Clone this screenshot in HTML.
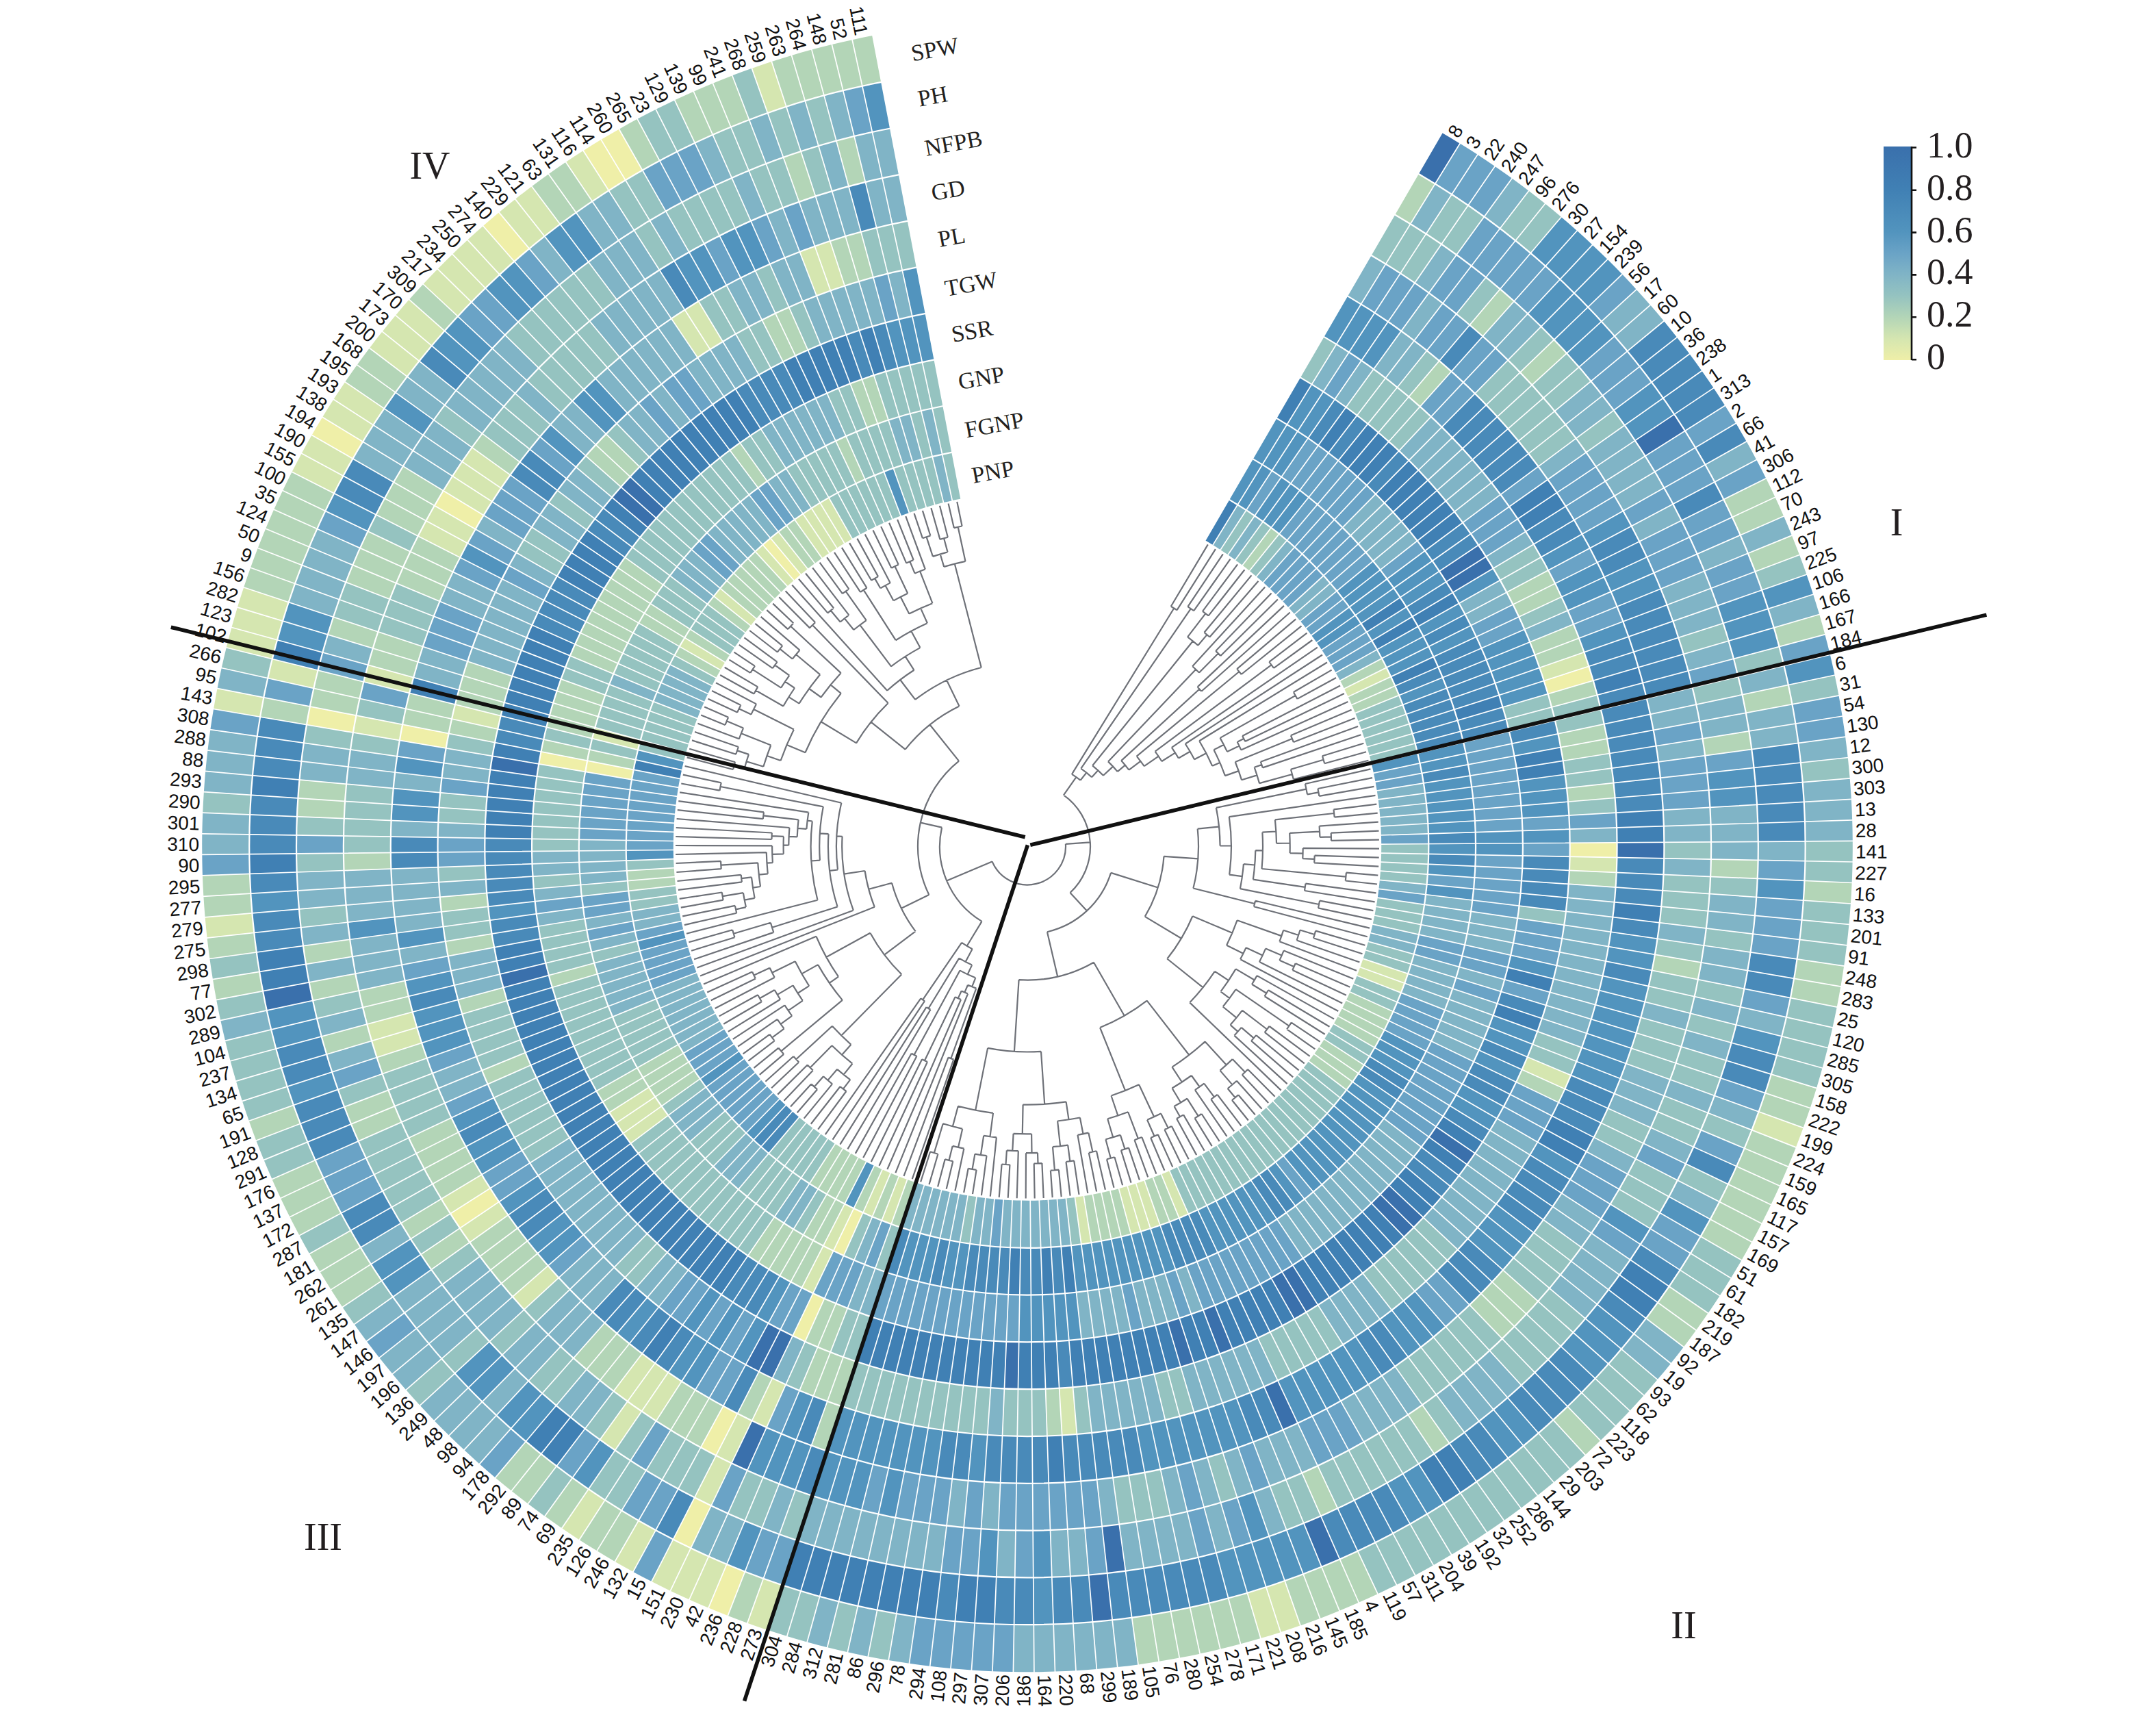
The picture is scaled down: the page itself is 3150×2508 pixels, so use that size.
<!DOCTYPE html><html><head><meta charset="utf-8"><title>Circular heatmap</title>
<style>html,body{margin:0;padding:0;background:#fff}svg{display:block}.s{font-family:"Liberation Sans",sans-serif;font-size:28px;fill:#111}.t{font-family:"Liberation Serif",serif;font-size:34px;fill:#231f20}.g{font-family:"Liberation Serif",serif;font-size:56px;fill:#231f20}.l{font-family:"Liberation Serif",serif;font-size:54px;fill:#231f20}</style></head><body>
<svg xmlns="http://www.w3.org/2000/svg" width="3150" height="2508" viewBox="0 0 3150 2508">
<rect width="3150" height="2508" fill="#fff"/>
<g fill="none" stroke-width="69.4">
<path d="M2089.4 223.9A1171.1 1171.1 0 0 1 2114.8 239.2" stroke="#3a70ac"/>
<path d="M2114.8 239.2A1171.1 1171.1 0 0 1 2139.9 255" stroke="#6aa3c6"/>
<path d="M2139.9 255A1171.1 1171.1 0 0 1 2164.5 271.5" stroke="#6aa3c6"/>
<path d="M2164.5 271.5A1171.1 1171.1 0 0 1 2188.7 288.6" stroke="#6aa3c6"/>
<path d="M2188.7 288.6A1171.1 1171.1 0 0 1 2212.5 306.3" stroke="#80b4c6"/>
<path d="M2212.5 306.3A1171.1 1171.1 0 0 1 2235.8 324.6" stroke="#95c3c0"/>
<path d="M2235.8 324.6A1171.1 1171.1 0 0 1 2258.6 343.5" stroke="#95c3c0"/>
<path d="M2258.6 343.5A1171.1 1171.1 0 0 1 2281 362.9" stroke="#5294be"/>
<path d="M2281 362.9A1171.1 1171.1 0 0 1 2302.8 383" stroke="#5294be"/>
<path d="M2302.8 383A1171.1 1171.1 0 0 1 2324.2 403.5" stroke="#5294be"/>
<path d="M2324.2 403.5A1171.1 1171.1 0 0 1 2345 424.6" stroke="#5294be"/>
<path d="M2345 424.6A1171.1 1171.1 0 0 1 2365.3 446.3" stroke="#6aa3c6"/>
<path d="M2365.3 446.3A1171.1 1171.1 0 0 1 2385 468.4" stroke="#80b4c6"/>
<path d="M2385 468.4A1171.1 1171.1 0 0 1 2404.2 491" stroke="#80b4c6"/>
<path d="M2404.2 491A1171.1 1171.1 0 0 1 2422.7 514.1" stroke="#498ab9"/>
<path d="M2422.7 514.1A1171.1 1171.1 0 0 1 2440.7 537.7" stroke="#498ab9"/>
<path d="M2440.7 537.7A1171.1 1171.1 0 0 1 2458.1 561.7" stroke="#498ab9"/>
<path d="M2458.1 561.7A1171.1 1171.1 0 0 1 2474.9 586.1" stroke="#498ab9"/>
<path d="M2474.9 586.1A1171.1 1171.1 0 0 1 2491 611" stroke="#498ab9"/>
<path d="M2491 611A1171.1 1171.1 0 0 1 2506.5 636.2" stroke="#6aa3c6"/>
<path d="M2506.5 636.2A1171.1 1171.1 0 0 1 2521.4 661.8" stroke="#498ab9"/>
<path d="M2521.4 661.8A1171.1 1171.1 0 0 1 2535.6 687.9" stroke="#80b4c6"/>
<path d="M2535.6 687.9A1171.1 1171.1 0 0 1 2549.2 714.2" stroke="#6aa3c6"/>
<path d="M2549.2 714.2A1171.1 1171.1 0 0 1 2562.1 740.9" stroke="#b3d5b7"/>
<path d="M2562.1 740.9A1171.1 1171.1 0 0 1 2574.3 767.9" stroke="#b3d5b7"/>
<path d="M2574.3 767.9A1171.1 1171.1 0 0 1 2585.8 795.2" stroke="#80b4c6"/>
<path d="M2585.8 795.2A1171.1 1171.1 0 0 1 2596.6 822.8" stroke="#b3d5b7"/>
<path d="M2596.6 822.8A1171.1 1171.1 0 0 1 2606.7 850.7" stroke="#95c3c0"/>
<path d="M2606.7 850.7A1171.1 1171.1 0 0 1 2616.1 878.8" stroke="#5294be"/>
<path d="M2616.1 878.8A1171.1 1171.1 0 0 1 2624.8 907.1" stroke="#80b4c6"/>
<path d="M2624.8 907.1A1171.1 1171.1 0 0 1 2632.8 935.7" stroke="#b3d5b7"/>
<path d="M2632.8 935.7A1171.1 1171.1 0 0 1 2640.1 964.4" stroke="#6aa3c6"/>
<path d="M2640.1 964.4A1171.1 1171.1 0 0 1 2646.6 993.3" stroke="#5294be"/>
<path d="M2646.6 993.3A1171.1 1171.1 0 0 1 2652.4 1022.4" stroke="#95c3c0"/>
<path d="M2652.4 1022.4A1171.1 1171.1 0 0 1 2657.4 1051.6" stroke="#6aa3c6"/>
<path d="M2657.4 1051.6A1171.1 1171.1 0 0 1 2661.7 1080.9" stroke="#6aa3c6"/>
<path d="M2661.7 1080.9A1171.1 1171.1 0 0 1 2665.3 1110.4" stroke="#80b4c6"/>
<path d="M2665.3 1110.4A1171.1 1171.1 0 0 1 2668.1 1139.9" stroke="#95c3c0"/>
<path d="M2668.1 1139.9A1171.1 1171.1 0 0 1 2670.2 1169.4" stroke="#80b4c6"/>
<path d="M2670.2 1169.4A1171.1 1171.1 0 0 1 2671.5 1199" stroke="#80b4c6"/>
<path d="M2671.5 1199A1171.1 1171.1 0 0 1 2672.1 1228.7" stroke="#80b4c6"/>
<path d="M2672.1 1228.7A1171.1 1171.1 0 0 1 2671.9 1258.3" stroke="#95c3c0"/>
<path d="M2671.9 1258.3A1171.1 1171.1 0 0 1 2671 1287.9" stroke="#95c3c0"/>
<path d="M2671 1287.9A1171.1 1171.1 0 0 1 2669.3 1317.5" stroke="#b3d5b7"/>
<path d="M2669.3 1317.5A1171.1 1171.1 0 0 1 2666.9 1347.1" stroke="#95c3c0"/>
<path d="M2666.9 1347.1A1171.1 1171.1 0 0 1 2663.7 1376.6" stroke="#95c3c0"/>
<path d="M2663.7 1376.6A1171.1 1171.1 0 0 1 2659.8 1405.9" stroke="#95c3c0"/>
<path d="M2659.8 1405.9A1171.1 1171.1 0 0 1 2655.1 1435.2" stroke="#b3d5b7"/>
<path d="M2655.1 1435.2A1171.1 1171.1 0 0 1 2649.7 1464.3" stroke="#b3d5b7"/>
<path d="M2649.7 1464.3A1171.1 1171.1 0 0 1 2643.6 1493.3" stroke="#95c3c0"/>
<path d="M2643.6 1493.3A1171.1 1171.1 0 0 1 2636.7 1522.2" stroke="#95c3c0"/>
<path d="M2636.7 1522.2A1171.1 1171.1 0 0 1 2629.1 1550.8" stroke="#95c3c0"/>
<path d="M2629.1 1550.8A1171.1 1171.1 0 0 1 2620.8 1579.3" stroke="#95c3c0"/>
<path d="M2620.8 1579.3A1171.1 1171.1 0 0 1 2611.8 1607.5" stroke="#b3d5b7"/>
<path d="M2611.8 1607.5A1171.1 1171.1 0 0 1 2602 1635.5" stroke="#b3d5b7"/>
<path d="M2602 1635.5A1171.1 1171.1 0 0 1 2591.6 1663.2" stroke="#d5e6b0"/>
<path d="M2591.6 1663.2A1171.1 1171.1 0 0 1 2580.4 1690.7" stroke="#b3d5b7"/>
<path d="M2580.4 1690.7A1171.1 1171.1 0 0 1 2568.6 1717.9" stroke="#b3d5b7"/>
<path d="M2568.6 1717.9A1171.1 1171.1 0 0 1 2556.1 1744.7" stroke="#b3d5b7"/>
<path d="M2556.1 1744.7A1171.1 1171.1 0 0 1 2542.9 1771.3" stroke="#b3d5b7"/>
<path d="M2542.9 1771.3A1171.1 1171.1 0 0 1 2529 1797.5" stroke="#b3d5b7"/>
<path d="M2529 1797.5A1171.1 1171.1 0 0 1 2514.5 1823.3" stroke="#b3d5b7"/>
<path d="M2514.5 1823.3A1171.1 1171.1 0 0 1 2499.3 1848.8" stroke="#95c3c0"/>
<path d="M2499.3 1848.8A1171.1 1171.1 0 0 1 2483.5 1873.8" stroke="#95c3c0"/>
<path d="M2483.5 1873.8A1171.1 1171.1 0 0 1 2467 1898.5" stroke="#95c3c0"/>
<path d="M2467 1898.5A1171.1 1171.1 0 0 1 2450 1922.7" stroke="#b3d5b7"/>
<path d="M2450 1922.7A1171.1 1171.1 0 0 1 2432.3 1946.5" stroke="#b3d5b7"/>
<path d="M2432.3 1946.5A1171.1 1171.1 0 0 1 2414 1969.9" stroke="#80b4c6"/>
<path d="M2414 1969.9A1171.1 1171.1 0 0 1 2395.2 1992.7" stroke="#80b4c6"/>
<path d="M2395.2 1992.7A1171.1 1171.1 0 0 1 2375.8 2015.1" stroke="#95c3c0"/>
<path d="M2375.8 2015.1A1171.1 1171.1 0 0 1 2355.8 2037" stroke="#95c3c0"/>
<path d="M2355.8 2037A1171.1 1171.1 0 0 1 2335.2 2058.4" stroke="#95c3c0"/>
<path d="M2335.2 2058.4A1171.1 1171.1 0 0 1 2314.2 2079.2" stroke="#95c3c0"/>
<path d="M2314.2 2079.2A1171.1 1171.1 0 0 1 2292.6 2099.6" stroke="#b3d5b7"/>
<path d="M2292.6 2099.6A1171.1 1171.1 0 0 1 2270.5 2119.3" stroke="#95c3c0"/>
<path d="M2270.5 2119.3A1171.1 1171.1 0 0 1 2247.9 2138.5" stroke="#95c3c0"/>
<path d="M2247.9 2138.5A1171.1 1171.1 0 0 1 2224.8 2157.1" stroke="#95c3c0"/>
<path d="M2224.8 2157.1A1171.1 1171.1 0 0 1 2201.3 2175.1" stroke="#95c3c0"/>
<path d="M2201.3 2175.1A1171.1 1171.1 0 0 1 2177.3 2192.6" stroke="#95c3c0"/>
<path d="M2177.3 2192.6A1171.1 1171.1 0 0 1 2152.9 2209.4" stroke="#95c3c0"/>
<path d="M2152.9 2209.4A1171.1 1171.1 0 0 1 2128.1 2225.6" stroke="#95c3c0"/>
<path d="M2128.1 2225.6A1171.1 1171.1 0 0 1 2102.8 2241.1" stroke="#95c3c0"/>
<path d="M2102.8 2241.1A1171.1 1171.1 0 0 1 2077.2 2256" stroke="#95c3c0"/>
<path d="M2077.2 2256A1171.1 1171.1 0 0 1 2051.2 2270.3" stroke="#95c3c0"/>
<path d="M2051.2 2270.3A1171.1 1171.1 0 0 1 2024.9 2283.9" stroke="#95c3c0"/>
<path d="M2024.9 2283.9A1171.1 1171.1 0 0 1 1998.2 2296.8" stroke="#95c3c0"/>
<path d="M1998.2 2296.8A1171.1 1171.1 0 0 1 1971.2 2309" stroke="#b3d5b7"/>
<path d="M1971.2 2309A1171.1 1171.1 0 0 1 1943.9 2320.6" stroke="#b3d5b7"/>
<path d="M1943.9 2320.6A1171.1 1171.1 0 0 1 1916.4 2331.5" stroke="#b3d5b7"/>
<path d="M1916.4 2331.5A1171.1 1171.1 0 0 1 1888.5 2341.6" stroke="#b3d5b7"/>
<path d="M1888.5 2341.6A1171.1 1171.1 0 0 1 1860.4 2351.1" stroke="#d5e6b0"/>
<path d="M1860.4 2351.1A1171.1 1171.1 0 0 1 1832.1 2359.8" stroke="#d5e6b0"/>
<path d="M1832.1 2359.8A1171.1 1171.1 0 0 1 1803.6 2367.8" stroke="#b3d5b7"/>
<path d="M1803.6 2367.8A1171.1 1171.1 0 0 1 1774.8 2375.1" stroke="#b3d5b7"/>
<path d="M1774.8 2375.1A1171.1 1171.1 0 0 1 1745.9 2381.7" stroke="#b3d5b7"/>
<path d="M1745.9 2381.7A1171.1 1171.1 0 0 1 1716.9 2387.5" stroke="#b3d5b7"/>
<path d="M1716.9 2387.5A1171.1 1171.1 0 0 1 1687.7 2392.6" stroke="#b3d5b7"/>
<path d="M1687.7 2392.6A1171.1 1171.1 0 0 1 1658.4 2397" stroke="#b3d5b7"/>
<path d="M1658.4 2397A1171.1 1171.1 0 0 1 1628.9 2400.6" stroke="#80b4c6"/>
<path d="M1628.9 2400.6A1171.1 1171.1 0 0 1 1599.4 2403.5" stroke="#80b4c6"/>
<path d="M1599.4 2403.5A1171.1 1171.1 0 0 1 1569.9 2405.6" stroke="#80b4c6"/>
<path d="M1569.9 2405.6A1171.1 1171.1 0 0 1 1540.3 2406.9" stroke="#80b4c6"/>
<path d="M1540.3 2406.9A1171.1 1171.1 0 0 1 1510.6 2407.6" stroke="#80b4c6"/>
<path d="M1510.6 2407.6A1171.1 1171.1 0 0 1 1481 2407.4" stroke="#80b4c6"/>
<path d="M1481 2407.4A1171.1 1171.1 0 0 1 1451.4 2406.5" stroke="#6aa3c6"/>
<path d="M1451.4 2406.5A1171.1 1171.1 0 0 1 1421.8 2404.9" stroke="#6aa3c6"/>
<path d="M1421.8 2404.9A1171.1 1171.1 0 0 1 1392.2 2402.5" stroke="#6aa3c6"/>
<path d="M1392.2 2402.5A1171.1 1171.1 0 0 1 1362.8 2399.4" stroke="#6aa3c6"/>
<path d="M1362.8 2399.4A1171.1 1171.1 0 0 1 1333.4 2395.5" stroke="#6aa3c6"/>
<path d="M1333.4 2395.5A1171.1 1171.1 0 0 1 1304.1 2390.9" stroke="#80b4c6"/>
<path d="M1304.1 2390.9A1171.1 1171.1 0 0 1 1274.9 2385.6" stroke="#95c3c0"/>
<path d="M1274.9 2385.6A1171.1 1171.1 0 0 1 1245.9 2379.5" stroke="#80b4c6"/>
<path d="M1245.9 2379.5A1171.1 1171.1 0 0 1 1217.1 2372.7" stroke="#95c3c0"/>
<path d="M1217.1 2372.7A1171.1 1171.1 0 0 1 1188.4 2365.1" stroke="#80b4c6"/>
<path d="M1188.4 2365.1A1171.1 1171.1 0 0 1 1160 2356.8" stroke="#95c3c0"/>
<path d="M1160 2356.8A1171.1 1171.1 0 0 1 1131.7 2347.9" stroke="#95c3c0"/>
<path d="M1131.7 2347.9A1171.1 1171.1 0 0 1 1103.7 2338.1" stroke="#d5e6b0"/>
<path d="M1103.7 2338.1A1171.1 1171.1 0 0 1 1075.9 2327.7" stroke="#b3d5b7"/>
<path d="M1075.9 2327.7A1171.1 1171.1 0 0 1 1048.5 2316.6" stroke="#efefa8"/>
<path d="M1048.5 2316.6A1171.1 1171.1 0 0 1 1021.3 2304.8" stroke="#d5e6b0"/>
<path d="M1021.3 2304.8A1171.1 1171.1 0 0 1 994.4 2292.4" stroke="#d5e6b0"/>
<path d="M994.4 2292.4A1171.1 1171.1 0 0 1 967.8 2279.2" stroke="#d5e6b0"/>
<path d="M967.8 2279.2A1171.1 1171.1 0 0 1 941.6 2265.4" stroke="#6aa3c6"/>
<path d="M941.6 2265.4A1171.1 1171.1 0 0 1 915.8 2250.9" stroke="#d5e6b0"/>
<path d="M915.8 2250.9A1171.1 1171.1 0 0 1 890.3 2235.7" stroke="#b3d5b7"/>
<path d="M890.3 2235.7A1171.1 1171.1 0 0 1 865.2 2220" stroke="#b3d5b7"/>
<path d="M865.2 2220A1171.1 1171.1 0 0 1 840.5 2203.6" stroke="#d5e6b0"/>
<path d="M840.5 2203.6A1171.1 1171.1 0 0 1 816.2 2186.5" stroke="#b3d5b7"/>
<path d="M816.2 2186.5A1171.1 1171.1 0 0 1 792.4 2168.9" stroke="#95c3c0"/>
<path d="M792.4 2168.9A1171.1 1171.1 0 0 1 769 2150.7" stroke="#b3d5b7"/>
<path d="M769 2150.7A1171.1 1171.1 0 0 1 746.1 2131.9" stroke="#b3d5b7"/>
<path d="M746.1 2131.9A1171.1 1171.1 0 0 1 723.7 2112.5" stroke="#6aa3c6"/>
<path d="M723.7 2112.5A1171.1 1171.1 0 0 1 701.8 2092.5" stroke="#80b4c6"/>
<path d="M701.8 2092.5A1171.1 1171.1 0 0 1 680.4 2072" stroke="#80b4c6"/>
<path d="M680.4 2072A1171.1 1171.1 0 0 1 659.5 2051" stroke="#80b4c6"/>
<path d="M659.5 2051A1171.1 1171.1 0 0 1 639.2 2029.4" stroke="#80b4c6"/>
<path d="M639.2 2029.4A1171.1 1171.1 0 0 1 619.4 2007.4" stroke="#95c3c0"/>
<path d="M619.4 2007.4A1171.1 1171.1 0 0 1 600.2 1984.8" stroke="#80b4c6"/>
<path d="M600.2 1984.8A1171.1 1171.1 0 0 1 581.5 1961.8" stroke="#80b4c6"/>
<path d="M581.5 1961.8A1171.1 1171.1 0 0 1 563.4 1938.3" stroke="#6aa3c6"/>
<path d="M563.4 1938.3A1171.1 1171.1 0 0 1 546 1914.3" stroke="#80b4c6"/>
<path d="M546 1914.3A1171.1 1171.1 0 0 1 529.1 1889.9" stroke="#95c3c0"/>
<path d="M529.1 1889.9A1171.1 1171.1 0 0 1 512.9 1865.1" stroke="#b3d5b7"/>
<path d="M512.9 1865.1A1171.1 1171.1 0 0 1 497.3 1839.9" stroke="#b3d5b7"/>
<path d="M497.3 1839.9A1171.1 1171.1 0 0 1 482.4 1814.3" stroke="#b3d5b7"/>
<path d="M482.4 1814.3A1171.1 1171.1 0 0 1 468.1 1788.3" stroke="#95c3c0"/>
<path d="M468.1 1788.3A1171.1 1171.1 0 0 1 454.4 1762" stroke="#b3d5b7"/>
<path d="M454.4 1762A1171.1 1171.1 0 0 1 441.5 1735.4" stroke="#b3d5b7"/>
<path d="M441.5 1735.4A1171.1 1171.1 0 0 1 429.2 1708.4" stroke="#b3d5b7"/>
<path d="M429.2 1708.4A1171.1 1171.1 0 0 1 417.6 1681.1" stroke="#95c3c0"/>
<path d="M417.6 1681.1A1171.1 1171.1 0 0 1 406.7 1653.6" stroke="#95c3c0"/>
<path d="M406.7 1653.6A1171.1 1171.1 0 0 1 396.5 1625.7" stroke="#b3d5b7"/>
<path d="M396.5 1625.7A1171.1 1171.1 0 0 1 387 1597.7" stroke="#95c3c0"/>
<path d="M387 1597.7A1171.1 1171.1 0 0 1 378.2 1569.3" stroke="#95c3c0"/>
<path d="M378.2 1569.3A1171.1 1171.1 0 0 1 370.1 1540.8" stroke="#95c3c0"/>
<path d="M370.1 1540.8A1171.1 1171.1 0 0 1 362.8 1512.1" stroke="#95c3c0"/>
<path d="M362.8 1512.1A1171.1 1171.1 0 0 1 356.2 1483.2" stroke="#80b4c6"/>
<path d="M356.2 1483.2A1171.1 1171.1 0 0 1 350.3 1454.2" stroke="#95c3c0"/>
<path d="M350.3 1454.2A1171.1 1171.1 0 0 1 345.2 1425" stroke="#b3d5b7"/>
<path d="M345.2 1425A1171.1 1171.1 0 0 1 340.8 1395.7" stroke="#95c3c0"/>
<path d="M340.8 1395.7A1171.1 1171.1 0 0 1 337.1 1366.2" stroke="#b3d5b7"/>
<path d="M337.1 1366.2A1171.1 1171.1 0 0 1 334.2 1336.7" stroke="#d5e6b0"/>
<path d="M334.2 1336.7A1171.1 1171.1 0 0 1 332 1307.2" stroke="#b3d5b7"/>
<path d="M332 1307.2A1171.1 1171.1 0 0 1 330.6 1277.6" stroke="#b3d5b7"/>
<path d="M330.6 1277.6A1171.1 1171.1 0 0 1 330 1247.9" stroke="#6aa3c6"/>
<path d="M330 1247.9A1171.1 1171.1 0 0 1 330 1218.3" stroke="#80b4c6"/>
<path d="M330 1218.3A1171.1 1171.1 0 0 1 330.9 1188.7" stroke="#80b4c6"/>
<path d="M330.9 1188.7A1171.1 1171.1 0 0 1 332.5 1159.1" stroke="#95c3c0"/>
<path d="M332.5 1159.1A1171.1 1171.1 0 0 1 334.8 1129.5" stroke="#80b4c6"/>
<path d="M334.8 1129.5A1171.1 1171.1 0 0 1 337.9 1100.1" stroke="#80b4c6"/>
<path d="M337.9 1100.1A1171.1 1171.1 0 0 1 341.7 1070.7" stroke="#80b4c6"/>
<path d="M341.7 1070.7A1171.1 1171.1 0 0 1 346.3 1041.4" stroke="#6aa3c6"/>
<path d="M346.3 1041.4A1171.1 1171.1 0 0 1 351.6 1012.2" stroke="#d5e6b0"/>
<path d="M351.6 1012.2A1171.1 1171.1 0 0 1 357.6 983.2" stroke="#80b4c6"/>
<path d="M357.6 983.2A1171.1 1171.1 0 0 1 364.4 954.3" stroke="#95c3c0"/>
<path d="M364.4 954.3A1171.1 1171.1 0 0 1 371.9 925.7" stroke="#d5e6b0"/>
<path d="M371.9 925.7A1171.1 1171.1 0 0 1 380.1 897.2" stroke="#d5e6b0"/>
<path d="M380.1 897.2A1171.1 1171.1 0 0 1 389.1 868.9" stroke="#d5e6b0"/>
<path d="M389.1 868.9A1171.1 1171.1 0 0 1 398.7 840.9" stroke="#b3d5b7"/>
<path d="M398.7 840.9A1171.1 1171.1 0 0 1 409.1 813.1" stroke="#b3d5b7"/>
<path d="M409.1 813.1A1171.1 1171.1 0 0 1 420.2 785.6" stroke="#b3d5b7"/>
<path d="M420.2 785.6A1171.1 1171.1 0 0 1 431.9 758.4" stroke="#b3d5b7"/>
<path d="M431.9 758.4A1171.1 1171.1 0 0 1 444.4 731.5" stroke="#b3d5b7"/>
<path d="M444.4 731.5A1171.1 1171.1 0 0 1 457.5 705" stroke="#b3d5b7"/>
<path d="M457.5 705A1171.1 1171.1 0 0 1 471.3 678.7" stroke="#d5e6b0"/>
<path d="M471.3 678.7A1171.1 1171.1 0 0 1 485.7 652.8" stroke="#d5e6b0"/>
<path d="M485.7 652.8A1171.1 1171.1 0 0 1 500.8 627.3" stroke="#efefa8"/>
<path d="M500.8 627.3A1171.1 1171.1 0 0 1 516.5 602.2" stroke="#d5e6b0"/>
<path d="M516.5 602.2A1171.1 1171.1 0 0 1 532.9 577.5" stroke="#d5e6b0"/>
<path d="M532.9 577.5A1171.1 1171.1 0 0 1 549.9 553.2" stroke="#b3d5b7"/>
<path d="M549.9 553.2A1171.1 1171.1 0 0 1 567.5 529.4" stroke="#b3d5b7"/>
<path d="M567.5 529.4A1171.1 1171.1 0 0 1 585.7 506" stroke="#d5e6b0"/>
<path d="M585.7 506A1171.1 1171.1 0 0 1 604.5 483" stroke="#d5e6b0"/>
<path d="M604.5 483A1171.1 1171.1 0 0 1 623.8 460.6" stroke="#d5e6b0"/>
<path d="M623.8 460.6A1171.1 1171.1 0 0 1 643.8 438.6" stroke="#b3d5b7"/>
<path d="M643.8 438.6A1171.1 1171.1 0 0 1 664.2 417.2" stroke="#d5e6b0"/>
<path d="M664.2 417.2A1171.1 1171.1 0 0 1 685.2 396.3" stroke="#d5e6b0"/>
<path d="M685.2 396.3A1171.1 1171.1 0 0 1 706.7 375.9" stroke="#d5e6b0"/>
<path d="M706.7 375.9A1171.1 1171.1 0 0 1 728.8 356.1" stroke="#d5e6b0"/>
<path d="M728.8 356.1A1171.1 1171.1 0 0 1 751.3 336.8" stroke="#efefa8"/>
<path d="M751.3 336.8A1171.1 1171.1 0 0 1 774.3 318.1" stroke="#d5e6b0"/>
<path d="M774.3 318.1A1171.1 1171.1 0 0 1 797.8 300" stroke="#d5e6b0"/>
<path d="M797.8 300A1171.1 1171.1 0 0 1 821.7 282.5" stroke="#b3d5b7"/>
<path d="M821.7 282.5A1171.1 1171.1 0 0 1 846.1 265.6" stroke="#b3d5b7"/>
<path d="M846.1 265.6A1171.1 1171.1 0 0 1 870.9 249.4" stroke="#d5e6b0"/>
<path d="M870.9 249.4A1171.1 1171.1 0 0 1 896 233.8" stroke="#efefa8"/>
<path d="M896 233.8A1171.1 1171.1 0 0 1 921.6 218.8" stroke="#efefa8"/>
<path d="M921.6 218.8A1171.1 1171.1 0 0 1 947.6 204.4" stroke="#b3d5b7"/>
<path d="M947.6 204.4A1171.1 1171.1 0 0 1 973.9 190.8" stroke="#95c3c0"/>
<path d="M973.9 190.8A1171.1 1171.1 0 0 1 1000.5 177.7" stroke="#95c3c0"/>
<path d="M1000.5 177.7A1171.1 1171.1 0 0 1 1027.4 165.4" stroke="#b3d5b7"/>
<path d="M1027.4 165.4A1171.1 1171.1 0 0 1 1054.7 153.8" stroke="#b3d5b7"/>
<path d="M1054.7 153.8A1171.1 1171.1 0 0 1 1082.2 142.8" stroke="#b3d5b7"/>
<path d="M1082.2 142.8A1171.1 1171.1 0 0 1 1110.1 132.6" stroke="#95c3c0"/>
<path d="M1110.1 132.6A1171.1 1171.1 0 0 1 1138.1 123" stroke="#d5e6b0"/>
<path d="M1138.1 123A1171.1 1171.1 0 0 1 1166.4 114.2" stroke="#b3d5b7"/>
<path d="M1166.4 114.2A1171.1 1171.1 0 0 1 1194.9 106.1" stroke="#b3d5b7"/>
<path d="M1194.9 106.1A1171.1 1171.1 0 0 1 1223.6 98.7" stroke="#b3d5b7"/>
<path d="M1223.6 98.7A1171.1 1171.1 0 0 1 1252.5 92.1" stroke="#b3d5b7"/>
<path d="M1252.5 92.1A1171.1 1171.1 0 0 1 1281.6 86.1" stroke="#b3d5b7"/>
<path d="M2054.8 283.4A1102.3 1102.3 0 0 1 2078.8 297.7" stroke="#b3d5b7"/>
<path d="M2078.8 297.7A1102.3 1102.3 0 0 1 2102.3 312.7" stroke="#80b4c6"/>
<path d="M2102.3 312.7A1102.3 1102.3 0 0 1 2125.5 328.2" stroke="#95c3c0"/>
<path d="M2125.5 328.2A1102.3 1102.3 0 0 1 2148.3 344.3" stroke="#95c3c0"/>
<path d="M2148.3 344.3A1102.3 1102.3 0 0 1 2170.7 360.9" stroke="#6aa3c6"/>
<path d="M2170.7 360.9A1102.3 1102.3 0 0 1 2192.6 378.2" stroke="#6aa3c6"/>
<path d="M2192.6 378.2A1102.3 1102.3 0 0 1 2214.1 396" stroke="#6aa3c6"/>
<path d="M2214.1 396A1102.3 1102.3 0 0 1 2235.2 414.3" stroke="#6aa3c6"/>
<path d="M2235.2 414.3A1102.3 1102.3 0 0 1 2255.7 433.1" stroke="#6aa3c6"/>
<path d="M2255.7 433.1A1102.3 1102.3 0 0 1 2275.8 452.5" stroke="#5294be"/>
<path d="M2275.8 452.5A1102.3 1102.3 0 0 1 2295.4 472.3" stroke="#5294be"/>
<path d="M2295.4 472.3A1102.3 1102.3 0 0 1 2314.5 492.7" stroke="#5294be"/>
<path d="M2314.5 492.7A1102.3 1102.3 0 0 1 2333.1 513.5" stroke="#5294be"/>
<path d="M2333.1 513.5A1102.3 1102.3 0 0 1 2351.1 534.8" stroke="#6aa3c6"/>
<path d="M2351.1 534.8A1102.3 1102.3 0 0 1 2368.6 556.5" stroke="#6aa3c6"/>
<path d="M2368.6 556.5A1102.3 1102.3 0 0 1 2385.5 578.7" stroke="#6aa3c6"/>
<path d="M2385.5 578.7A1102.3 1102.3 0 0 1 2401.9 601.3" stroke="#5294be"/>
<path d="M2401.9 601.3A1102.3 1102.3 0 0 1 2417.7 624.3" stroke="#5294be"/>
<path d="M2417.7 624.3A1102.3 1102.3 0 0 1 2432.9 647.7" stroke="#3a70ac"/>
<path d="M2432.9 647.7A1102.3 1102.3 0 0 1 2447.5 671.5" stroke="#6aa3c6"/>
<path d="M2447.5 671.5A1102.3 1102.3 0 0 1 2461.5 695.6" stroke="#6aa3c6"/>
<path d="M2461.5 695.6A1102.3 1102.3 0 0 1 2474.9 720.1" stroke="#6aa3c6"/>
<path d="M2474.9 720.1A1102.3 1102.3 0 0 1 2487.6 744.9" stroke="#498ab9"/>
<path d="M2487.6 744.9A1102.3 1102.3 0 0 1 2499.7 770" stroke="#6aa3c6"/>
<path d="M2499.7 770A1102.3 1102.3 0 0 1 2511.2 795.5" stroke="#6aa3c6"/>
<path d="M2511.2 795.5A1102.3 1102.3 0 0 1 2522.1 821.2" stroke="#80b4c6"/>
<path d="M2522.1 821.2A1102.3 1102.3 0 0 1 2532.2 847.1" stroke="#6aa3c6"/>
<path d="M2532.2 847.1A1102.3 1102.3 0 0 1 2541.8 873.4" stroke="#6aa3c6"/>
<path d="M2541.8 873.4A1102.3 1102.3 0 0 1 2550.6 899.8" stroke="#5294be"/>
<path d="M2550.6 899.8A1102.3 1102.3 0 0 1 2558.8 926.5" stroke="#5294be"/>
<path d="M2558.8 926.5A1102.3 1102.3 0 0 1 2566.3 953.4" stroke="#5294be"/>
<path d="M2566.3 953.4A1102.3 1102.3 0 0 1 2573.1 980.4" stroke="#95c3c0"/>
<path d="M2573.1 980.4A1102.3 1102.3 0 0 1 2579.3 1007.6" stroke="#80b4c6"/>
<path d="M2579.3 1007.6A1102.3 1102.3 0 0 1 2584.7 1035" stroke="#b3d5b7"/>
<path d="M2584.7 1035A1102.3 1102.3 0 0 1 2589.5 1062.5" stroke="#80b4c6"/>
<path d="M2589.5 1062.5A1102.3 1102.3 0 0 1 2593.5 1090.1" stroke="#80b4c6"/>
<path d="M2593.5 1090.1A1102.3 1102.3 0 0 1 2596.9 1117.8" stroke="#498ab9"/>
<path d="M2596.9 1117.8A1102.3 1102.3 0 0 1 2599.5 1145.5" stroke="#498ab9"/>
<path d="M2599.5 1145.5A1102.3 1102.3 0 0 1 2601.5 1173.4" stroke="#498ab9"/>
<path d="M2601.5 1173.4A1102.3 1102.3 0 0 1 2602.7 1201.2" stroke="#498ab9"/>
<path d="M2602.7 1201.2A1102.3 1102.3 0 0 1 2603.3 1229.1" stroke="#498ab9"/>
<path d="M2603.3 1229.1A1102.3 1102.3 0 0 1 2603.1 1257" stroke="#80b4c6"/>
<path d="M2603.1 1257A1102.3 1102.3 0 0 1 2602.2 1284.9" stroke="#6aa3c6"/>
<path d="M2602.2 1284.9A1102.3 1102.3 0 0 1 2600.7 1312.8" stroke="#5294be"/>
<path d="M2600.7 1312.8A1102.3 1102.3 0 0 1 2598.4 1340.6" stroke="#6aa3c6"/>
<path d="M2598.4 1340.6A1102.3 1102.3 0 0 1 2595.4 1368.3" stroke="#6aa3c6"/>
<path d="M2595.4 1368.3A1102.3 1102.3 0 0 1 2591.7 1396" stroke="#6aa3c6"/>
<path d="M2591.7 1396A1102.3 1102.3 0 0 1 2587.3 1423.5" stroke="#498ab9"/>
<path d="M2587.3 1423.5A1102.3 1102.3 0 0 1 2582.2 1451" stroke="#498ab9"/>
<path d="M2582.2 1451A1102.3 1102.3 0 0 1 2576.5 1478.3" stroke="#6aa3c6"/>
<path d="M2576.5 1478.3A1102.3 1102.3 0 0 1 2570 1505.4" stroke="#80b4c6"/>
<path d="M2570 1505.4A1102.3 1102.3 0 0 1 2562.9 1532.4" stroke="#5294be"/>
<path d="M2562.9 1532.4A1102.3 1102.3 0 0 1 2555 1559.1" stroke="#498ab9"/>
<path d="M2555 1559.1A1102.3 1102.3 0 0 1 2546.5 1585.7" stroke="#498ab9"/>
<path d="M2546.5 1585.7A1102.3 1102.3 0 0 1 2537.3 1612.1" stroke="#6aa3c6"/>
<path d="M2537.3 1612.1A1102.3 1102.3 0 0 1 2527.5 1638.2" stroke="#80b4c6"/>
<path d="M2527.5 1638.2A1102.3 1102.3 0 0 1 2517 1664" stroke="#95c3c0"/>
<path d="M2517 1664A1102.3 1102.3 0 0 1 2505.9 1689.6" stroke="#6aa3c6"/>
<path d="M2505.9 1689.6A1102.3 1102.3 0 0 1 2494.1 1714.9" stroke="#498ab9"/>
<path d="M2494.1 1714.9A1102.3 1102.3 0 0 1 2481.7 1739.9" stroke="#95c3c0"/>
<path d="M2481.7 1739.9A1102.3 1102.3 0 0 1 2468.6 1764.5" stroke="#80b4c6"/>
<path d="M2468.6 1764.5A1102.3 1102.3 0 0 1 2454.9 1788.8" stroke="#5294be"/>
<path d="M2454.9 1788.8A1102.3 1102.3 0 0 1 2440.6 1812.8" stroke="#6aa3c6"/>
<path d="M2440.6 1812.8A1102.3 1102.3 0 0 1 2425.8 1836.4" stroke="#6aa3c6"/>
<path d="M2425.8 1836.4A1102.3 1102.3 0 0 1 2410.3 1859.6" stroke="#498ab9"/>
<path d="M2410.3 1859.6A1102.3 1102.3 0 0 1 2394.2 1882.4" stroke="#4080b4"/>
<path d="M2394.2 1882.4A1102.3 1102.3 0 0 1 2377.6 1904.8" stroke="#4080b4"/>
<path d="M2377.6 1904.8A1102.3 1102.3 0 0 1 2360.4 1926.8" stroke="#498ab9"/>
<path d="M2360.4 1926.8A1102.3 1102.3 0 0 1 2342.7 1948.3" stroke="#5294be"/>
<path d="M2342.7 1948.3A1102.3 1102.3 0 0 1 2324.4 1969.4" stroke="#5294be"/>
<path d="M2324.4 1969.4A1102.3 1102.3 0 0 1 2305.6 1990" stroke="#5294be"/>
<path d="M2305.6 1990A1102.3 1102.3 0 0 1 2286.2 2010.1" stroke="#498ab9"/>
<path d="M2286.2 2010.1A1102.3 1102.3 0 0 1 2266.4 2029.7" stroke="#498ab9"/>
<path d="M2266.4 2029.7A1102.3 1102.3 0 0 1 2246.1 2048.9" stroke="#498ab9"/>
<path d="M2246.1 2048.9A1102.3 1102.3 0 0 1 2225.3 2067.5" stroke="#498ab9"/>
<path d="M2225.3 2067.5A1102.3 1102.3 0 0 1 2204 2085.5" stroke="#5294be"/>
<path d="M2204 2085.5A1102.3 1102.3 0 0 1 2182.3 2103" stroke="#5294be"/>
<path d="M2182.3 2103A1102.3 1102.3 0 0 1 2160.2 2120" stroke="#498ab9"/>
<path d="M2160.2 2120A1102.3 1102.3 0 0 1 2137.6 2136.4" stroke="#498ab9"/>
<path d="M2137.6 2136.4A1102.3 1102.3 0 0 1 2114.6 2152.2" stroke="#4080b4"/>
<path d="M2114.6 2152.2A1102.3 1102.3 0 0 1 2091.2 2167.5" stroke="#4080b4"/>
<path d="M2091.2 2167.5A1102.3 1102.3 0 0 1 2067.5 2182.1" stroke="#5294be"/>
<path d="M2067.5 2182.1A1102.3 1102.3 0 0 1 2043.4 2196.1" stroke="#5294be"/>
<path d="M2043.4 2196.1A1102.3 1102.3 0 0 1 2018.9 2209.5" stroke="#498ab9"/>
<path d="M2018.9 2209.5A1102.3 1102.3 0 0 1 1994.1 2222.3" stroke="#498ab9"/>
<path d="M1994.1 2222.3A1102.3 1102.3 0 0 1 1969 2234.5" stroke="#498ab9"/>
<path d="M1969 2234.5A1102.3 1102.3 0 0 1 1943.6 2246" stroke="#498ab9"/>
<path d="M1943.6 2246A1102.3 1102.3 0 0 1 1917.9 2256.9" stroke="#3a70ac"/>
<path d="M1917.9 2256.9A1102.3 1102.3 0 0 1 1892 2267.1" stroke="#5294be"/>
<path d="M1892 2267.1A1102.3 1102.3 0 0 1 1865.8 2276.7" stroke="#5294be"/>
<path d="M1865.8 2276.7A1102.3 1102.3 0 0 1 1839.3 2285.6" stroke="#5294be"/>
<path d="M1839.3 2285.6A1102.3 1102.3 0 0 1 1812.7 2293.8" stroke="#5294be"/>
<path d="M1812.7 2293.8A1102.3 1102.3 0 0 1 1785.8 2301.4" stroke="#5294be"/>
<path d="M1785.8 2301.4A1102.3 1102.3 0 0 1 1758.8 2308.2" stroke="#498ab9"/>
<path d="M1758.8 2308.2A1102.3 1102.3 0 0 1 1731.5 2314.4" stroke="#498ab9"/>
<path d="M1731.5 2314.4A1102.3 1102.3 0 0 1 1704.2 2319.9" stroke="#498ab9"/>
<path d="M1704.2 2319.9A1102.3 1102.3 0 0 1 1676.7 2324.7" stroke="#498ab9"/>
<path d="M1676.7 2324.7A1102.3 1102.3 0 0 1 1649.1 2328.8" stroke="#498ab9"/>
<path d="M1649.1 2328.8A1102.3 1102.3 0 0 1 1621.4 2332.2" stroke="#498ab9"/>
<path d="M1621.4 2332.2A1102.3 1102.3 0 0 1 1593.7 2334.9" stroke="#3a70ac"/>
<path d="M1593.7 2334.9A1102.3 1102.3 0 0 1 1565.8 2336.9" stroke="#498ab9"/>
<path d="M1565.8 2336.9A1102.3 1102.3 0 0 1 1538 2338.2" stroke="#498ab9"/>
<path d="M1538 2338.2A1102.3 1102.3 0 0 1 1510.1 2338.8" stroke="#5294be"/>
<path d="M1510.1 2338.8A1102.3 1102.3 0 0 1 1482.2 2338.6" stroke="#498ab9"/>
<path d="M1482.2 2338.6A1102.3 1102.3 0 0 1 1454.3 2337.8" stroke="#498ab9"/>
<path d="M1454.3 2337.8A1102.3 1102.3 0 0 1 1426.4 2336.3" stroke="#4080b4"/>
<path d="M1426.4 2336.3A1102.3 1102.3 0 0 1 1398.6 2334" stroke="#4080b4"/>
<path d="M1398.6 2334A1102.3 1102.3 0 0 1 1370.9 2331.1" stroke="#498ab9"/>
<path d="M1370.9 2331.1A1102.3 1102.3 0 0 1 1343.2 2327.4" stroke="#4080b4"/>
<path d="M1343.2 2327.4A1102.3 1102.3 0 0 1 1315.7 2323.1" stroke="#4080b4"/>
<path d="M1315.7 2323.1A1102.3 1102.3 0 0 1 1288.2 2318.1" stroke="#4080b4"/>
<path d="M1288.2 2318.1A1102.3 1102.3 0 0 1 1260.9 2312.3" stroke="#4080b4"/>
<path d="M1260.9 2312.3A1102.3 1102.3 0 0 1 1233.8 2305.9" stroke="#4080b4"/>
<path d="M1233.8 2305.9A1102.3 1102.3 0 0 1 1206.8 2298.8" stroke="#4080b4"/>
<path d="M1206.8 2298.8A1102.3 1102.3 0 0 1 1180 2291" stroke="#4080b4"/>
<path d="M1180 2291A1102.3 1102.3 0 0 1 1153.4 2282.6" stroke="#4080b4"/>
<path d="M1153.4 2282.6A1102.3 1102.3 0 0 1 1127 2273.4" stroke="#6aa3c6"/>
<path d="M1127 2273.4A1102.3 1102.3 0 0 1 1100.9 2263.6" stroke="#6aa3c6"/>
<path d="M1100.9 2263.6A1102.3 1102.3 0 0 1 1075.1 2253.2" stroke="#5294be"/>
<path d="M1075.1 2253.2A1102.3 1102.3 0 0 1 1049.5 2242.1" stroke="#80b4c6"/>
<path d="M1049.5 2242.1A1102.3 1102.3 0 0 1 1024.2 2230.3" stroke="#80b4c6"/>
<path d="M1024.2 2230.3A1102.3 1102.3 0 0 1 999.2 2217.9" stroke="#efefa8"/>
<path d="M999.2 2217.9A1102.3 1102.3 0 0 1 974.5 2204.9" stroke="#498ab9"/>
<path d="M974.5 2204.9A1102.3 1102.3 0 0 1 950.1 2191.3" stroke="#6aa3c6"/>
<path d="M950.1 2191.3A1102.3 1102.3 0 0 1 926.2 2177" stroke="#6aa3c6"/>
<path d="M926.2 2177A1102.3 1102.3 0 0 1 902.5 2162.2" stroke="#95c3c0"/>
<path d="M902.5 2162.2A1102.3 1102.3 0 0 1 879.3 2146.7" stroke="#95c3c0"/>
<path d="M879.3 2146.7A1102.3 1102.3 0 0 1 856.5 2130.7" stroke="#5294be"/>
<path d="M856.5 2130.7A1102.3 1102.3 0 0 1 834 2114.1" stroke="#6aa3c6"/>
<path d="M834 2114.1A1102.3 1102.3 0 0 1 812 2097" stroke="#4080b4"/>
<path d="M812 2097A1102.3 1102.3 0 0 1 790.5 2079.3" stroke="#4080b4"/>
<path d="M790.5 2079.3A1102.3 1102.3 0 0 1 769.4 2061" stroke="#5294be"/>
<path d="M769.4 2061A1102.3 1102.3 0 0 1 748.8 2042.2" stroke="#5294be"/>
<path d="M748.8 2042.2A1102.3 1102.3 0 0 1 728.6 2022.9" stroke="#80b4c6"/>
<path d="M728.6 2022.9A1102.3 1102.3 0 0 1 708.9 2003.1" stroke="#5294be"/>
<path d="M708.9 2003.1A1102.3 1102.3 0 0 1 689.8 1982.8" stroke="#5294be"/>
<path d="M689.8 1982.8A1102.3 1102.3 0 0 1 671.2 1962.1" stroke="#95c3c0"/>
<path d="M671.2 1962.1A1102.3 1102.3 0 0 1 653.1 1940.8" stroke="#80b4c6"/>
<path d="M653.1 1940.8A1102.3 1102.3 0 0 1 635.5 1919.1" stroke="#80b4c6"/>
<path d="M635.5 1919.1A1102.3 1102.3 0 0 1 618.5 1897" stroke="#80b4c6"/>
<path d="M618.5 1897A1102.3 1102.3 0 0 1 602.1 1874.5" stroke="#80b4c6"/>
<path d="M602.1 1874.5A1102.3 1102.3 0 0 1 586.2 1851.5" stroke="#5294be"/>
<path d="M586.2 1851.5A1102.3 1102.3 0 0 1 571 1828.2" stroke="#5294be"/>
<path d="M571 1828.2A1102.3 1102.3 0 0 1 556.3 1804.5" stroke="#80b4c6"/>
<path d="M556.3 1804.5A1102.3 1102.3 0 0 1 542.2 1780.4" stroke="#498ab9"/>
<path d="M542.2 1780.4A1102.3 1102.3 0 0 1 528.8 1755.9" stroke="#498ab9"/>
<path d="M528.8 1755.9A1102.3 1102.3 0 0 1 515.9 1731.2" stroke="#6aa3c6"/>
<path d="M515.9 1731.2A1102.3 1102.3 0 0 1 503.7 1706.1" stroke="#6aa3c6"/>
<path d="M503.7 1706.1A1102.3 1102.3 0 0 1 492.2 1680.7" stroke="#6aa3c6"/>
<path d="M492.2 1680.7A1102.3 1102.3 0 0 1 481.2 1655" stroke="#498ab9"/>
<path d="M481.2 1655A1102.3 1102.3 0 0 1 471 1629.1" stroke="#498ab9"/>
<path d="M471 1629.1A1102.3 1102.3 0 0 1 461.4 1602.9" stroke="#498ab9"/>
<path d="M461.4 1602.9A1102.3 1102.3 0 0 1 452.4 1576.4" stroke="#5294be"/>
<path d="M452.4 1576.4A1102.3 1102.3 0 0 1 444.2 1549.8" stroke="#498ab9"/>
<path d="M444.2 1549.8A1102.3 1102.3 0 0 1 436.6 1522.9" stroke="#498ab9"/>
<path d="M436.6 1522.9A1102.3 1102.3 0 0 1 429.7 1495.9" stroke="#5294be"/>
<path d="M429.7 1495.9A1102.3 1102.3 0 0 1 423.4 1468.7" stroke="#5294be"/>
<path d="M423.4 1468.7A1102.3 1102.3 0 0 1 417.9 1441.4" stroke="#3a70ac"/>
<path d="M417.9 1441.4A1102.3 1102.3 0 0 1 413.1 1413.9" stroke="#4080b4"/>
<path d="M413.1 1413.9A1102.3 1102.3 0 0 1 408.9 1386.3" stroke="#4080b4"/>
<path d="M408.9 1386.3A1102.3 1102.3 0 0 1 405.5 1358.6" stroke="#498ab9"/>
<path d="M405.5 1358.6A1102.3 1102.3 0 0 1 402.7 1330.9" stroke="#498ab9"/>
<path d="M402.7 1330.9A1102.3 1102.3 0 0 1 400.7 1303" stroke="#5294be"/>
<path d="M400.7 1303A1102.3 1102.3 0 0 1 399.4 1275.2" stroke="#498ab9"/>
<path d="M399.4 1275.2A1102.3 1102.3 0 0 1 398.8 1247.3" stroke="#4080b4"/>
<path d="M398.8 1247.3A1102.3 1102.3 0 0 1 398.8 1219.4" stroke="#498ab9"/>
<path d="M398.8 1219.4A1102.3 1102.3 0 0 1 399.6 1191.5" stroke="#498ab9"/>
<path d="M399.6 1191.5A1102.3 1102.3 0 0 1 401.1 1163.6" stroke="#498ab9"/>
<path d="M401.1 1163.6A1102.3 1102.3 0 0 1 403.3 1135.8" stroke="#4080b4"/>
<path d="M403.3 1135.8A1102.3 1102.3 0 0 1 406.2 1108.1" stroke="#498ab9"/>
<path d="M406.2 1108.1A1102.3 1102.3 0 0 1 409.8 1080.4" stroke="#498ab9"/>
<path d="M409.8 1080.4A1102.3 1102.3 0 0 1 414.1 1052.8" stroke="#498ab9"/>
<path d="M414.1 1052.8A1102.3 1102.3 0 0 1 419.1 1025.4" stroke="#b3d5b7"/>
<path d="M419.1 1025.4A1102.3 1102.3 0 0 1 424.8 998.1" stroke="#6aa3c6"/>
<path d="M424.8 998.1A1102.3 1102.3 0 0 1 431.2 970.9" stroke="#d5e6b0"/>
<path d="M431.2 970.9A1102.3 1102.3 0 0 1 438.2 943.9" stroke="#4080b4"/>
<path d="M438.2 943.9A1102.3 1102.3 0 0 1 446 917.1" stroke="#5294be"/>
<path d="M446 917.1A1102.3 1102.3 0 0 1 454.4 890.5" stroke="#5294be"/>
<path d="M454.4 890.5A1102.3 1102.3 0 0 1 463.5 864.1" stroke="#80b4c6"/>
<path d="M463.5 864.1A1102.3 1102.3 0 0 1 473.2 838" stroke="#80b4c6"/>
<path d="M473.2 838A1102.3 1102.3 0 0 1 483.7 812.1" stroke="#80b4c6"/>
<path d="M483.7 812.1A1102.3 1102.3 0 0 1 494.7 786.5" stroke="#80b4c6"/>
<path d="M494.7 786.5A1102.3 1102.3 0 0 1 506.4 761.2" stroke="#6aa3c6"/>
<path d="M506.4 761.2A1102.3 1102.3 0 0 1 518.8 736.2" stroke="#5294be"/>
<path d="M518.8 736.2A1102.3 1102.3 0 0 1 531.8 711.5" stroke="#498ab9"/>
<path d="M531.8 711.5A1102.3 1102.3 0 0 1 545.4 687.1" stroke="#498ab9"/>
<path d="M545.4 687.1A1102.3 1102.3 0 0 1 559.6 663.1" stroke="#80b4c6"/>
<path d="M559.6 663.1A1102.3 1102.3 0 0 1 574.4 639.5" stroke="#80b4c6"/>
<path d="M574.4 639.5A1102.3 1102.3 0 0 1 589.8 616.2" stroke="#80b4c6"/>
<path d="M589.8 616.2A1102.3 1102.3 0 0 1 605.8 593.3" stroke="#5294be"/>
<path d="M605.8 593.3A1102.3 1102.3 0 0 1 622.3 570.9" stroke="#80b4c6"/>
<path d="M622.3 570.9A1102.3 1102.3 0 0 1 639.5 548.9" stroke="#80b4c6"/>
<path d="M639.5 548.9A1102.3 1102.3 0 0 1 657.1 527.3" stroke="#498ab9"/>
<path d="M657.1 527.3A1102.3 1102.3 0 0 1 675.4 506.2" stroke="#5294be"/>
<path d="M675.4 506.2A1102.3 1102.3 0 0 1 694.1 485.5" stroke="#5294be"/>
<path d="M694.1 485.5A1102.3 1102.3 0 0 1 713.4 465.3" stroke="#6aa3c6"/>
<path d="M713.4 465.3A1102.3 1102.3 0 0 1 733.1 445.6" stroke="#6aa3c6"/>
<path d="M733.1 445.6A1102.3 1102.3 0 0 1 753.4 426.5" stroke="#5294be"/>
<path d="M753.4 426.5A1102.3 1102.3 0 0 1 774.1 407.8" stroke="#5294be"/>
<path d="M774.1 407.8A1102.3 1102.3 0 0 1 795.4 389.7" stroke="#6aa3c6"/>
<path d="M795.4 389.7A1102.3 1102.3 0 0 1 817 372.1" stroke="#80b4c6"/>
<path d="M817 372.1A1102.3 1102.3 0 0 1 839.1 355" stroke="#5294be"/>
<path d="M839.1 355A1102.3 1102.3 0 0 1 861.6 338.6" stroke="#5294be"/>
<path d="M861.6 338.6A1102.3 1102.3 0 0 1 884.6 322.7" stroke="#80b4c6"/>
<path d="M884.6 322.7A1102.3 1102.3 0 0 1 907.9 307.4" stroke="#80b4c6"/>
<path d="M907.9 307.4A1102.3 1102.3 0 0 1 931.6 292.7" stroke="#95c3c0"/>
<path d="M931.6 292.7A1102.3 1102.3 0 0 1 955.7 278.6" stroke="#95c3c0"/>
<path d="M955.7 278.6A1102.3 1102.3 0 0 1 980.1 265.1" stroke="#6aa3c6"/>
<path d="M980.1 265.1A1102.3 1102.3 0 0 1 1004.8 252.2" stroke="#6aa3c6"/>
<path d="M1004.8 252.2A1102.3 1102.3 0 0 1 1029.9 239.9" stroke="#6aa3c6"/>
<path d="M1029.9 239.9A1102.3 1102.3 0 0 1 1055.3 228.3" stroke="#80b4c6"/>
<path d="M1055.3 228.3A1102.3 1102.3 0 0 1 1080.9 217.4" stroke="#95c3c0"/>
<path d="M1080.9 217.4A1102.3 1102.3 0 0 1 1106.8 207.1" stroke="#95c3c0"/>
<path d="M1106.8 207.1A1102.3 1102.3 0 0 1 1133 197.4" stroke="#80b4c6"/>
<path d="M1133 197.4A1102.3 1102.3 0 0 1 1159.4 188.5" stroke="#95c3c0"/>
<path d="M1159.4 188.5A1102.3 1102.3 0 0 1 1186.1 180.1" stroke="#80b4c6"/>
<path d="M1186.1 180.1A1102.3 1102.3 0 0 1 1212.9 172.5" stroke="#95c3c0"/>
<path d="M1212.9 172.5A1102.3 1102.3 0 0 1 1239.9 165.6" stroke="#80b4c6"/>
<path d="M1239.9 165.6A1102.3 1102.3 0 0 1 1267.1 159.3" stroke="#6aa3c6"/>
<path d="M1267.1 159.3A1102.3 1102.3 0 0 1 1294.4 153.7" stroke="#5294be"/>
<path d="M2020.2 342.9A1033.5 1033.5 0 0 1 2042.7 356.3" stroke="#95c3c0"/>
<path d="M2042.7 356.3A1033.5 1033.5 0 0 1 2064.8 370.3" stroke="#95c3c0"/>
<path d="M2064.8 370.3A1033.5 1033.5 0 0 1 2086.5 384.9" stroke="#95c3c0"/>
<path d="M2086.5 384.9A1033.5 1033.5 0 0 1 2107.9 400" stroke="#80b4c6"/>
<path d="M2107.9 400A1033.5 1033.5 0 0 1 2128.9 415.6" stroke="#6aa3c6"/>
<path d="M2128.9 415.6A1033.5 1033.5 0 0 1 2149.5 431.7" stroke="#6aa3c6"/>
<path d="M2149.5 431.7A1033.5 1033.5 0 0 1 2169.6 448.4" stroke="#95c3c0"/>
<path d="M2169.6 448.4A1033.5 1033.5 0 0 1 2189.3 465.6" stroke="#b3d5b7"/>
<path d="M2189.3 465.6A1033.5 1033.5 0 0 1 2208.6 483.3" stroke="#80b4c6"/>
<path d="M2208.6 483.3A1033.5 1033.5 0 0 1 2227.5 501.4" stroke="#80b4c6"/>
<path d="M2227.5 501.4A1033.5 1033.5 0 0 1 2245.8 520" stroke="#95c3c0"/>
<path d="M2245.8 520A1033.5 1033.5 0 0 1 2263.7 539.1" stroke="#b3d5b7"/>
<path d="M2263.7 539.1A1033.5 1033.5 0 0 1 2281.1 558.6" stroke="#95c3c0"/>
<path d="M2281.1 558.6A1033.5 1033.5 0 0 1 2298 578.6" stroke="#95c3c0"/>
<path d="M2298 578.6A1033.5 1033.5 0 0 1 2314.4 599" stroke="#80b4c6"/>
<path d="M2314.4 599A1033.5 1033.5 0 0 1 2330.3 619.8" stroke="#80b4c6"/>
<path d="M2330.3 619.8A1033.5 1033.5 0 0 1 2345.7 641" stroke="#95c3c0"/>
<path d="M2345.7 641A1033.5 1033.5 0 0 1 2360.5 662.5" stroke="#80b4c6"/>
<path d="M2360.5 662.5A1033.5 1033.5 0 0 1 2374.7 684.5" stroke="#80b4c6"/>
<path d="M2374.7 684.5A1033.5 1033.5 0 0 1 2388.4 706.7" stroke="#80b4c6"/>
<path d="M2388.4 706.7A1033.5 1033.5 0 0 1 2401.5 729.4" stroke="#80b4c6"/>
<path d="M2401.5 729.4A1033.5 1033.5 0 0 1 2414.1 752.3" stroke="#6aa3c6"/>
<path d="M2414.1 752.3A1033.5 1033.5 0 0 1 2426 775.6" stroke="#80b4c6"/>
<path d="M2426 775.6A1033.5 1033.5 0 0 1 2437.4 799.1" stroke="#6aa3c6"/>
<path d="M2437.4 799.1A1033.5 1033.5 0 0 1 2448.2 823" stroke="#6aa3c6"/>
<path d="M2448.2 823A1033.5 1033.5 0 0 1 2458.3 847.1" stroke="#6aa3c6"/>
<path d="M2458.3 847.1A1033.5 1033.5 0 0 1 2467.9 871.4" stroke="#80b4c6"/>
<path d="M2467.9 871.4A1033.5 1033.5 0 0 1 2476.8 896" stroke="#80b4c6"/>
<path d="M2476.8 896A1033.5 1033.5 0 0 1 2485.1 920.8" stroke="#80b4c6"/>
<path d="M2485.1 920.8A1033.5 1033.5 0 0 1 2492.8 945.8" stroke="#95c3c0"/>
<path d="M2492.8 945.8A1033.5 1033.5 0 0 1 2499.8 971" stroke="#80b4c6"/>
<path d="M2499.8 971A1033.5 1033.5 0 0 1 2506.2 996.4" stroke="#6aa3c6"/>
<path d="M2506.2 996.4A1033.5 1033.5 0 0 1 2512 1021.9" stroke="#95c3c0"/>
<path d="M2512 1021.9A1033.5 1033.5 0 0 1 2517.1 1047.6" stroke="#80b4c6"/>
<path d="M2517.1 1047.6A1033.5 1033.5 0 0 1 2521.5 1073.3" stroke="#80b4c6"/>
<path d="M2521.5 1073.3A1033.5 1033.5 0 0 1 2525.3 1099.2" stroke="#b3d5b7"/>
<path d="M2525.3 1099.2A1033.5 1033.5 0 0 1 2528.5 1125.2" stroke="#6aa3c6"/>
<path d="M2528.5 1125.2A1033.5 1033.5 0 0 1 2531 1151.2" stroke="#5294be"/>
<path d="M2531 1151.2A1033.5 1033.5 0 0 1 2532.8 1177.3" stroke="#5294be"/>
<path d="M2532.8 1177.3A1033.5 1033.5 0 0 1 2534 1203.4" stroke="#80b4c6"/>
<path d="M2534 1203.4A1033.5 1033.5 0 0 1 2534.5 1229.6" stroke="#80b4c6"/>
<path d="M2534.5 1229.6A1033.5 1033.5 0 0 1 2534.3 1255.8" stroke="#80b4c6"/>
<path d="M2534.3 1255.8A1033.5 1033.5 0 0 1 2533.5 1281.9" stroke="#b3d5b7"/>
<path d="M2533.5 1281.9A1033.5 1033.5 0 0 1 2532 1308" stroke="#95c3c0"/>
<path d="M2532 1308A1033.5 1033.5 0 0 1 2529.9 1334.1" stroke="#80b4c6"/>
<path d="M2529.9 1334.1A1033.5 1033.5 0 0 1 2527.1 1360.1" stroke="#80b4c6"/>
<path d="M2527.1 1360.1A1033.5 1033.5 0 0 1 2523.6 1386" stroke="#95c3c0"/>
<path d="M2523.6 1386A1033.5 1033.5 0 0 1 2519.5 1411.9" stroke="#80b4c6"/>
<path d="M2519.5 1411.9A1033.5 1033.5 0 0 1 2514.8 1437.6" stroke="#80b4c6"/>
<path d="M2514.8 1437.6A1033.5 1033.5 0 0 1 2509.3 1463.2" stroke="#95c3c0"/>
<path d="M2509.3 1463.2A1033.5 1033.5 0 0 1 2503.3 1488.6" stroke="#80b4c6"/>
<path d="M2503.3 1488.6A1033.5 1033.5 0 0 1 2496.6 1513.9" stroke="#95c3c0"/>
<path d="M2496.6 1513.9A1033.5 1033.5 0 0 1 2489.2 1539" stroke="#80b4c6"/>
<path d="M2489.2 1539A1033.5 1033.5 0 0 1 2481.3 1563.9" stroke="#95c3c0"/>
<path d="M2481.3 1563.9A1033.5 1033.5 0 0 1 2472.7 1588.6" stroke="#95c3c0"/>
<path d="M2472.7 1588.6A1033.5 1033.5 0 0 1 2463.4 1613.1" stroke="#80b4c6"/>
<path d="M2463.4 1613.1A1033.5 1033.5 0 0 1 2453.6 1637.3" stroke="#95c3c0"/>
<path d="M2453.6 1637.3A1033.5 1033.5 0 0 1 2443.2 1661.3" stroke="#95c3c0"/>
<path d="M2443.2 1661.3A1033.5 1033.5 0 0 1 2432.1 1685" stroke="#80b4c6"/>
<path d="M2432.1 1685A1033.5 1033.5 0 0 1 2420.5 1708.4" stroke="#6aa3c6"/>
<path d="M2420.5 1708.4A1033.5 1033.5 0 0 1 2408.2 1731.6" stroke="#95c3c0"/>
<path d="M2408.2 1731.6A1033.5 1033.5 0 0 1 2395.4 1754.4" stroke="#95c3c0"/>
<path d="M2395.4 1754.4A1033.5 1033.5 0 0 1 2382 1776.8" stroke="#95c3c0"/>
<path d="M2382 1776.8A1033.5 1033.5 0 0 1 2368 1799" stroke="#5294be"/>
<path d="M2368 1799A1033.5 1033.5 0 0 1 2353.5 1820.7" stroke="#6aa3c6"/>
<path d="M2353.5 1820.7A1033.5 1033.5 0 0 1 2338.5 1842.1" stroke="#80b4c6"/>
<path d="M2338.5 1842.1A1033.5 1033.5 0 0 1 2322.9 1863.1" stroke="#80b4c6"/>
<path d="M2322.9 1863.1A1033.5 1033.5 0 0 1 2306.8 1883.7" stroke="#80b4c6"/>
<path d="M2306.8 1883.7A1033.5 1033.5 0 0 1 2290.1 1903.9" stroke="#80b4c6"/>
<path d="M2290.1 1903.9A1033.5 1033.5 0 0 1 2273 1923.6" stroke="#95c3c0"/>
<path d="M2273 1923.6A1033.5 1033.5 0 0 1 2255.3 1943" stroke="#95c3c0"/>
<path d="M2255.3 1943A1033.5 1033.5 0 0 1 2237.2 1961.8" stroke="#95c3c0"/>
<path d="M2237.2 1961.8A1033.5 1033.5 0 0 1 2218.6 1980.2" stroke="#95c3c0"/>
<path d="M2218.6 1980.2A1033.5 1033.5 0 0 1 2199.6 1998.2" stroke="#95c3c0"/>
<path d="M2199.6 1998.2A1033.5 1033.5 0 0 1 2180.1 2015.6" stroke="#80b4c6"/>
<path d="M2180.1 2015.6A1033.5 1033.5 0 0 1 2160.1 2032.5" stroke="#80b4c6"/>
<path d="M2160.1 2032.5A1033.5 1033.5 0 0 1 2139.8 2049" stroke="#80b4c6"/>
<path d="M2139.8 2049A1033.5 1033.5 0 0 1 2119 2064.9" stroke="#80b4c6"/>
<path d="M2119 2064.9A1033.5 1033.5 0 0 1 2097.9 2080.2" stroke="#95c3c0"/>
<path d="M2097.9 2080.2A1033.5 1033.5 0 0 1 2076.3 2095.1" stroke="#b3d5b7"/>
<path d="M2076.3 2095.1A1033.5 1033.5 0 0 1 2054.4 2109.4" stroke="#95c3c0"/>
<path d="M2054.4 2109.4A1033.5 1033.5 0 0 1 2032.1 2123.1" stroke="#95c3c0"/>
<path d="M2032.1 2123.1A1033.5 1033.5 0 0 1 2009.5 2136.2" stroke="#95c3c0"/>
<path d="M2009.5 2136.2A1033.5 1033.5 0 0 1 1986.6 2148.8" stroke="#95c3c0"/>
<path d="M1986.6 2148.8A1033.5 1033.5 0 0 1 1963.3 2160.8" stroke="#95c3c0"/>
<path d="M1963.3 2160.8A1033.5 1033.5 0 0 1 1939.8 2172.2" stroke="#95c3c0"/>
<path d="M1939.8 2172.2A1033.5 1033.5 0 0 1 1916 2183" stroke="#b3d5b7"/>
<path d="M1916 2183A1033.5 1033.5 0 0 1 1891.9 2193.2" stroke="#95c3c0"/>
<path d="M1891.9 2193.2A1033.5 1033.5 0 0 1 1867.6 2202.8" stroke="#95c3c0"/>
<path d="M1867.6 2202.8A1033.5 1033.5 0 0 1 1843 2211.8" stroke="#80b4c6"/>
<path d="M1843 2211.8A1033.5 1033.5 0 0 1 1818.2 2220.1" stroke="#5294be"/>
<path d="M1818.2 2220.1A1033.5 1033.5 0 0 1 1793.2 2227.8" stroke="#6aa3c6"/>
<path d="M1793.2 2227.8A1033.5 1033.5 0 0 1 1768 2234.9" stroke="#80b4c6"/>
<path d="M1768 2234.9A1033.5 1033.5 0 0 1 1742.7 2241.3" stroke="#6aa3c6"/>
<path d="M1742.7 2241.3A1033.5 1033.5 0 0 1 1717.2 2247.1" stroke="#80b4c6"/>
<path d="M1717.2 2247.1A1033.5 1033.5 0 0 1 1691.5 2252.3" stroke="#80b4c6"/>
<path d="M1691.5 2252.3A1033.5 1033.5 0 0 1 1665.7 2256.8" stroke="#80b4c6"/>
<path d="M1665.7 2256.8A1033.5 1033.5 0 0 1 1639.9 2260.6" stroke="#80b4c6"/>
<path d="M1639.9 2260.6A1033.5 1033.5 0 0 1 1613.9 2263.8" stroke="#3a70ac"/>
<path d="M1613.9 2263.8A1033.5 1033.5 0 0 1 1587.9 2266.3" stroke="#6aa3c6"/>
<path d="M1587.9 2266.3A1033.5 1033.5 0 0 1 1561.8 2268.2" stroke="#80b4c6"/>
<path d="M1561.8 2268.2A1033.5 1033.5 0 0 1 1535.7 2269.4" stroke="#80b4c6"/>
<path d="M1535.7 2269.4A1033.5 1033.5 0 0 1 1509.5 2270" stroke="#5294be"/>
<path d="M1509.5 2270A1033.5 1033.5 0 0 1 1483.3 2269.8" stroke="#6aa3c6"/>
<path d="M1483.3 2269.8A1033.5 1033.5 0 0 1 1457.2 2269.1" stroke="#80b4c6"/>
<path d="M1457.2 2269.1A1033.5 1033.5 0 0 1 1431.1 2267.6" stroke="#5294be"/>
<path d="M1431.1 2267.6A1033.5 1033.5 0 0 1 1405 2265.5" stroke="#6aa3c6"/>
<path d="M1405 2265.5A1033.5 1033.5 0 0 1 1379 2262.8" stroke="#6aa3c6"/>
<path d="M1379 2262.8A1033.5 1033.5 0 0 1 1353.1 2259.4" stroke="#80b4c6"/>
<path d="M1353.1 2259.4A1033.5 1033.5 0 0 1 1327.2 2255.3" stroke="#80b4c6"/>
<path d="M1327.2 2255.3A1033.5 1033.5 0 0 1 1301.5 2250.6" stroke="#80b4c6"/>
<path d="M1301.5 2250.6A1033.5 1033.5 0 0 1 1275.9 2245.2" stroke="#80b4c6"/>
<path d="M1275.9 2245.2A1033.5 1033.5 0 0 1 1250.4 2239.2" stroke="#80b4c6"/>
<path d="M1250.4 2239.2A1033.5 1033.5 0 0 1 1225.1 2232.5" stroke="#80b4c6"/>
<path d="M1225.1 2232.5A1033.5 1033.5 0 0 1 1200 2225.2" stroke="#80b4c6"/>
<path d="M1200 2225.2A1033.5 1033.5 0 0 1 1175.1 2217.3" stroke="#80b4c6"/>
<path d="M1175.1 2217.3A1033.5 1033.5 0 0 1 1150.4 2208.7" stroke="#95c3c0"/>
<path d="M1150.4 2208.7A1033.5 1033.5 0 0 1 1125.9 2199.5" stroke="#80b4c6"/>
<path d="M1125.9 2199.5A1033.5 1033.5 0 0 1 1101.6 2189.7" stroke="#95c3c0"/>
<path d="M1101.6 2189.7A1033.5 1033.5 0 0 1 1077.6 2179.3" stroke="#95c3c0"/>
<path d="M1077.6 2179.3A1033.5 1033.5 0 0 1 1053.9 2168.3" stroke="#6aa3c6"/>
<path d="M1053.9 2168.3A1033.5 1033.5 0 0 1 1030.5 2156.7" stroke="#d5e6b0"/>
<path d="M1030.5 2156.7A1033.5 1033.5 0 0 1 1007.3 2144.5" stroke="#95c3c0"/>
<path d="M1007.3 2144.5A1033.5 1033.5 0 0 1 984.5 2131.7" stroke="#95c3c0"/>
<path d="M984.5 2131.7A1033.5 1033.5 0 0 1 962 2118.3" stroke="#95c3c0"/>
<path d="M962 2118.3A1033.5 1033.5 0 0 1 939.9 2104.4" stroke="#6aa3c6"/>
<path d="M939.9 2104.4A1033.5 1033.5 0 0 1 918.1 2089.9" stroke="#95c3c0"/>
<path d="M918.1 2089.9A1033.5 1033.5 0 0 1 896.7 2074.9" stroke="#d5e6b0"/>
<path d="M896.7 2074.9A1033.5 1033.5 0 0 1 875.7 2059.3" stroke="#95c3c0"/>
<path d="M875.7 2059.3A1033.5 1033.5 0 0 1 855 2043.3" stroke="#80b4c6"/>
<path d="M855 2043.3A1033.5 1033.5 0 0 1 834.8 2026.7" stroke="#80b4c6"/>
<path d="M834.8 2026.7A1033.5 1033.5 0 0 1 815 2009.5" stroke="#95c3c0"/>
<path d="M815 2009.5A1033.5 1033.5 0 0 1 795.7 1991.9" stroke="#95c3c0"/>
<path d="M795.7 1991.9A1033.5 1033.5 0 0 1 776.8 1973.8" stroke="#80b4c6"/>
<path d="M776.8 1973.8A1033.5 1033.5 0 0 1 758.4 1955.3" stroke="#80b4c6"/>
<path d="M758.4 1955.3A1033.5 1033.5 0 0 1 740.4 1936.3" stroke="#95c3c0"/>
<path d="M740.4 1936.3A1033.5 1033.5 0 0 1 723 1916.8" stroke="#80b4c6"/>
<path d="M723 1916.8A1033.5 1033.5 0 0 1 706 1896.9" stroke="#80b4c6"/>
<path d="M706 1896.9A1033.5 1033.5 0 0 1 689.5 1876.5" stroke="#80b4c6"/>
<path d="M689.5 1876.5A1033.5 1033.5 0 0 1 673.6 1855.8" stroke="#80b4c6"/>
<path d="M673.6 1855.8A1033.5 1033.5 0 0 1 658.2 1834.7" stroke="#95c3c0"/>
<path d="M658.2 1834.7A1033.5 1033.5 0 0 1 643.3 1813.1" stroke="#b3d5b7"/>
<path d="M643.3 1813.1A1033.5 1033.5 0 0 1 629 1791.3" stroke="#95c3c0"/>
<path d="M629 1791.3A1033.5 1033.5 0 0 1 615.2 1769" stroke="#b3d5b7"/>
<path d="M615.2 1769A1033.5 1033.5 0 0 1 602.1 1746.4" stroke="#95c3c0"/>
<path d="M602.1 1746.4A1033.5 1033.5 0 0 1 589.4 1723.5" stroke="#95c3c0"/>
<path d="M589.4 1723.5A1033.5 1033.5 0 0 1 577.4 1700.3" stroke="#95c3c0"/>
<path d="M577.4 1700.3A1033.5 1033.5 0 0 1 566 1676.8" stroke="#95c3c0"/>
<path d="M566 1676.8A1033.5 1033.5 0 0 1 555.1 1653" stroke="#95c3c0"/>
<path d="M555.1 1653A1033.5 1033.5 0 0 1 544.9 1628.9" stroke="#b3d5b7"/>
<path d="M544.9 1628.9A1033.5 1033.5 0 0 1 535.3 1604.6" stroke="#b3d5b7"/>
<path d="M535.3 1604.6A1033.5 1033.5 0 0 1 526.3 1580" stroke="#95c3c0"/>
<path d="M526.3 1580A1033.5 1033.5 0 0 1 517.9 1555.2" stroke="#6aa3c6"/>
<path d="M517.9 1555.2A1033.5 1033.5 0 0 1 510.1 1530.2" stroke="#80b4c6"/>
<path d="M510.1 1530.2A1033.5 1033.5 0 0 1 503 1505.1" stroke="#b3d5b7"/>
<path d="M503 1505.1A1033.5 1033.5 0 0 1 496.5 1479.7" stroke="#80b4c6"/>
<path d="M496.5 1479.7A1033.5 1033.5 0 0 1 490.7 1454.2" stroke="#95c3c0"/>
<path d="M490.7 1454.2A1033.5 1033.5 0 0 1 485.5 1428.6" stroke="#b3d5b7"/>
<path d="M485.5 1428.6A1033.5 1033.5 0 0 1 481 1402.8" stroke="#80b4c6"/>
<path d="M481 1402.8A1033.5 1033.5 0 0 1 477.1 1377" stroke="#b3d5b7"/>
<path d="M477.1 1377A1033.5 1033.5 0 0 1 473.9 1351" stroke="#80b4c6"/>
<path d="M473.9 1351A1033.5 1033.5 0 0 1 471.3 1325" stroke="#95c3c0"/>
<path d="M471.3 1325A1033.5 1033.5 0 0 1 469.4 1298.9" stroke="#80b4c6"/>
<path d="M469.4 1298.9A1033.5 1033.5 0 0 1 468.1 1272.8" stroke="#80b4c6"/>
<path d="M468.1 1272.8A1033.5 1033.5 0 0 1 467.5 1246.6" stroke="#95c3c0"/>
<path d="M467.5 1246.6A1033.5 1033.5 0 0 1 467.6 1220.4" stroke="#6aa3c6"/>
<path d="M467.6 1220.4A1033.5 1033.5 0 0 1 468.4 1194.3" stroke="#95c3c0"/>
<path d="M468.4 1194.3A1033.5 1033.5 0 0 1 469.8 1168.2" stroke="#b3d5b7"/>
<path d="M469.8 1168.2A1033.5 1033.5 0 0 1 471.8 1142.1" stroke="#b3d5b7"/>
<path d="M471.8 1142.1A1033.5 1033.5 0 0 1 474.5 1116.1" stroke="#80b4c6"/>
<path d="M474.5 1116.1A1033.5 1033.5 0 0 1 477.9 1090.1" stroke="#80b4c6"/>
<path d="M477.9 1090.1A1033.5 1033.5 0 0 1 481.9 1064.3" stroke="#95c3c0"/>
<path d="M481.9 1064.3A1033.5 1033.5 0 0 1 486.6 1038.6" stroke="#efefa8"/>
<path d="M486.6 1038.6A1033.5 1033.5 0 0 1 492 1013" stroke="#b3d5b7"/>
<path d="M492 1013A1033.5 1033.5 0 0 1 497.9 987.5" stroke="#b3d5b7"/>
<path d="M497.9 987.5A1033.5 1033.5 0 0 1 504.6 962.2" stroke="#6aa3c6"/>
<path d="M504.6 962.2A1033.5 1033.5 0 0 1 511.8 937.1" stroke="#80b4c6"/>
<path d="M511.8 937.1A1033.5 1033.5 0 0 1 519.7 912.1" stroke="#b3d5b7"/>
<path d="M519.7 912.1A1033.5 1033.5 0 0 1 528.2 887.4" stroke="#95c3c0"/>
<path d="M528.2 887.4A1033.5 1033.5 0 0 1 537.4 862.9" stroke="#95c3c0"/>
<path d="M537.4 862.9A1033.5 1033.5 0 0 1 547.2 838.6" stroke="#b3d5b7"/>
<path d="M547.2 838.6A1033.5 1033.5 0 0 1 557.5 814.6" stroke="#b3d5b7"/>
<path d="M557.5 814.6A1033.5 1033.5 0 0 1 568.5 790.9" stroke="#b3d5b7"/>
<path d="M568.5 790.9A1033.5 1033.5 0 0 1 580.1 767.4" stroke="#95c3c0"/>
<path d="M580.1 767.4A1033.5 1033.5 0 0 1 592.3 744.3" stroke="#b3d5b7"/>
<path d="M592.3 744.3A1033.5 1033.5 0 0 1 605 721.4" stroke="#b3d5b7"/>
<path d="M605 721.4A1033.5 1033.5 0 0 1 618.3 698.9" stroke="#b3d5b7"/>
<path d="M618.3 698.9A1033.5 1033.5 0 0 1 632.2 676.7" stroke="#80b4c6"/>
<path d="M632.2 676.7A1033.5 1033.5 0 0 1 646.7 654.9" stroke="#80b4c6"/>
<path d="M646.7 654.9A1033.5 1033.5 0 0 1 661.7 633.5" stroke="#80b4c6"/>
<path d="M661.7 633.5A1033.5 1033.5 0 0 1 677.2 612.4" stroke="#95c3c0"/>
<path d="M677.2 612.4A1033.5 1033.5 0 0 1 693.2 591.8" stroke="#80b4c6"/>
<path d="M693.2 591.8A1033.5 1033.5 0 0 1 709.8 571.6" stroke="#80b4c6"/>
<path d="M709.8 571.6A1033.5 1033.5 0 0 1 726.9 551.7" stroke="#80b4c6"/>
<path d="M726.9 551.7A1033.5 1033.5 0 0 1 744.5 532.4" stroke="#80b4c6"/>
<path d="M744.5 532.4A1033.5 1033.5 0 0 1 762.5 513.5" stroke="#80b4c6"/>
<path d="M762.5 513.5A1033.5 1033.5 0 0 1 781.1 495" stroke="#95c3c0"/>
<path d="M781.1 495A1033.5 1033.5 0 0 1 800.1 477" stroke="#95c3c0"/>
<path d="M800.1 477A1033.5 1033.5 0 0 1 819.5 459.5" stroke="#95c3c0"/>
<path d="M819.5 459.5A1033.5 1033.5 0 0 1 839.4 442.5" stroke="#95c3c0"/>
<path d="M839.4 442.5A1033.5 1033.5 0 0 1 859.7 426" stroke="#95c3c0"/>
<path d="M859.7 426A1033.5 1033.5 0 0 1 880.4 410.1" stroke="#95c3c0"/>
<path d="M880.4 410.1A1033.5 1033.5 0 0 1 901.5 394.6" stroke="#80b4c6"/>
<path d="M901.5 394.6A1033.5 1033.5 0 0 1 923 379.7" stroke="#80b4c6"/>
<path d="M923 379.7A1033.5 1033.5 0 0 1 944.9 365.4" stroke="#80b4c6"/>
<path d="M944.9 365.4A1033.5 1033.5 0 0 1 967.1 351.6" stroke="#95c3c0"/>
<path d="M967.1 351.6A1033.5 1033.5 0 0 1 989.7 338.3" stroke="#80b4c6"/>
<path d="M989.7 338.3A1033.5 1033.5 0 0 1 1012.6 325.7" stroke="#95c3c0"/>
<path d="M1012.6 325.7A1033.5 1033.5 0 0 1 1035.8 313.6" stroke="#95c3c0"/>
<path d="M1035.8 313.6A1033.5 1033.5 0 0 1 1059.3 302.1" stroke="#95c3c0"/>
<path d="M1059.3 302.1A1033.5 1033.5 0 0 1 1083.1 291.3" stroke="#95c3c0"/>
<path d="M1083.1 291.3A1033.5 1033.5 0 0 1 1107.1 281" stroke="#80b4c6"/>
<path d="M1107.1 281A1033.5 1033.5 0 0 1 1131.4 271.3" stroke="#95c3c0"/>
<path d="M1131.4 271.3A1033.5 1033.5 0 0 1 1156 262.3" stroke="#95c3c0"/>
<path d="M1156 262.3A1033.5 1033.5 0 0 1 1180.8 253.9" stroke="#b3d5b7"/>
<path d="M1180.8 253.9A1033.5 1033.5 0 0 1 1205.7 246.1" stroke="#95c3c0"/>
<path d="M1205.7 246.1A1033.5 1033.5 0 0 1 1230.9 238.9" stroke="#80b4c6"/>
<path d="M1230.9 238.9A1033.5 1033.5 0 0 1 1256.2 232.4" stroke="#b3d5b7"/>
<path d="M1256.2 232.4A1033.5 1033.5 0 0 1 1281.7 226.5" stroke="#80b4c6"/>
<path d="M1281.7 226.5A1033.5 1033.5 0 0 1 1307.3 221.3" stroke="#80b4c6"/>
<path d="M1985.7 402.4A964.7 964.7 0 0 1 2006.6 414.9" stroke="#80b4c6"/>
<path d="M2006.6 414.9A964.7 964.7 0 0 1 2027.3 428" stroke="#6aa3c6"/>
<path d="M2027.3 428A964.7 964.7 0 0 1 2047.6 441.6" stroke="#6aa3c6"/>
<path d="M2047.6 441.6A964.7 964.7 0 0 1 2067.5 455.7" stroke="#6aa3c6"/>
<path d="M2067.5 455.7A964.7 964.7 0 0 1 2087.1 470.2" stroke="#80b4c6"/>
<path d="M2087.1 470.2A964.7 964.7 0 0 1 2106.3 485.3" stroke="#6aa3c6"/>
<path d="M2106.3 485.3A964.7 964.7 0 0 1 2125.1 500.9" stroke="#6aa3c6"/>
<path d="M2125.1 500.9A964.7 964.7 0 0 1 2143.5 516.9" stroke="#498ab9"/>
<path d="M2143.5 516.9A964.7 964.7 0 0 1 2161.5 533.4" stroke="#6aa3c6"/>
<path d="M2161.5 533.4A964.7 964.7 0 0 1 2179.1 550.3" stroke="#6aa3c6"/>
<path d="M2179.1 550.3A964.7 964.7 0 0 1 2196.3 567.7" stroke="#95c3c0"/>
<path d="M2196.3 567.7A964.7 964.7 0 0 1 2213 585.5" stroke="#95c3c0"/>
<path d="M2213 585.5A964.7 964.7 0 0 1 2229.2 603.8" stroke="#95c3c0"/>
<path d="M2229.2 603.8A964.7 964.7 0 0 1 2245 622.4" stroke="#95c3c0"/>
<path d="M2245 622.4A964.7 964.7 0 0 1 2260.3 641.4" stroke="#95c3c0"/>
<path d="M2260.3 641.4A964.7 964.7 0 0 1 2275.1 660.8" stroke="#95c3c0"/>
<path d="M2275.1 660.8A964.7 964.7 0 0 1 2289.4 680.6" stroke="#80b4c6"/>
<path d="M2289.4 680.6A964.7 964.7 0 0 1 2303.2 700.7" stroke="#6aa3c6"/>
<path d="M2303.2 700.7A964.7 964.7 0 0 1 2316.5 721.2" stroke="#6aa3c6"/>
<path d="M2316.5 721.2A964.7 964.7 0 0 1 2329.3 742" stroke="#6aa3c6"/>
<path d="M2329.3 742A964.7 964.7 0 0 1 2341.6 763.1" stroke="#6aa3c6"/>
<path d="M2341.6 763.1A964.7 964.7 0 0 1 2353.3 784.6" stroke="#5294be"/>
<path d="M2353.3 784.6A964.7 964.7 0 0 1 2364.4 806.3" stroke="#498ab9"/>
<path d="M2364.4 806.3A964.7 964.7 0 0 1 2375.1 828.3" stroke="#498ab9"/>
<path d="M2375.1 828.3A964.7 964.7 0 0 1 2385.1 850.5" stroke="#5294be"/>
<path d="M2385.1 850.5A964.7 964.7 0 0 1 2394.6 873" stroke="#5294be"/>
<path d="M2394.6 873A964.7 964.7 0 0 1 2403.5 895.7" stroke="#498ab9"/>
<path d="M2403.5 895.7A964.7 964.7 0 0 1 2411.8 918.7" stroke="#498ab9"/>
<path d="M2411.8 918.7A964.7 964.7 0 0 1 2419.6 941.8" stroke="#498ab9"/>
<path d="M2419.6 941.8A964.7 964.7 0 0 1 2426.8 965.2" stroke="#498ab9"/>
<path d="M2426.8 965.2A964.7 964.7 0 0 1 2433.3 988.7" stroke="#498ab9"/>
<path d="M2433.3 988.7A964.7 964.7 0 0 1 2439.3 1012.4" stroke="#498ab9"/>
<path d="M2439.3 1012.4A964.7 964.7 0 0 1 2444.7 1036.2" stroke="#80b4c6"/>
<path d="M2444.7 1036.2A964.7 964.7 0 0 1 2449.4 1060.1" stroke="#80b4c6"/>
<path d="M2449.4 1060.1A964.7 964.7 0 0 1 2453.6 1084.2" stroke="#6aa3c6"/>
<path d="M2453.6 1084.2A964.7 964.7 0 0 1 2457.2 1108.4" stroke="#80b4c6"/>
<path d="M2457.2 1108.4A964.7 964.7 0 0 1 2460.1 1132.6" stroke="#6aa3c6"/>
<path d="M2460.1 1132.6A964.7 964.7 0 0 1 2462.4 1156.9" stroke="#6aa3c6"/>
<path d="M2462.4 1156.9A964.7 964.7 0 0 1 2464.1 1181.3" stroke="#6aa3c6"/>
<path d="M2464.1 1181.3A964.7 964.7 0 0 1 2465.2 1205.6" stroke="#80b4c6"/>
<path d="M2465.2 1205.6A964.7 964.7 0 0 1 2465.7 1230.1" stroke="#80b4c6"/>
<path d="M2465.7 1230.1A964.7 964.7 0 0 1 2465.5 1254.5" stroke="#95c3c0"/>
<path d="M2465.5 1254.5A964.7 964.7 0 0 1 2464.8 1278.9" stroke="#80b4c6"/>
<path d="M2464.8 1278.9A964.7 964.7 0 0 1 2463.4 1303.3" stroke="#95c3c0"/>
<path d="M2463.4 1303.3A964.7 964.7 0 0 1 2461.4 1327.6" stroke="#95c3c0"/>
<path d="M2461.4 1327.6A964.7 964.7 0 0 1 2458.8 1351.9" stroke="#95c3c0"/>
<path d="M2458.8 1351.9A964.7 964.7 0 0 1 2455.6 1376.1" stroke="#80b4c6"/>
<path d="M2455.6 1376.1A964.7 964.7 0 0 1 2451.7 1400.2" stroke="#95c3c0"/>
<path d="M2451.7 1400.2A964.7 964.7 0 0 1 2447.3 1424.2" stroke="#b3d5b7"/>
<path d="M2447.3 1424.2A964.7 964.7 0 0 1 2442.2 1448.1" stroke="#95c3c0"/>
<path d="M2442.2 1448.1A964.7 964.7 0 0 1 2436.6 1471.8" stroke="#95c3c0"/>
<path d="M2436.6 1471.8A964.7 964.7 0 0 1 2430.3 1495.4" stroke="#80b4c6"/>
<path d="M2430.3 1495.4A964.7 964.7 0 0 1 2423.5 1518.9" stroke="#95c3c0"/>
<path d="M2423.5 1518.9A964.7 964.7 0 0 1 2416 1542.1" stroke="#95c3c0"/>
<path d="M2416 1542.1A964.7 964.7 0 0 1 2408 1565.2" stroke="#95c3c0"/>
<path d="M2408 1565.2A964.7 964.7 0 0 1 2399.4 1588" stroke="#80b4c6"/>
<path d="M2399.4 1588A964.7 964.7 0 0 1 2390.2 1610.7" stroke="#80b4c6"/>
<path d="M2390.2 1610.7A964.7 964.7 0 0 1 2380.4 1633" stroke="#80b4c6"/>
<path d="M2380.4 1633A964.7 964.7 0 0 1 2370.1 1655.2" stroke="#95c3c0"/>
<path d="M2370.1 1655.2A964.7 964.7 0 0 1 2359.2 1677" stroke="#95c3c0"/>
<path d="M2359.2 1677A964.7 964.7 0 0 1 2347.8 1698.6" stroke="#80b4c6"/>
<path d="M2347.8 1698.6A964.7 964.7 0 0 1 2335.9 1719.9" stroke="#6aa3c6"/>
<path d="M2335.9 1719.9A964.7 964.7 0 0 1 2323.4 1740.9" stroke="#6aa3c6"/>
<path d="M2323.4 1740.9A964.7 964.7 0 0 1 2310.3 1761.5" stroke="#6aa3c6"/>
<path d="M2310.3 1761.5A964.7 964.7 0 0 1 2296.8 1781.8" stroke="#80b4c6"/>
<path d="M2296.8 1781.8A964.7 964.7 0 0 1 2282.7 1801.8" stroke="#80b4c6"/>
<path d="M2282.7 1801.8A964.7 964.7 0 0 1 2268.2 1821.4" stroke="#95c3c0"/>
<path d="M2268.2 1821.4A964.7 964.7 0 0 1 2253.1 1840.6" stroke="#95c3c0"/>
<path d="M2253.1 1840.6A964.7 964.7 0 0 1 2237.6 1859.5" stroke="#95c3c0"/>
<path d="M2237.6 1859.5A964.7 964.7 0 0 1 2221.6 1877.9" stroke="#95c3c0"/>
<path d="M2221.6 1877.9A964.7 964.7 0 0 1 2205.1 1895.9" stroke="#b3d5b7"/>
<path d="M2205.1 1895.9A964.7 964.7 0 0 1 2188.2 1913.5" stroke="#b3d5b7"/>
<path d="M2188.2 1913.5A964.7 964.7 0 0 1 2170.9 1930.7" stroke="#b3d5b7"/>
<path d="M2170.9 1930.7A964.7 964.7 0 0 1 2153.1 1947.4" stroke="#95c3c0"/>
<path d="M2153.1 1947.4A964.7 964.7 0 0 1 2134.9 1963.7" stroke="#95c3c0"/>
<path d="M2134.9 1963.7A964.7 964.7 0 0 1 2116.3 1979.5" stroke="#95c3c0"/>
<path d="M2116.3 1979.5A964.7 964.7 0 0 1 2097.3 1994.9" stroke="#95c3c0"/>
<path d="M2097.3 1994.9A964.7 964.7 0 0 1 2077.9 2009.7" stroke="#95c3c0"/>
<path d="M2077.9 2009.7A964.7 964.7 0 0 1 2058.1 2024.1" stroke="#95c3c0"/>
<path d="M2058.1 2024.1A964.7 964.7 0 0 1 2038 2037.9" stroke="#80b4c6"/>
<path d="M2038 2037.9A964.7 964.7 0 0 1 2017.6 2051.2" stroke="#80b4c6"/>
<path d="M2017.6 2051.2A964.7 964.7 0 0 1 1996.8 2064.1" stroke="#80b4c6"/>
<path d="M1996.8 2064.1A964.7 964.7 0 0 1 1975.7 2076.3" stroke="#80b4c6"/>
<path d="M1975.7 2076.3A964.7 964.7 0 0 1 1954.3 2088.1" stroke="#6aa3c6"/>
<path d="M1954.3 2088.1A964.7 964.7 0 0 1 1932.6 2099.3" stroke="#6aa3c6"/>
<path d="M1932.6 2099.3A964.7 964.7 0 0 1 1910.6 2109.9" stroke="#6aa3c6"/>
<path d="M1910.6 2109.9A964.7 964.7 0 0 1 1888.4 2120" stroke="#80b4c6"/>
<path d="M1888.4 2120A964.7 964.7 0 0 1 1865.9 2129.5" stroke="#80b4c6"/>
<path d="M1865.9 2129.5A964.7 964.7 0 0 1 1843.2 2138.5" stroke="#80b4c6"/>
<path d="M1843.2 2138.5A964.7 964.7 0 0 1 1820.2 2146.9" stroke="#6aa3c6"/>
<path d="M1820.2 2146.9A964.7 964.7 0 0 1 1797.1 2154.6" stroke="#80b4c6"/>
<path d="M1797.1 2154.6A964.7 964.7 0 0 1 1773.8 2161.8" stroke="#95c3c0"/>
<path d="M1773.8 2161.8A964.7 964.7 0 0 1 1750.2 2168.4" stroke="#80b4c6"/>
<path d="M1750.2 2168.4A964.7 964.7 0 0 1 1726.6 2174.5" stroke="#6aa3c6"/>
<path d="M1726.6 2174.5A964.7 964.7 0 0 1 1702.8 2179.9" stroke="#80b4c6"/>
<path d="M1702.8 2179.9A964.7 964.7 0 0 1 1678.8 2184.7" stroke="#95c3c0"/>
<path d="M1678.8 2184.7A964.7 964.7 0 0 1 1654.8 2188.9" stroke="#95c3c0"/>
<path d="M1654.8 2188.9A964.7 964.7 0 0 1 1630.6 2192.5" stroke="#95c3c0"/>
<path d="M1630.6 2192.5A964.7 964.7 0 0 1 1606.4 2195.4" stroke="#80b4c6"/>
<path d="M1606.4 2195.4A964.7 964.7 0 0 1 1582.1 2197.8" stroke="#6aa3c6"/>
<path d="M1582.1 2197.8A964.7 964.7 0 0 1 1557.7 2199.5" stroke="#6aa3c6"/>
<path d="M1557.7 2199.5A964.7 964.7 0 0 1 1533.3 2200.7" stroke="#6aa3c6"/>
<path d="M1533.3 2200.7A964.7 964.7 0 0 1 1508.9 2201.2" stroke="#6aa3c6"/>
<path d="M1508.9 2201.2A964.7 964.7 0 0 1 1484.5 2201.1" stroke="#6aa3c6"/>
<path d="M1484.5 2201.1A964.7 964.7 0 0 1 1460.1 2200.3" stroke="#6aa3c6"/>
<path d="M1460.1 2200.3A964.7 964.7 0 0 1 1435.7 2199" stroke="#80b4c6"/>
<path d="M1435.7 2199A964.7 964.7 0 0 1 1411.4 2197" stroke="#6aa3c6"/>
<path d="M1411.4 2197A964.7 964.7 0 0 1 1387.1 2194.5" stroke="#80b4c6"/>
<path d="M1387.1 2194.5A964.7 964.7 0 0 1 1362.9 2191.3" stroke="#6aa3c6"/>
<path d="M1362.9 2191.3A964.7 964.7 0 0 1 1338.8 2187.5" stroke="#6aa3c6"/>
<path d="M1338.8 2187.5A964.7 964.7 0 0 1 1314.8 2183.1" stroke="#6aa3c6"/>
<path d="M1314.8 2183.1A964.7 964.7 0 0 1 1290.9 2178" stroke="#5294be"/>
<path d="M1290.9 2178A964.7 964.7 0 0 1 1267.1 2172.4" stroke="#6aa3c6"/>
<path d="M1267.1 2172.4A964.7 964.7 0 0 1 1243.5 2166.2" stroke="#5294be"/>
<path d="M1243.5 2166.2A964.7 964.7 0 0 1 1220.1 2159.4" stroke="#5294be"/>
<path d="M1220.1 2159.4A964.7 964.7 0 0 1 1196.8 2152" stroke="#5294be"/>
<path d="M1196.8 2152A964.7 964.7 0 0 1 1173.7 2144" stroke="#498ab9"/>
<path d="M1173.7 2144A964.7 964.7 0 0 1 1150.9 2135.4" stroke="#5294be"/>
<path d="M1150.9 2135.4A964.7 964.7 0 0 1 1128.2 2126.3" stroke="#5294be"/>
<path d="M1128.2 2126.3A964.7 964.7 0 0 1 1105.8 2116.5" stroke="#5294be"/>
<path d="M1105.8 2116.5A964.7 964.7 0 0 1 1083.7 2106.3" stroke="#3a70ac"/>
<path d="M1083.7 2106.3A964.7 964.7 0 0 1 1061.8 2095.4" stroke="#d5e6b0"/>
<path d="M1061.8 2095.4A964.7 964.7 0 0 1 1040.2 2084" stroke="#efefa8"/>
<path d="M1040.2 2084A964.7 964.7 0 0 1 1018.9 2072.1" stroke="#b3d5b7"/>
<path d="M1018.9 2072.1A964.7 964.7 0 0 1 997.9 2059.6" stroke="#b3d5b7"/>
<path d="M997.9 2059.6A964.7 964.7 0 0 1 977.2 2046.6" stroke="#b3d5b7"/>
<path d="M977.2 2046.6A964.7 964.7 0 0 1 956.9 2033.1" stroke="#d5e6b0"/>
<path d="M956.9 2033.1A964.7 964.7 0 0 1 936.9 2019.1" stroke="#d5e6b0"/>
<path d="M936.9 2019.1A964.7 964.7 0 0 1 917.3 2004.6" stroke="#d5e6b0"/>
<path d="M917.3 2004.6A964.7 964.7 0 0 1 898 1989.6" stroke="#b3d5b7"/>
<path d="M898 1989.6A964.7 964.7 0 0 1 879.2 1974.1" stroke="#b3d5b7"/>
<path d="M879.2 1974.1A964.7 964.7 0 0 1 860.7 1958.1" stroke="#b3d5b7"/>
<path d="M860.7 1958.1A964.7 964.7 0 0 1 842.7 1941.6" stroke="#80b4c6"/>
<path d="M842.7 1941.6A964.7 964.7 0 0 1 825 1924.8" stroke="#80b4c6"/>
<path d="M825 1924.8A964.7 964.7 0 0 1 807.8 1907.4" stroke="#80b4c6"/>
<path d="M807.8 1907.4A964.7 964.7 0 0 1 791.1 1889.7" stroke="#95c3c0"/>
<path d="M791.1 1889.7A964.7 964.7 0 0 1 774.8 1871.5" stroke="#d5e6b0"/>
<path d="M774.8 1871.5A964.7 964.7 0 0 1 758.9 1852.9" stroke="#b3d5b7"/>
<path d="M758.9 1852.9A964.7 964.7 0 0 1 743.6 1833.9" stroke="#b3d5b7"/>
<path d="M743.6 1833.9A964.7 964.7 0 0 1 728.7 1814.6" stroke="#b3d5b7"/>
<path d="M728.7 1814.6A964.7 964.7 0 0 1 714.3 1794.8" stroke="#b3d5b7"/>
<path d="M714.3 1794.8A964.7 964.7 0 0 1 700.4 1774.8" stroke="#d5e6b0"/>
<path d="M700.4 1774.8A964.7 964.7 0 0 1 687.1 1754.3" stroke="#efefa8"/>
<path d="M687.1 1754.3A964.7 964.7 0 0 1 674.2 1733.6" stroke="#d5e6b0"/>
<path d="M674.2 1733.6A964.7 964.7 0 0 1 661.9 1712.5" stroke="#b3d5b7"/>
<path d="M661.9 1712.5A964.7 964.7 0 0 1 650.1 1691.1" stroke="#b3d5b7"/>
<path d="M650.1 1691.1A964.7 964.7 0 0 1 638.9 1669.4" stroke="#b3d5b7"/>
<path d="M638.9 1669.4A964.7 964.7 0 0 1 628.2 1647.4" stroke="#b3d5b7"/>
<path d="M628.2 1647.4A964.7 964.7 0 0 1 618.1 1625.2" stroke="#95c3c0"/>
<path d="M618.1 1625.2A964.7 964.7 0 0 1 608.5 1602.8" stroke="#95c3c0"/>
<path d="M608.5 1602.8A964.7 964.7 0 0 1 599.5 1580.1" stroke="#95c3c0"/>
<path d="M599.5 1580.1A964.7 964.7 0 0 1 591.1 1557.1" stroke="#95c3c0"/>
<path d="M591.1 1557.1A964.7 964.7 0 0 1 583.3 1534" stroke="#b3d5b7"/>
<path d="M583.3 1534A964.7 964.7 0 0 1 576.1 1510.7" stroke="#d5e6b0"/>
<path d="M576.1 1510.7A964.7 964.7 0 0 1 569.4 1487.2" stroke="#d5e6b0"/>
<path d="M569.4 1487.2A964.7 964.7 0 0 1 563.4 1463.5" stroke="#b3d5b7"/>
<path d="M563.4 1463.5A964.7 964.7 0 0 1 557.9 1439.7" stroke="#b3d5b7"/>
<path d="M557.9 1439.7A964.7 964.7 0 0 1 553.1 1415.8" stroke="#80b4c6"/>
<path d="M553.1 1415.8A964.7 964.7 0 0 1 548.9 1391.8" stroke="#80b4c6"/>
<path d="M548.9 1391.8A964.7 964.7 0 0 1 545.3 1367.6" stroke="#80b4c6"/>
<path d="M545.3 1367.6A964.7 964.7 0 0 1 542.2 1343.4" stroke="#5294be"/>
<path d="M542.2 1343.4A964.7 964.7 0 0 1 539.8 1319.1" stroke="#80b4c6"/>
<path d="M539.8 1319.1A964.7 964.7 0 0 1 538.1 1294.7" stroke="#80b4c6"/>
<path d="M538.1 1294.7A964.7 964.7 0 0 1 536.9 1270.3" stroke="#80b4c6"/>
<path d="M536.9 1270.3A964.7 964.7 0 0 1 536.3 1245.9" stroke="#b3d5b7"/>
<path d="M536.3 1245.9A964.7 964.7 0 0 1 536.4 1221.5" stroke="#95c3c0"/>
<path d="M536.4 1221.5A964.7 964.7 0 0 1 537.1 1197.1" stroke="#95c3c0"/>
<path d="M537.1 1197.1A964.7 964.7 0 0 1 538.4 1172.7" stroke="#95c3c0"/>
<path d="M538.4 1172.7A964.7 964.7 0 0 1 540.3 1148.4" stroke="#95c3c0"/>
<path d="M540.3 1148.4A964.7 964.7 0 0 1 542.9 1124.1" stroke="#80b4c6"/>
<path d="M542.9 1124.1A964.7 964.7 0 0 1 546 1099.9" stroke="#80b4c6"/>
<path d="M546 1099.9A964.7 964.7 0 0 1 549.8 1075.8" stroke="#95c3c0"/>
<path d="M549.8 1075.8A964.7 964.7 0 0 1 554.2 1051.7" stroke="#d5e6b0"/>
<path d="M554.2 1051.7A964.7 964.7 0 0 1 559.1 1027.8" stroke="#95c3c0"/>
<path d="M559.1 1027.8A964.7 964.7 0 0 1 564.7 1004.1" stroke="#6aa3c6"/>
<path d="M564.7 1004.1A964.7 964.7 0 0 1 570.9 980.4" stroke="#d5e6b0"/>
<path d="M570.9 980.4A964.7 964.7 0 0 1 577.7 957" stroke="#b3d5b7"/>
<path d="M577.7 957A964.7 964.7 0 0 1 585 933.7" stroke="#b3d5b7"/>
<path d="M585 933.7A964.7 964.7 0 0 1 593 910.6" stroke="#95c3c0"/>
<path d="M593 910.6A964.7 964.7 0 0 1 601.5 887.8" stroke="#95c3c0"/>
<path d="M601.5 887.8A964.7 964.7 0 0 1 610.7 865.1" stroke="#95c3c0"/>
<path d="M610.7 865.1A964.7 964.7 0 0 1 620.3 842.7" stroke="#b3d5b7"/>
<path d="M620.3 842.7A964.7 964.7 0 0 1 630.6 820.5" stroke="#b3d5b7"/>
<path d="M630.6 820.5A964.7 964.7 0 0 1 641.4 798.6" stroke="#b3d5b7"/>
<path d="M641.4 798.6A964.7 964.7 0 0 1 652.8 777" stroke="#d5e6b0"/>
<path d="M652.8 777A964.7 964.7 0 0 1 664.7 755.7" stroke="#d5e6b0"/>
<path d="M664.7 755.7A964.7 964.7 0 0 1 677.1 734.7" stroke="#efefa8"/>
<path d="M677.1 734.7A964.7 964.7 0 0 1 690.1 714" stroke="#d5e6b0"/>
<path d="M690.1 714A964.7 964.7 0 0 1 703.5 693.6" stroke="#d5e6b0"/>
<path d="M703.5 693.6A964.7 964.7 0 0 1 717.5 673.6" stroke="#d5e6b0"/>
<path d="M717.5 673.6A964.7 964.7 0 0 1 732 654" stroke="#b3d5b7"/>
<path d="M732 654A964.7 964.7 0 0 1 747 634.7" stroke="#95c3c0"/>
<path d="M747 634.7A964.7 964.7 0 0 1 762.5 615.8" stroke="#95c3c0"/>
<path d="M762.5 615.8A964.7 964.7 0 0 1 778.4 597.3" stroke="#95c3c0"/>
<path d="M778.4 597.3A964.7 964.7 0 0 1 794.8 579.2" stroke="#80b4c6"/>
<path d="M794.8 579.2A964.7 964.7 0 0 1 811.7 561.6" stroke="#95c3c0"/>
<path d="M811.7 561.6A964.7 964.7 0 0 1 829 544.4" stroke="#95c3c0"/>
<path d="M829 544.4A964.7 964.7 0 0 1 846.7 527.6" stroke="#95c3c0"/>
<path d="M846.7 527.6A964.7 964.7 0 0 1 864.9 511.2" stroke="#95c3c0"/>
<path d="M864.9 511.2A964.7 964.7 0 0 1 883.4 495.4" stroke="#95c3c0"/>
<path d="M883.4 495.4A964.7 964.7 0 0 1 902.4 480" stroke="#80b4c6"/>
<path d="M902.4 480A964.7 964.7 0 0 1 921.7 465.1" stroke="#80b4c6"/>
<path d="M921.7 465.1A964.7 964.7 0 0 1 941.4 450.7" stroke="#80b4c6"/>
<path d="M941.4 450.7A964.7 964.7 0 0 1 961.5 436.8" stroke="#80b4c6"/>
<path d="M961.5 436.8A964.7 964.7 0 0 1 981.9 423.4" stroke="#80b4c6"/>
<path d="M981.9 423.4A964.7 964.7 0 0 1 1002.7 410.5" stroke="#498ab9"/>
<path d="M1002.7 410.5A964.7 964.7 0 0 1 1023.7 398.1" stroke="#5294be"/>
<path d="M1023.7 398.1A964.7 964.7 0 0 1 1045.1 386.3" stroke="#5294be"/>
<path d="M1045.1 386.3A964.7 964.7 0 0 1 1066.8 375.1" stroke="#6aa3c6"/>
<path d="M1066.8 375.1A964.7 964.7 0 0 1 1088.7 364.3" stroke="#5294be"/>
<path d="M1088.7 364.3A964.7 964.7 0 0 1 1110.9 354.2" stroke="#5294be"/>
<path d="M1110.9 354.2A964.7 964.7 0 0 1 1133.4 344.6" stroke="#6aa3c6"/>
<path d="M1133.4 344.6A964.7 964.7 0 0 1 1156 335.6" stroke="#80b4c6"/>
<path d="M1156 335.6A964.7 964.7 0 0 1 1179 327.1" stroke="#6aa3c6"/>
<path d="M1179 327.1A964.7 964.7 0 0 1 1202.1 319.3" stroke="#80b4c6"/>
<path d="M1202.1 319.3A964.7 964.7 0 0 1 1225.4 312" stroke="#80b4c6"/>
<path d="M1225.4 312A964.7 964.7 0 0 1 1248.9 305.3" stroke="#80b4c6"/>
<path d="M1248.9 305.3A964.7 964.7 0 0 1 1272.5 299.2" stroke="#498ab9"/>
<path d="M1272.5 299.2A964.7 964.7 0 0 1 1296.3 293.8" stroke="#80b4c6"/>
<path d="M1296.3 293.8A964.7 964.7 0 0 1 1320.2 288.9" stroke="#80b4c6"/>
<path d="M1951.1 461.9A895.9 895.9 0 0 1 1970.6 473.5" stroke="#5294be"/>
<path d="M1970.6 473.5A895.9 895.9 0 0 1 1989.7 485.6" stroke="#5294be"/>
<path d="M1989.7 485.6A895.9 895.9 0 0 1 2008.6 498.3" stroke="#5294be"/>
<path d="M2008.6 498.3A895.9 895.9 0 0 1 2027.1 511.3" stroke="#5294be"/>
<path d="M2027.1 511.3A895.9 895.9 0 0 1 2045.3 524.9" stroke="#80b4c6"/>
<path d="M2045.3 524.9A895.9 895.9 0 0 1 2063.1 538.9" stroke="#80b4c6"/>
<path d="M2063.1 538.9A895.9 895.9 0 0 1 2080.6 553.3" stroke="#95c3c0"/>
<path d="M2080.6 553.3A895.9 895.9 0 0 1 2097.7 568.2" stroke="#b3d5b7"/>
<path d="M2097.7 568.2A895.9 895.9 0 0 1 2114.4 583.5" stroke="#6aa3c6"/>
<path d="M2114.4 583.5A895.9 895.9 0 0 1 2130.7 599.3" stroke="#6aa3c6"/>
<path d="M2130.7 599.3A895.9 895.9 0 0 1 2146.7 615.4" stroke="#498ab9"/>
<path d="M2146.7 615.4A895.9 895.9 0 0 1 2162.2 632" stroke="#498ab9"/>
<path d="M2162.2 632A895.9 895.9 0 0 1 2177.3 648.9" stroke="#498ab9"/>
<path d="M2177.3 648.9A895.9 895.9 0 0 1 2191.9 666.2" stroke="#498ab9"/>
<path d="M2191.9 666.2A895.9 895.9 0 0 1 2206.1 683.9" stroke="#498ab9"/>
<path d="M2206.1 683.9A895.9 895.9 0 0 1 2219.9 701.9" stroke="#498ab9"/>
<path d="M2219.9 701.9A895.9 895.9 0 0 1 2233.2 720.2" stroke="#6aa3c6"/>
<path d="M2233.2 720.2A895.9 895.9 0 0 1 2246 738.9" stroke="#4080b4"/>
<path d="M2246 738.9A895.9 895.9 0 0 1 2258.4 758" stroke="#4080b4"/>
<path d="M2258.4 758A895.9 895.9 0 0 1 2270.3 777.3" stroke="#498ab9"/>
<path d="M2270.3 777.3A895.9 895.9 0 0 1 2281.6 796.9" stroke="#498ab9"/>
<path d="M2281.6 796.9A895.9 895.9 0 0 1 2292.5 816.8" stroke="#5294be"/>
<path d="M2292.5 816.8A895.9 895.9 0 0 1 2302.9 836.9" stroke="#6aa3c6"/>
<path d="M2302.9 836.9A895.9 895.9 0 0 1 2312.7 857.4" stroke="#5294be"/>
<path d="M2312.7 857.4A895.9 895.9 0 0 1 2322.1 878" stroke="#5294be"/>
<path d="M2322.1 878A895.9 895.9 0 0 1 2330.9 898.9" stroke="#6aa3c6"/>
<path d="M2330.9 898.9A895.9 895.9 0 0 1 2339.1 920" stroke="#6aa3c6"/>
<path d="M2339.1 920A895.9 895.9 0 0 1 2346.9 941.4" stroke="#5294be"/>
<path d="M2346.9 941.4A895.9 895.9 0 0 1 2354.1 962.9" stroke="#498ab9"/>
<path d="M2354.1 962.9A895.9 895.9 0 0 1 2360.7 984.5" stroke="#498ab9"/>
<path d="M2360.7 984.5A895.9 895.9 0 0 1 2366.8 1006.4" stroke="#4080b4"/>
<path d="M2366.8 1006.4A895.9 895.9 0 0 1 2372.4 1028.4" stroke="#498ab9"/>
<path d="M2372.4 1028.4A895.9 895.9 0 0 1 2377.4 1050.5" stroke="#498ab9"/>
<path d="M2377.4 1050.5A895.9 895.9 0 0 1 2381.8 1072.7" stroke="#498ab9"/>
<path d="M2381.8 1072.7A895.9 895.9 0 0 1 2385.7 1095.1" stroke="#498ab9"/>
<path d="M2385.7 1095.1A895.9 895.9 0 0 1 2389 1117.5" stroke="#498ab9"/>
<path d="M2389 1117.5A895.9 895.9 0 0 1 2391.7 1140" stroke="#498ab9"/>
<path d="M2391.7 1140A895.9 895.9 0 0 1 2393.8 1162.6" stroke="#498ab9"/>
<path d="M2393.8 1162.6A895.9 895.9 0 0 1 2395.4 1185.2" stroke="#498ab9"/>
<path d="M2395.4 1185.2A895.9 895.9 0 0 1 2396.4 1207.8" stroke="#4080b4"/>
<path d="M2396.4 1207.8A895.9 895.9 0 0 1 2396.9 1230.5" stroke="#4080b4"/>
<path d="M2396.9 1230.5A895.9 895.9 0 0 1 2396.7 1253.2" stroke="#3a70ac"/>
<path d="M2396.7 1253.2A895.9 895.9 0 0 1 2396 1275.9" stroke="#498ab9"/>
<path d="M2396 1275.9A895.9 895.9 0 0 1 2394.8 1298.5" stroke="#498ab9"/>
<path d="M2394.8 1298.5A895.9 895.9 0 0 1 2392.9 1321.1" stroke="#498ab9"/>
<path d="M2392.9 1321.1A895.9 895.9 0 0 1 2390.5 1343.6" stroke="#4080b4"/>
<path d="M2390.5 1343.6A895.9 895.9 0 0 1 2387.5 1366.1" stroke="#498ab9"/>
<path d="M2387.5 1366.1A895.9 895.9 0 0 1 2383.9 1388.5" stroke="#5294be"/>
<path d="M2383.9 1388.5A895.9 895.9 0 0 1 2379.8 1410.8" stroke="#5294be"/>
<path d="M2379.8 1410.8A895.9 895.9 0 0 1 2375.1 1433" stroke="#498ab9"/>
<path d="M2375.1 1433A895.9 895.9 0 0 1 2369.8 1455" stroke="#5294be"/>
<path d="M2369.8 1455A895.9 895.9 0 0 1 2364 1477" stroke="#5294be"/>
<path d="M2364 1477A895.9 895.9 0 0 1 2357.7 1498.7" stroke="#5294be"/>
<path d="M2357.7 1498.7A895.9 895.9 0 0 1 2350.8 1520.3" stroke="#5294be"/>
<path d="M2350.8 1520.3A895.9 895.9 0 0 1 2343.3 1541.7" stroke="#5294be"/>
<path d="M2343.3 1541.7A895.9 895.9 0 0 1 2335.3 1563" stroke="#5294be"/>
<path d="M2335.3 1563A895.9 895.9 0 0 1 2326.8 1584" stroke="#5294be"/>
<path d="M2326.8 1584A895.9 895.9 0 0 1 2317.7 1604.8" stroke="#498ab9"/>
<path d="M2317.7 1604.8A895.9 895.9 0 0 1 2308.1 1625.3" stroke="#498ab9"/>
<path d="M2308.1 1625.3A895.9 895.9 0 0 1 2298 1645.6" stroke="#498ab9"/>
<path d="M2298 1645.6A895.9 895.9 0 0 1 2287.4 1665.6" stroke="#4080b4"/>
<path d="M2287.4 1665.6A895.9 895.9 0 0 1 2276.3 1685.4" stroke="#4080b4"/>
<path d="M2276.3 1685.4A895.9 895.9 0 0 1 2264.7 1704.9" stroke="#5294be"/>
<path d="M2264.7 1704.9A895.9 895.9 0 0 1 2252.6 1724.1" stroke="#498ab9"/>
<path d="M2252.6 1724.1A895.9 895.9 0 0 1 2240 1742.9" stroke="#498ab9"/>
<path d="M2240 1742.9A895.9 895.9 0 0 1 2227 1761.5" stroke="#498ab9"/>
<path d="M2227 1761.5A895.9 895.9 0 0 1 2213.5 1779.7" stroke="#498ab9"/>
<path d="M2213.5 1779.7A895.9 895.9 0 0 1 2199.5 1797.5" stroke="#5294be"/>
<path d="M2199.5 1797.5A895.9 895.9 0 0 1 2185.1 1815" stroke="#5294be"/>
<path d="M2185.1 1815A895.9 895.9 0 0 1 2170.2 1832.2" stroke="#5294be"/>
<path d="M2170.2 1832.2A895.9 895.9 0 0 1 2154.9 1848.9" stroke="#498ab9"/>
<path d="M2154.9 1848.9A895.9 895.9 0 0 1 2139.2 1865.3" stroke="#498ab9"/>
<path d="M2139.2 1865.3A895.9 895.9 0 0 1 2123.1 1881.2" stroke="#498ab9"/>
<path d="M2123.1 1881.2A895.9 895.9 0 0 1 2106.6 1896.7" stroke="#6aa3c6"/>
<path d="M2106.6 1896.7A895.9 895.9 0 0 1 2089.7 1911.9" stroke="#6aa3c6"/>
<path d="M2089.7 1911.9A895.9 895.9 0 0 1 2072.4 1926.5" stroke="#5294be"/>
<path d="M2072.4 1926.5A895.9 895.9 0 0 1 2054.7 1940.8" stroke="#5294be"/>
<path d="M2054.7 1940.8A895.9 895.9 0 0 1 2036.7 1954.6" stroke="#5294be"/>
<path d="M2036.7 1954.6A895.9 895.9 0 0 1 2018.4 1967.9" stroke="#498ab9"/>
<path d="M2018.4 1967.9A895.9 895.9 0 0 1 1999.7 1980.8" stroke="#498ab9"/>
<path d="M1999.7 1980.8A895.9 895.9 0 0 1 1980.7 1993.1" stroke="#5294be"/>
<path d="M1980.7 1993.1A895.9 895.9 0 0 1 1961.4 2005" stroke="#5294be"/>
<path d="M1961.4 2005A895.9 895.9 0 0 1 1941.8 2016.4" stroke="#5294be"/>
<path d="M1941.8 2016.4A895.9 895.9 0 0 1 1921.9 2027.4" stroke="#5294be"/>
<path d="M1921.9 2027.4A895.9 895.9 0 0 1 1901.8 2037.8" stroke="#5294be"/>
<path d="M1901.8 2037.8A895.9 895.9 0 0 1 1881.4 2047.6" stroke="#5294be"/>
<path d="M1881.4 2047.6A895.9 895.9 0 0 1 1860.7 2057" stroke="#3a70ac"/>
<path d="M1860.7 2057A895.9 895.9 0 0 1 1839.9 2065.8" stroke="#498ab9"/>
<path d="M1839.9 2065.8A895.9 895.9 0 0 1 1818.8 2074.2" stroke="#498ab9"/>
<path d="M1818.8 2074.2A895.9 895.9 0 0 1 1797.5 2081.9" stroke="#5294be"/>
<path d="M1797.5 2081.9A895.9 895.9 0 0 1 1776 2089.2" stroke="#5294be"/>
<path d="M1776 2089.2A895.9 895.9 0 0 1 1754.3 2095.8" stroke="#5294be"/>
<path d="M1754.3 2095.8A895.9 895.9 0 0 1 1732.5 2102" stroke="#5294be"/>
<path d="M1732.5 2102A895.9 895.9 0 0 1 1710.5 2107.6" stroke="#5294be"/>
<path d="M1710.5 2107.6A895.9 895.9 0 0 1 1688.4 2112.6" stroke="#5294be"/>
<path d="M1688.4 2112.6A895.9 895.9 0 0 1 1666.1 2117" stroke="#5294be"/>
<path d="M1666.1 2117A895.9 895.9 0 0 1 1643.8 2120.9" stroke="#498ab9"/>
<path d="M1643.8 2120.9A895.9 895.9 0 0 1 1621.4 2124.3" stroke="#498ab9"/>
<path d="M1621.4 2124.3A895.9 895.9 0 0 1 1598.9 2127" stroke="#498ab9"/>
<path d="M1598.9 2127A895.9 895.9 0 0 1 1576.3 2129.2" stroke="#498ab9"/>
<path d="M1576.3 2129.2A895.9 895.9 0 0 1 1553.7 2130.8" stroke="#498ab9"/>
<path d="M1553.7 2130.8A895.9 895.9 0 0 1 1531 2131.9" stroke="#4080b4"/>
<path d="M1531 2131.9A895.9 895.9 0 0 1 1508.4 2132.4" stroke="#498ab9"/>
<path d="M1508.4 2132.4A895.9 895.9 0 0 1 1485.7 2132.3" stroke="#498ab9"/>
<path d="M1485.7 2132.3A895.9 895.9 0 0 1 1463 2131.6" stroke="#498ab9"/>
<path d="M1463 2131.6A895.9 895.9 0 0 1 1440.4 2130.3" stroke="#498ab9"/>
<path d="M1440.4 2130.3A895.9 895.9 0 0 1 1417.8 2128.5" stroke="#5294be"/>
<path d="M1417.8 2128.5A895.9 895.9 0 0 1 1395.2 2126.1" stroke="#498ab9"/>
<path d="M1395.2 2126.1A895.9 895.9 0 0 1 1372.8 2123.2" stroke="#498ab9"/>
<path d="M1372.8 2123.2A895.9 895.9 0 0 1 1350.4 2119.6" stroke="#5294be"/>
<path d="M1350.4 2119.6A895.9 895.9 0 0 1 1328.1 2115.5" stroke="#5294be"/>
<path d="M1328.1 2115.5A895.9 895.9 0 0 1 1305.9 2110.9" stroke="#5294be"/>
<path d="M1305.9 2110.9A895.9 895.9 0 0 1 1283.8 2105.7" stroke="#5294be"/>
<path d="M1283.8 2105.7A895.9 895.9 0 0 1 1261.9 2099.9" stroke="#5294be"/>
<path d="M1261.9 2099.9A895.9 895.9 0 0 1 1240.1 2093.6" stroke="#5294be"/>
<path d="M1240.1 2093.6A895.9 895.9 0 0 1 1218.5 2086.7" stroke="#5294be"/>
<path d="M1218.5 2086.7A895.9 895.9 0 0 1 1197.1 2079.3" stroke="#b3d5b7"/>
<path d="M1197.1 2079.3A895.9 895.9 0 0 1 1175.8 2071.3" stroke="#498ab9"/>
<path d="M1175.8 2071.3A895.9 895.9 0 0 1 1154.8 2062.8" stroke="#5294be"/>
<path d="M1154.8 2062.8A895.9 895.9 0 0 1 1134 2053.8" stroke="#6aa3c6"/>
<path d="M1134 2053.8A895.9 895.9 0 0 1 1113.4 2044.2" stroke="#d5e6b0"/>
<path d="M1113.4 2044.2A895.9 895.9 0 0 1 1093.1 2034.2" stroke="#b3d5b7"/>
<path d="M1093.1 2034.2A895.9 895.9 0 0 1 1073.1 2023.6" stroke="#498ab9"/>
<path d="M1073.1 2023.6A895.9 895.9 0 0 1 1053.3 2012.5" stroke="#6aa3c6"/>
<path d="M1053.3 2012.5A895.9 895.9 0 0 1 1033.8 2000.9" stroke="#6aa3c6"/>
<path d="M1033.8 2000.9A895.9 895.9 0 0 1 1014.6 1988.9" stroke="#5294be"/>
<path d="M1014.6 1988.9A895.9 895.9 0 0 1 995.7 1976.3" stroke="#5294be"/>
<path d="M995.7 1976.3A895.9 895.9 0 0 1 977.1 1963.3" stroke="#498ab9"/>
<path d="M977.1 1963.3A895.9 895.9 0 0 1 958.9 1949.8" stroke="#4080b4"/>
<path d="M958.9 1949.8A895.9 895.9 0 0 1 941 1935.8" stroke="#498ab9"/>
<path d="M941 1935.8A895.9 895.9 0 0 1 923.5 1921.5" stroke="#5294be"/>
<path d="M923.5 1921.5A895.9 895.9 0 0 1 906.4 1906.6" stroke="#498ab9"/>
<path d="M906.4 1906.6A895.9 895.9 0 0 1 889.6 1891.4" stroke="#498ab9"/>
<path d="M889.6 1891.4A895.9 895.9 0 0 1 873.2 1875.7" stroke="#80b4c6"/>
<path d="M873.2 1875.7A895.9 895.9 0 0 1 857.3 1859.6" stroke="#80b4c6"/>
<path d="M857.3 1859.6A895.9 895.9 0 0 1 841.7 1843.1" stroke="#80b4c6"/>
<path d="M841.7 1843.1A895.9 895.9 0 0 1 826.6 1826.2" stroke="#6aa3c6"/>
<path d="M826.6 1826.2A895.9 895.9 0 0 1 811.8 1809" stroke="#5294be"/>
<path d="M811.8 1809A895.9 895.9 0 0 1 797.6 1791.3" stroke="#5294be"/>
<path d="M797.6 1791.3A895.9 895.9 0 0 1 783.8 1773.3" stroke="#498ab9"/>
<path d="M783.8 1773.3A895.9 895.9 0 0 1 770.4 1755" stroke="#498ab9"/>
<path d="M770.4 1755A895.9 895.9 0 0 1 757.5 1736.4" stroke="#5294be"/>
<path d="M757.5 1736.4A895.9 895.9 0 0 1 745.1 1717.4" stroke="#6aa3c6"/>
<path d="M745.1 1717.4A895.9 895.9 0 0 1 733.2 1698.1" stroke="#6aa3c6"/>
<path d="M733.2 1698.1A895.9 895.9 0 0 1 721.7 1678.5" stroke="#5294be"/>
<path d="M721.7 1678.5A895.9 895.9 0 0 1 710.8 1658.7" stroke="#5294be"/>
<path d="M710.8 1658.7A895.9 895.9 0 0 1 700.4 1638.5" stroke="#498ab9"/>
<path d="M700.4 1638.5A895.9 895.9 0 0 1 690.5 1618.1" stroke="#5294be"/>
<path d="M690.5 1618.1A895.9 895.9 0 0 1 681.1 1597.5" stroke="#6aa3c6"/>
<path d="M681.1 1597.5A895.9 895.9 0 0 1 672.2 1576.6" stroke="#80b4c6"/>
<path d="M672.2 1576.6A895.9 895.9 0 0 1 663.8 1555.6" stroke="#80b4c6"/>
<path d="M663.8 1555.6A895.9 895.9 0 0 1 656 1534.3" stroke="#6aa3c6"/>
<path d="M656 1534.3A895.9 895.9 0 0 1 648.8 1512.8" stroke="#5294be"/>
<path d="M648.8 1512.8A895.9 895.9 0 0 1 642 1491.1" stroke="#5294be"/>
<path d="M642 1491.1A895.9 895.9 0 0 1 635.9 1469.3" stroke="#5294be"/>
<path d="M635.9 1469.3A895.9 895.9 0 0 1 630.3 1447.3" stroke="#498ab9"/>
<path d="M630.3 1447.3A895.9 895.9 0 0 1 625.2 1425.2" stroke="#5294be"/>
<path d="M625.2 1425.2A895.9 895.9 0 0 1 620.7 1403" stroke="#6aa3c6"/>
<path d="M620.7 1403A895.9 895.9 0 0 1 616.8 1380.7" stroke="#80b4c6"/>
<path d="M616.8 1380.7A895.9 895.9 0 0 1 613.4 1358.3" stroke="#5294be"/>
<path d="M613.4 1358.3A895.9 895.9 0 0 1 610.6 1335.8" stroke="#80b4c6"/>
<path d="M610.6 1335.8A895.9 895.9 0 0 1 608.4 1313.2" stroke="#80b4c6"/>
<path d="M608.4 1313.2A895.9 895.9 0 0 1 606.7 1290.6" stroke="#80b4c6"/>
<path d="M606.7 1290.6A895.9 895.9 0 0 1 605.7 1267.9" stroke="#80b4c6"/>
<path d="M605.7 1267.9A895.9 895.9 0 0 1 605.1 1245.3" stroke="#498ab9"/>
<path d="M605.1 1245.3A895.9 895.9 0 0 1 605.2 1222.6" stroke="#498ab9"/>
<path d="M605.2 1222.6A895.9 895.9 0 0 1 605.8 1199.9" stroke="#80b4c6"/>
<path d="M605.8 1199.9A895.9 895.9 0 0 1 607.1 1177.3" stroke="#5294be"/>
<path d="M607.1 1177.3A895.9 895.9 0 0 1 608.8 1154.7" stroke="#5294be"/>
<path d="M608.8 1154.7A895.9 895.9 0 0 1 611.2 1132.1" stroke="#80b4c6"/>
<path d="M611.2 1132.1A895.9 895.9 0 0 1 614.1 1109.6" stroke="#5294be"/>
<path d="M614.1 1109.6A895.9 895.9 0 0 1 617.6 1087.2" stroke="#6aa3c6"/>
<path d="M617.6 1087.2A895.9 895.9 0 0 1 621.7 1064.9" stroke="#efefa8"/>
<path d="M621.7 1064.9A895.9 895.9 0 0 1 626.3 1042.7" stroke="#b3d5b7"/>
<path d="M626.3 1042.7A895.9 895.9 0 0 1 631.5 1020.6" stroke="#b3d5b7"/>
<path d="M631.5 1020.6A895.9 895.9 0 0 1 637.2 998.7" stroke="#4080b4"/>
<path d="M637.2 998.7A895.9 895.9 0 0 1 643.5 976.9" stroke="#80b4c6"/>
<path d="M643.5 976.9A895.9 895.9 0 0 1 650.4 955.3" stroke="#80b4c6"/>
<path d="M650.4 955.3A895.9 895.9 0 0 1 657.8 933.9" stroke="#6aa3c6"/>
<path d="M657.8 933.9A895.9 895.9 0 0 1 665.7 912.6" stroke="#6aa3c6"/>
<path d="M665.7 912.6A895.9 895.9 0 0 1 674.2 891.6" stroke="#6aa3c6"/>
<path d="M674.2 891.6A895.9 895.9 0 0 1 683.1 870.8" stroke="#80b4c6"/>
<path d="M683.1 870.8A895.9 895.9 0 0 1 692.7 850.2" stroke="#80b4c6"/>
<path d="M692.7 850.2A895.9 895.9 0 0 1 702.7 829.9" stroke="#6aa3c6"/>
<path d="M702.7 829.9A895.9 895.9 0 0 1 713.2 809.8" stroke="#5294be"/>
<path d="M713.2 809.8A895.9 895.9 0 0 1 724.3 790" stroke="#6aa3c6"/>
<path d="M724.3 790A895.9 895.9 0 0 1 735.8 770.5" stroke="#80b4c6"/>
<path d="M735.8 770.5A895.9 895.9 0 0 1 747.9 751.3" stroke="#6aa3c6"/>
<path d="M747.9 751.3A895.9 895.9 0 0 1 760.4 732.4" stroke="#6aa3c6"/>
<path d="M760.4 732.4A895.9 895.9 0 0 1 773.4 713.8" stroke="#6aa3c6"/>
<path d="M773.4 713.8A895.9 895.9 0 0 1 786.9 695.5" stroke="#498ab9"/>
<path d="M786.9 695.5A895.9 895.9 0 0 1 800.8 677.6" stroke="#498ab9"/>
<path d="M800.8 677.6A895.9 895.9 0 0 1 815.2 660.1" stroke="#6aa3c6"/>
<path d="M815.2 660.1A895.9 895.9 0 0 1 830 642.9" stroke="#5294be"/>
<path d="M830 642.9A895.9 895.9 0 0 1 845.2 626.1" stroke="#80b4c6"/>
<path d="M845.2 626.1A895.9 895.9 0 0 1 860.9 609.7" stroke="#80b4c6"/>
<path d="M860.9 609.7A895.9 895.9 0 0 1 876.9 593.7" stroke="#5294be"/>
<path d="M876.9 593.7A895.9 895.9 0 0 1 893.4 578.1" stroke="#5294be"/>
<path d="M893.4 578.1A895.9 895.9 0 0 1 910.2 563" stroke="#80b4c6"/>
<path d="M910.2 563A895.9 895.9 0 0 1 927.5 548.2" stroke="#80b4c6"/>
<path d="M927.5 548.2A895.9 895.9 0 0 1 945.1 533.9" stroke="#80b4c6"/>
<path d="M945.1 533.9A895.9 895.9 0 0 1 963 520.1" stroke="#80b4c6"/>
<path d="M963 520.1A895.9 895.9 0 0 1 981.3 506.7" stroke="#80b4c6"/>
<path d="M981.3 506.7A895.9 895.9 0 0 1 1000 493.8" stroke="#80b4c6"/>
<path d="M1000 493.8A895.9 895.9 0 0 1 1018.9 481.3" stroke="#d5e6b0"/>
<path d="M1018.9 481.3A895.9 895.9 0 0 1 1038.2 469.4" stroke="#d5e6b0"/>
<path d="M1038.2 469.4A895.9 895.9 0 0 1 1057.8 457.9" stroke="#95c3c0"/>
<path d="M1057.8 457.9A895.9 895.9 0 0 1 1077.6 447" stroke="#95c3c0"/>
<path d="M1077.6 447A895.9 895.9 0 0 1 1097.7 436.5" stroke="#80b4c6"/>
<path d="M1097.7 436.5A895.9 895.9 0 0 1 1118.1 426.5" stroke="#80b4c6"/>
<path d="M1118.1 426.5A895.9 895.9 0 0 1 1138.7 417.1" stroke="#95c3c0"/>
<path d="M1138.7 417.1A895.9 895.9 0 0 1 1159.6 408.2" stroke="#80b4c6"/>
<path d="M1159.6 408.2A895.9 895.9 0 0 1 1180.6 399.8" stroke="#80b4c6"/>
<path d="M1180.6 399.8A895.9 895.9 0 0 1 1201.9 392" stroke="#d5e6b0"/>
<path d="M1201.9 392A895.9 895.9 0 0 1 1223.4 384.7" stroke="#d5e6b0"/>
<path d="M1223.4 384.7A895.9 895.9 0 0 1 1245 377.9" stroke="#b3d5b7"/>
<path d="M1245 377.9A895.9 895.9 0 0 1 1266.9 371.7" stroke="#b3d5b7"/>
<path d="M1266.9 371.7A895.9 895.9 0 0 1 1288.8 366.1" stroke="#95c3c0"/>
<path d="M1288.8 366.1A895.9 895.9 0 0 1 1310.9 361" stroke="#95c3c0"/>
<path d="M1310.9 361A895.9 895.9 0 0 1 1333.1 356.5" stroke="#95c3c0"/>
<path d="M1916.5 521.4A827.1 827.1 0 0 1 1934.5 532.1" stroke="#95c3c0"/>
<path d="M1934.5 532.1A827.1 827.1 0 0 1 1952.2 543.3" stroke="#80b4c6"/>
<path d="M1952.2 543.3A827.1 827.1 0 0 1 1969.6 555" stroke="#6aa3c6"/>
<path d="M1969.6 555A827.1 827.1 0 0 1 1986.7 567" stroke="#80b4c6"/>
<path d="M1986.7 567A827.1 827.1 0 0 1 2003.5 579.5" stroke="#95c3c0"/>
<path d="M2003.5 579.5A827.1 827.1 0 0 1 2020 592.5" stroke="#95c3c0"/>
<path d="M2020 592.5A827.1 827.1 0 0 1 2036.1 605.8" stroke="#95c3c0"/>
<path d="M2036.1 605.8A827.1 827.1 0 0 1 2051.9 619.5" stroke="#95c3c0"/>
<path d="M2051.9 619.5A827.1 827.1 0 0 1 2067.3 633.7" stroke="#95c3c0"/>
<path d="M2067.3 633.7A827.1 827.1 0 0 1 2082.4 648.2" stroke="#80b4c6"/>
<path d="M2082.4 648.2A827.1 827.1 0 0 1 2097.1 663.1" stroke="#80b4c6"/>
<path d="M2097.1 663.1A827.1 827.1 0 0 1 2111.4 678.4" stroke="#80b4c6"/>
<path d="M2111.4 678.4A827.1 827.1 0 0 1 2125.3 694" stroke="#80b4c6"/>
<path d="M2125.3 694A827.1 827.1 0 0 1 2138.9 710" stroke="#80b4c6"/>
<path d="M2138.9 710A827.1 827.1 0 0 1 2152 726.3" stroke="#80b4c6"/>
<path d="M2152 726.3A827.1 827.1 0 0 1 2164.7 742.9" stroke="#80b4c6"/>
<path d="M2164.7 742.9A827.1 827.1 0 0 1 2177 759.9" stroke="#6aa3c6"/>
<path d="M2177 759.9A827.1 827.1 0 0 1 2188.8 777.1" stroke="#6aa3c6"/>
<path d="M2188.8 777.1A827.1 827.1 0 0 1 2200.2 794.7" stroke="#6aa3c6"/>
<path d="M2200.2 794.7A827.1 827.1 0 0 1 2211.2 812.5" stroke="#80b4c6"/>
<path d="M2211.2 812.5A827.1 827.1 0 0 1 2221.7 830.6" stroke="#95c3c0"/>
<path d="M2221.7 830.6A827.1 827.1 0 0 1 2231.7 849" stroke="#95c3c0"/>
<path d="M2231.7 849A827.1 827.1 0 0 1 2241.3 867.6" stroke="#b3d5b7"/>
<path d="M2241.3 867.6A827.1 827.1 0 0 1 2250.4 886.5" stroke="#b3d5b7"/>
<path d="M2250.4 886.5A827.1 827.1 0 0 1 2259 905.6" stroke="#95c3c0"/>
<path d="M2259 905.6A827.1 827.1 0 0 1 2267.1 924.9" stroke="#80b4c6"/>
<path d="M2267.1 924.9A827.1 827.1 0 0 1 2274.8 944.3" stroke="#b3d5b7"/>
<path d="M2274.8 944.3A827.1 827.1 0 0 1 2281.9 964" stroke="#b3d5b7"/>
<path d="M2281.9 964A827.1 827.1 0 0 1 2288.6 983.9" stroke="#d5e6b0"/>
<path d="M2288.6 983.9A827.1 827.1 0 0 1 2294.7 1003.9" stroke="#efefa8"/>
<path d="M2294.7 1003.9A827.1 827.1 0 0 1 2300.3 1024" stroke="#b3d5b7"/>
<path d="M2300.3 1024A827.1 827.1 0 0 1 2305.5 1044.3" stroke="#95c3c0"/>
<path d="M2305.5 1044.3A827.1 827.1 0 0 1 2310.1 1064.8" stroke="#95c3c0"/>
<path d="M2310.1 1064.8A827.1 827.1 0 0 1 2314.2 1085.3" stroke="#b3d5b7"/>
<path d="M2314.2 1085.3A827.1 827.1 0 0 1 2317.7 1105.9" stroke="#b3d5b7"/>
<path d="M2317.7 1105.9A827.1 827.1 0 0 1 2320.8 1126.6" stroke="#95c3c0"/>
<path d="M2320.8 1126.6A827.1 827.1 0 0 1 2323.3 1147.4" stroke="#95c3c0"/>
<path d="M2323.3 1147.4A827.1 827.1 0 0 1 2325.3 1168.3" stroke="#b3d5b7"/>
<path d="M2325.3 1168.3A827.1 827.1 0 0 1 2326.7 1189.1" stroke="#95c3c0"/>
<path d="M2326.7 1189.1A827.1 827.1 0 0 1 2327.7 1210" stroke="#6aa3c6"/>
<path d="M2327.7 1210A827.1 827.1 0 0 1 2328.1 1231" stroke="#80b4c6"/>
<path d="M2328.1 1231A827.1 827.1 0 0 1 2328 1251.9" stroke="#efefa8"/>
<path d="M2328 1251.9A827.1 827.1 0 0 1 2327.3 1272.8" stroke="#d5e6b0"/>
<path d="M2327.3 1272.8A827.1 827.1 0 0 1 2326.1 1293.7" stroke="#b3d5b7"/>
<path d="M2326.1 1293.7A827.1 827.1 0 0 1 2324.4 1314.6" stroke="#80b4c6"/>
<path d="M2324.4 1314.6A827.1 827.1 0 0 1 2322.2 1335.4" stroke="#80b4c6"/>
<path d="M2322.2 1335.4A827.1 827.1 0 0 1 2319.4 1356.2" stroke="#80b4c6"/>
<path d="M2319.4 1356.2A827.1 827.1 0 0 1 2316.1 1376.8" stroke="#80b4c6"/>
<path d="M2316.1 1376.8A827.1 827.1 0 0 1 2312.3 1397.4" stroke="#80b4c6"/>
<path d="M2312.3 1397.4A827.1 827.1 0 0 1 2308 1417.9" stroke="#80b4c6"/>
<path d="M2308 1417.9A827.1 827.1 0 0 1 2303.1 1438.3" stroke="#80b4c6"/>
<path d="M2303.1 1438.3A827.1 827.1 0 0 1 2297.8 1458.5" stroke="#80b4c6"/>
<path d="M2297.8 1458.5A827.1 827.1 0 0 1 2291.9 1478.6" stroke="#80b4c6"/>
<path d="M2291.9 1478.6A827.1 827.1 0 0 1 2285.5 1498.5" stroke="#80b4c6"/>
<path d="M2285.5 1498.5A827.1 827.1 0 0 1 2278.6 1518.3" stroke="#80b4c6"/>
<path d="M2278.6 1518.3A827.1 827.1 0 0 1 2271.2 1537.9" stroke="#95c3c0"/>
<path d="M2271.2 1537.9A827.1 827.1 0 0 1 2263.4 1557.3" stroke="#95c3c0"/>
<path d="M2263.4 1557.3A827.1 827.1 0 0 1 2255 1576.5" stroke="#d5e6b0"/>
<path d="M2255 1576.5A827.1 827.1 0 0 1 2246.2 1595.4" stroke="#b3d5b7"/>
<path d="M2246.2 1595.4A827.1 827.1 0 0 1 2236.8 1614.2" stroke="#6aa3c6"/>
<path d="M2236.8 1614.2A827.1 827.1 0 0 1 2227 1632.7" stroke="#6aa3c6"/>
<path d="M2227 1632.7A827.1 827.1 0 0 1 2216.8 1650.9" stroke="#6aa3c6"/>
<path d="M2216.8 1650.9A827.1 827.1 0 0 1 2206.1 1668.9" stroke="#80b4c6"/>
<path d="M2206.1 1668.9A827.1 827.1 0 0 1 2194.9 1686.6" stroke="#80b4c6"/>
<path d="M2194.9 1686.6A827.1 827.1 0 0 1 2183.3 1704" stroke="#80b4c6"/>
<path d="M2183.3 1704A827.1 827.1 0 0 1 2171.2 1721.2" stroke="#80b4c6"/>
<path d="M2171.2 1721.2A827.1 827.1 0 0 1 2158.7 1738" stroke="#80b4c6"/>
<path d="M2158.7 1738A827.1 827.1 0 0 1 2145.8 1754.5" stroke="#80b4c6"/>
<path d="M2145.8 1754.5A827.1 827.1 0 0 1 2132.5 1770.6" stroke="#80b4c6"/>
<path d="M2132.5 1770.6A827.1 827.1 0 0 1 2118.8 1786.4" stroke="#80b4c6"/>
<path d="M2118.8 1786.4A827.1 827.1 0 0 1 2104.7 1801.9" stroke="#80b4c6"/>
<path d="M2104.7 1801.9A827.1 827.1 0 0 1 2090.2 1817" stroke="#95c3c0"/>
<path d="M2090.2 1817A827.1 827.1 0 0 1 2075.3 1831.7" stroke="#95c3c0"/>
<path d="M2075.3 1831.7A827.1 827.1 0 0 1 2060.1 1846" stroke="#95c3c0"/>
<path d="M2060.1 1846A827.1 827.1 0 0 1 2044.5 1860" stroke="#95c3c0"/>
<path d="M2044.5 1860A827.1 827.1 0 0 1 2028.5 1873.6" stroke="#95c3c0"/>
<path d="M2028.5 1873.6A827.1 827.1 0 0 1 2012.2 1886.7" stroke="#95c3c0"/>
<path d="M2012.2 1886.7A827.1 827.1 0 0 1 1995.6 1899.4" stroke="#80b4c6"/>
<path d="M1995.6 1899.4A827.1 827.1 0 0 1 1978.7 1911.7" stroke="#80b4c6"/>
<path d="M1978.7 1911.7A827.1 827.1 0 0 1 1961.4 1923.6" stroke="#80b4c6"/>
<path d="M1961.4 1923.6A827.1 827.1 0 0 1 1943.9 1935" stroke="#80b4c6"/>
<path d="M1943.9 1935A827.1 827.1 0 0 1 1926.1 1946" stroke="#95c3c0"/>
<path d="M1926.1 1946A827.1 827.1 0 0 1 1908 1956.5" stroke="#95c3c0"/>
<path d="M1908 1956.5A827.1 827.1 0 0 1 1889.6 1966.6" stroke="#95c3c0"/>
<path d="M1889.6 1966.6A827.1 827.1 0 0 1 1871 1976.2" stroke="#95c3c0"/>
<path d="M1871 1976.2A827.1 827.1 0 0 1 1852.2 1985.3" stroke="#95c3c0"/>
<path d="M1852.2 1985.3A827.1 827.1 0 0 1 1833.1 1994" stroke="#80b4c6"/>
<path d="M1833.1 1994A827.1 827.1 0 0 1 1813.8 2002.2" stroke="#80b4c6"/>
<path d="M1813.8 2002.2A827.1 827.1 0 0 1 1794.4 2009.8" stroke="#80b4c6"/>
<path d="M1794.4 2009.8A827.1 827.1 0 0 1 1774.7 2017" stroke="#80b4c6"/>
<path d="M1774.7 2017A827.1 827.1 0 0 1 1754.8 2023.7" stroke="#80b4c6"/>
<path d="M1754.8 2023.7A827.1 827.1 0 0 1 1734.8 2029.9" stroke="#80b4c6"/>
<path d="M1734.8 2029.9A827.1 827.1 0 0 1 1714.7 2035.5" stroke="#95c3c0"/>
<path d="M1714.7 2035.5A827.1 827.1 0 0 1 1694.4 2040.7" stroke="#95c3c0"/>
<path d="M1694.4 2040.7A827.1 827.1 0 0 1 1674 2045.3" stroke="#80b4c6"/>
<path d="M1674 2045.3A827.1 827.1 0 0 1 1653.5 2049.4" stroke="#80b4c6"/>
<path d="M1653.5 2049.4A827.1 827.1 0 0 1 1632.8 2053" stroke="#80b4c6"/>
<path d="M1632.8 2053A827.1 827.1 0 0 1 1612.1 2056.1" stroke="#80b4c6"/>
<path d="M1612.1 2056.1A827.1 827.1 0 0 1 1591.4 2058.6" stroke="#80b4c6"/>
<path d="M1591.4 2058.6A827.1 827.1 0 0 1 1570.5 2060.7" stroke="#95c3c0"/>
<path d="M1570.5 2060.7A827.1 827.1 0 0 1 1549.6 2062.2" stroke="#d5e6b0"/>
<path d="M1549.6 2062.2A827.1 827.1 0 0 1 1528.7 2063.1" stroke="#b3d5b7"/>
<path d="M1528.7 2063.1A827.1 827.1 0 0 1 1507.8 2063.6" stroke="#95c3c0"/>
<path d="M1507.8 2063.6A827.1 827.1 0 0 1 1486.9 2063.5" stroke="#95c3c0"/>
<path d="M1486.9 2063.5A827.1 827.1 0 0 1 1465.9 2062.9" stroke="#95c3c0"/>
<path d="M1465.9 2062.9A827.1 827.1 0 0 1 1445 2061.7" stroke="#80b4c6"/>
<path d="M1445 2061.7A827.1 827.1 0 0 1 1424.2 2060" stroke="#95c3c0"/>
<path d="M1424.2 2060A827.1 827.1 0 0 1 1403.4 2057.8" stroke="#95c3c0"/>
<path d="M1403.4 2057.8A827.1 827.1 0 0 1 1382.6 2055.1" stroke="#95c3c0"/>
<path d="M1382.6 2055.1A827.1 827.1 0 0 1 1361.9 2051.8" stroke="#95c3c0"/>
<path d="M1361.9 2051.8A827.1 827.1 0 0 1 1341.3 2048" stroke="#95c3c0"/>
<path d="M1341.3 2048A827.1 827.1 0 0 1 1320.9 2043.7" stroke="#95c3c0"/>
<path d="M1320.9 2043.7A827.1 827.1 0 0 1 1300.5 2038.9" stroke="#95c3c0"/>
<path d="M1300.5 2038.9A827.1 827.1 0 0 1 1280.2 2033.6" stroke="#95c3c0"/>
<path d="M1280.2 2033.6A827.1 827.1 0 0 1 1260.1 2027.8" stroke="#95c3c0"/>
<path d="M1260.1 2027.8A827.1 827.1 0 0 1 1240.2 2021.4" stroke="#95c3c0"/>
<path d="M1240.2 2021.4A827.1 827.1 0 0 1 1220.4 2014.5" stroke="#b3d5b7"/>
<path d="M1220.4 2014.5A827.1 827.1 0 0 1 1200.8 2007.2" stroke="#b3d5b7"/>
<path d="M1200.8 2007.2A827.1 827.1 0 0 1 1181.4 1999.4" stroke="#b3d5b7"/>
<path d="M1181.4 1999.4A827.1 827.1 0 0 1 1162.2 1991" stroke="#95c3c0"/>
<path d="M1162.2 1991A827.1 827.1 0 0 1 1143.2 1982.2" stroke="#80b4c6"/>
<path d="M1143.2 1982.2A827.1 827.1 0 0 1 1124.4 1972.9" stroke="#3a70ac"/>
<path d="M1124.4 1972.9A827.1 827.1 0 0 1 1105.9 1963.1" stroke="#3a70ac"/>
<path d="M1105.9 1963.1A827.1 827.1 0 0 1 1087.7 1952.9" stroke="#5294be"/>
<path d="M1087.7 1952.9A827.1 827.1 0 0 1 1069.7 1942.2" stroke="#6aa3c6"/>
<path d="M1069.7 1942.2A827.1 827.1 0 0 1 1051.9 1931.1" stroke="#5294be"/>
<path d="M1051.9 1931.1A827.1 827.1 0 0 1 1034.5 1919.5" stroke="#6aa3c6"/>
<path d="M1034.5 1919.5A827.1 827.1 0 0 1 1017.4 1907.5" stroke="#5294be"/>
<path d="M1017.4 1907.5A827.1 827.1 0 0 1 1000.6 1895" stroke="#6aa3c6"/>
<path d="M1000.6 1895A827.1 827.1 0 0 1 984 1882.1" stroke="#6aa3c6"/>
<path d="M984 1882.1A827.1 827.1 0 0 1 967.9 1868.9" stroke="#80b4c6"/>
<path d="M967.9 1868.9A827.1 827.1 0 0 1 952 1855.2" stroke="#80b4c6"/>
<path d="M952 1855.2A827.1 827.1 0 0 1 936.6 1841.1" stroke="#95c3c0"/>
<path d="M936.6 1841.1A827.1 827.1 0 0 1 921.4 1826.6" stroke="#95c3c0"/>
<path d="M921.4 1826.6A827.1 827.1 0 0 1 906.7 1811.7" stroke="#80b4c6"/>
<path d="M906.7 1811.7A827.1 827.1 0 0 1 892.3 1796.5" stroke="#80b4c6"/>
<path d="M892.3 1796.5A827.1 827.1 0 0 1 878.3 1780.9" stroke="#80b4c6"/>
<path d="M878.3 1780.9A827.1 827.1 0 0 1 864.8 1765" stroke="#80b4c6"/>
<path d="M864.8 1765A827.1 827.1 0 0 1 851.6 1748.7" stroke="#80b4c6"/>
<path d="M851.6 1748.7A827.1 827.1 0 0 1 838.8 1732.1" stroke="#80b4c6"/>
<path d="M838.8 1732.1A827.1 827.1 0 0 1 826.5 1715.2" stroke="#80b4c6"/>
<path d="M826.5 1715.2A827.1 827.1 0 0 1 814.6 1698" stroke="#80b4c6"/>
<path d="M814.6 1698A827.1 827.1 0 0 1 803.2 1680.5" stroke="#80b4c6"/>
<path d="M803.2 1680.5A827.1 827.1 0 0 1 792.1 1662.7" stroke="#95c3c0"/>
<path d="M792.1 1662.7A827.1 827.1 0 0 1 781.6 1644.6" stroke="#95c3c0"/>
<path d="M781.6 1644.6A827.1 827.1 0 0 1 771.5 1626.2" stroke="#95c3c0"/>
<path d="M771.5 1626.2A827.1 827.1 0 0 1 761.9 1607.7" stroke="#95c3c0"/>
<path d="M761.9 1607.7A827.1 827.1 0 0 1 752.7 1588.8" stroke="#95c3c0"/>
<path d="M752.7 1588.8A827.1 827.1 0 0 1 744 1569.8" stroke="#95c3c0"/>
<path d="M744 1569.8A827.1 827.1 0 0 1 735.8 1550.5" stroke="#b3d5b7"/>
<path d="M735.8 1550.5A827.1 827.1 0 0 1 728.1 1531.1" stroke="#95c3c0"/>
<path d="M728.1 1531.1A827.1 827.1 0 0 1 720.9 1511.4" stroke="#95c3c0"/>
<path d="M720.9 1511.4A827.1 827.1 0 0 1 714.2 1491.6" stroke="#95c3c0"/>
<path d="M714.2 1491.6A827.1 827.1 0 0 1 708 1471.6" stroke="#95c3c0"/>
<path d="M708 1471.6A827.1 827.1 0 0 1 702.3 1451.4" stroke="#b3d5b7"/>
<path d="M702.3 1451.4A827.1 827.1 0 0 1 697.1 1431.1" stroke="#80b4c6"/>
<path d="M697.1 1431.1A827.1 827.1 0 0 1 692.5 1410.7" stroke="#80b4c6"/>
<path d="M692.5 1410.7A827.1 827.1 0 0 1 688.3 1390.2" stroke="#80b4c6"/>
<path d="M688.3 1390.2A827.1 827.1 0 0 1 684.7 1369.6" stroke="#b3d5b7"/>
<path d="M684.7 1369.6A827.1 827.1 0 0 1 681.6 1348.9" stroke="#95c3c0"/>
<path d="M681.6 1348.9A827.1 827.1 0 0 1 679 1328.1" stroke="#95c3c0"/>
<path d="M679 1328.1A827.1 827.1 0 0 1 676.9 1307.3" stroke="#b3d5b7"/>
<path d="M676.9 1307.3A827.1 827.1 0 0 1 675.4 1286.4" stroke="#80b4c6"/>
<path d="M675.4 1286.4A827.1 827.1 0 0 1 674.4 1265.5" stroke="#95c3c0"/>
<path d="M674.4 1265.5A827.1 827.1 0 0 1 673.9 1244.6" stroke="#6aa3c6"/>
<path d="M673.9 1244.6A827.1 827.1 0 0 1 674 1223.7" stroke="#6aa3c6"/>
<path d="M674 1223.7A827.1 827.1 0 0 1 674.6 1202.7" stroke="#80b4c6"/>
<path d="M674.6 1202.7A827.1 827.1 0 0 1 675.7 1181.8" stroke="#95c3c0"/>
<path d="M675.7 1181.8A827.1 827.1 0 0 1 677.4 1161" stroke="#95c3c0"/>
<path d="M677.4 1161A827.1 827.1 0 0 1 679.5 1140.1" stroke="#6aa3c6"/>
<path d="M679.5 1140.1A827.1 827.1 0 0 1 682.2 1119.4" stroke="#80b4c6"/>
<path d="M682.2 1119.4A827.1 827.1 0 0 1 685.5 1098.7" stroke="#80b4c6"/>
<path d="M685.5 1098.7A827.1 827.1 0 0 1 689.2 1078.1" stroke="#95c3c0"/>
<path d="M689.2 1078.1A827.1 827.1 0 0 1 693.5 1057.6" stroke="#b3d5b7"/>
<path d="M693.5 1057.6A827.1 827.1 0 0 1 698.3 1037.2" stroke="#d5e6b0"/>
<path d="M698.3 1037.2A827.1 827.1 0 0 1 703.6 1017" stroke="#b3d5b7"/>
<path d="M703.6 1017A827.1 827.1 0 0 1 709.4 996.9" stroke="#b3d5b7"/>
<path d="M709.4 996.9A827.1 827.1 0 0 1 715.7 976.9" stroke="#b3d5b7"/>
<path d="M715.7 976.9A827.1 827.1 0 0 1 722.5 957.1" stroke="#80b4c6"/>
<path d="M722.5 957.1A827.1 827.1 0 0 1 729.8 937.5" stroke="#80b4c6"/>
<path d="M729.8 937.5A827.1 827.1 0 0 1 737.7 918.1" stroke="#80b4c6"/>
<path d="M737.7 918.1A827.1 827.1 0 0 1 746 898.9" stroke="#80b4c6"/>
<path d="M746 898.9A827.1 827.1 0 0 1 754.7 879.9" stroke="#80b4c6"/>
<path d="M754.7 879.9A827.1 827.1 0 0 1 764 861.1" stroke="#80b4c6"/>
<path d="M764 861.1A827.1 827.1 0 0 1 773.7 842.6" stroke="#6aa3c6"/>
<path d="M773.7 842.6A827.1 827.1 0 0 1 783.9 824.3" stroke="#80b4c6"/>
<path d="M783.9 824.3A827.1 827.1 0 0 1 794.6 806.3" stroke="#95c3c0"/>
<path d="M794.6 806.3A827.1 827.1 0 0 1 805.7 788.5" stroke="#95c3c0"/>
<path d="M805.7 788.5A827.1 827.1 0 0 1 817.3 771.1" stroke="#80b4c6"/>
<path d="M817.3 771.1A827.1 827.1 0 0 1 829.3 753.9" stroke="#80b4c6"/>
<path d="M829.3 753.9A827.1 827.1 0 0 1 841.7 737.1" stroke="#95c3c0"/>
<path d="M841.7 737.1A827.1 827.1 0 0 1 854.6 720.5" stroke="#80b4c6"/>
<path d="M854.6 720.5A827.1 827.1 0 0 1 867.8 704.4" stroke="#80b4c6"/>
<path d="M867.8 704.4A827.1 827.1 0 0 1 881.5 688.5" stroke="#95c3c0"/>
<path d="M881.5 688.5A827.1 827.1 0 0 1 895.6 673" stroke="#b3d5b7"/>
<path d="M895.6 673A827.1 827.1 0 0 1 910 657.9" stroke="#b3d5b7"/>
<path d="M910 657.9A827.1 827.1 0 0 1 924.8 643.1" stroke="#95c3c0"/>
<path d="M924.8 643.1A827.1 827.1 0 0 1 940.1 628.7" stroke="#80b4c6"/>
<path d="M940.1 628.7A827.1 827.1 0 0 1 955.6 614.7" stroke="#80b4c6"/>
<path d="M955.6 614.7A827.1 827.1 0 0 1 971.5 601.1" stroke="#6aa3c6"/>
<path d="M971.5 601.1A827.1 827.1 0 0 1 987.8 587.9" stroke="#80b4c6"/>
<path d="M987.8 587.9A827.1 827.1 0 0 1 1004.4 575.1" stroke="#6aa3c6"/>
<path d="M1004.4 575.1A827.1 827.1 0 0 1 1021.3 562.8" stroke="#6aa3c6"/>
<path d="M1021.3 562.8A827.1 827.1 0 0 1 1038.5 550.8" stroke="#80b4c6"/>
<path d="M1038.5 550.8A827.1 827.1 0 0 1 1056 539.3" stroke="#80b4c6"/>
<path d="M1056 539.3A827.1 827.1 0 0 1 1073.7 528.3" stroke="#80b4c6"/>
<path d="M1073.7 528.3A827.1 827.1 0 0 1 1091.8 517.7" stroke="#80b4c6"/>
<path d="M1091.8 517.7A827.1 827.1 0 0 1 1110.1 507.6" stroke="#95c3c0"/>
<path d="M1110.1 507.6A827.1 827.1 0 0 1 1128.7 497.9" stroke="#95c3c0"/>
<path d="M1128.7 497.9A827.1 827.1 0 0 1 1147.5 488.7" stroke="#b3d5b7"/>
<path d="M1147.5 488.7A827.1 827.1 0 0 1 1166.5 480" stroke="#b3d5b7"/>
<path d="M1166.5 480A827.1 827.1 0 0 1 1185.8 471.8" stroke="#95c3c0"/>
<path d="M1185.8 471.8A827.1 827.1 0 0 1 1205.3 464.1" stroke="#80b4c6"/>
<path d="M1205.3 464.1A827.1 827.1 0 0 1 1224.9 456.8" stroke="#80b4c6"/>
<path d="M1224.9 456.8A827.1 827.1 0 0 1 1244.7 450.1" stroke="#80b4c6"/>
<path d="M1244.7 450.1A827.1 827.1 0 0 1 1264.7 443.9" stroke="#80b4c6"/>
<path d="M1264.7 443.9A827.1 827.1 0 0 1 1284.8 438.1" stroke="#80b4c6"/>
<path d="M1284.8 438.1A827.1 827.1 0 0 1 1305.1 432.9" stroke="#6aa3c6"/>
<path d="M1305.1 432.9A827.1 827.1 0 0 1 1325.5 428.2" stroke="#80b4c6"/>
<path d="M1325.5 428.2A827.1 827.1 0 0 1 1346 424.1" stroke="#5294be"/>
<path d="M1882 580.9A758.3 758.3 0 0 1 1898.5 590.7" stroke="#4080b4"/>
<path d="M1898.5 590.7A758.3 758.3 0 0 1 1914.7 601" stroke="#5294be"/>
<path d="M1914.7 601A758.3 758.3 0 0 1 1930.6 611.6" stroke="#5294be"/>
<path d="M1930.6 611.6A758.3 758.3 0 0 1 1946.3 622.7" stroke="#498ab9"/>
<path d="M1946.3 622.7A758.3 758.3 0 0 1 1961.7 634.2" stroke="#4080b4"/>
<path d="M1961.7 634.2A758.3 758.3 0 0 1 1976.8 646" stroke="#498ab9"/>
<path d="M1976.8 646A758.3 758.3 0 0 1 1991.6 658.3" stroke="#4080b4"/>
<path d="M1991.6 658.3A758.3 758.3 0 0 1 2006.1 670.9" stroke="#4080b4"/>
<path d="M2006.1 670.9A758.3 758.3 0 0 1 2020.2 683.8" stroke="#4080b4"/>
<path d="M2020.2 683.8A758.3 758.3 0 0 1 2034 697.1" stroke="#498ab9"/>
<path d="M2034 697.1A758.3 758.3 0 0 1 2047.5 710.8" stroke="#4080b4"/>
<path d="M2047.5 710.8A758.3 758.3 0 0 1 2060.6 724.8" stroke="#4080b4"/>
<path d="M2060.6 724.8A758.3 758.3 0 0 1 2073.4 739.1" stroke="#4080b4"/>
<path d="M2073.4 739.1A758.3 758.3 0 0 1 2085.8 753.8" stroke="#4080b4"/>
<path d="M2085.8 753.8A758.3 758.3 0 0 1 2097.8 768.7" stroke="#4080b4"/>
<path d="M2097.8 768.7A758.3 758.3 0 0 1 2109.5 784" stroke="#4080b4"/>
<path d="M2109.5 784A758.3 758.3 0 0 1 2120.7 799.5" stroke="#498ab9"/>
<path d="M2120.7 799.5A758.3 758.3 0 0 1 2131.6 815.4" stroke="#498ab9"/>
<path d="M2131.6 815.4A758.3 758.3 0 0 1 2142.1 831.5" stroke="#3a70ac"/>
<path d="M2142.1 831.5A758.3 758.3 0 0 1 2152.1 847.8" stroke="#3a70ac"/>
<path d="M2152.1 847.8A758.3 758.3 0 0 1 2161.7 864.4" stroke="#5294be"/>
<path d="M2161.7 864.4A758.3 758.3 0 0 1 2170.9 881.2" stroke="#80b4c6"/>
<path d="M2170.9 881.2A758.3 758.3 0 0 1 2179.7 898.3" stroke="#80b4c6"/>
<path d="M2179.7 898.3A758.3 758.3 0 0 1 2188.1 915.6" stroke="#6aa3c6"/>
<path d="M2188.1 915.6A758.3 758.3 0 0 1 2196 933.1" stroke="#6aa3c6"/>
<path d="M2196 933.1A758.3 758.3 0 0 1 2203.4 950.8" stroke="#5294be"/>
<path d="M2203.4 950.8A758.3 758.3 0 0 1 2210.4 968.6" stroke="#5294be"/>
<path d="M2210.4 968.6A758.3 758.3 0 0 1 2217 986.7" stroke="#5294be"/>
<path d="M2217 986.7A758.3 758.3 0 0 1 2223.1 1004.9" stroke="#5294be"/>
<path d="M2223.1 1004.9A758.3 758.3 0 0 1 2228.7 1023.2" stroke="#5294be"/>
<path d="M2228.7 1023.2A758.3 758.3 0 0 1 2233.9 1041.7" stroke="#95c3c0"/>
<path d="M2233.9 1041.7A758.3 758.3 0 0 1 2238.6 1060.3" stroke="#95c3c0"/>
<path d="M2238.6 1060.3A758.3 758.3 0 0 1 2242.8 1079" stroke="#498ab9"/>
<path d="M2242.8 1079A758.3 758.3 0 0 1 2246.5 1097.9" stroke="#5294be"/>
<path d="M2246.5 1097.9A758.3 758.3 0 0 1 2249.8 1116.8" stroke="#4080b4"/>
<path d="M2249.8 1116.8A758.3 758.3 0 0 1 2252.6 1135.8" stroke="#4080b4"/>
<path d="M2252.6 1135.8A758.3 758.3 0 0 1 2254.9 1154.8" stroke="#5294be"/>
<path d="M2254.9 1154.8A758.3 758.3 0 0 1 2256.7 1173.9" stroke="#5294be"/>
<path d="M2256.7 1173.9A758.3 758.3 0 0 1 2258.1 1193.1" stroke="#5294be"/>
<path d="M2258.1 1193.1A758.3 758.3 0 0 1 2258.9 1212.2" stroke="#6aa3c6"/>
<path d="M2258.9 1212.2A758.3 758.3 0 0 1 2259.3 1231.4" stroke="#5294be"/>
<path d="M2259.3 1231.4A758.3 758.3 0 0 1 2259.2 1250.6" stroke="#6aa3c6"/>
<path d="M2259.2 1250.6A758.3 758.3 0 0 1 2258.6 1269.8" stroke="#498ab9"/>
<path d="M2258.6 1269.8A758.3 758.3 0 0 1 2257.5 1289" stroke="#498ab9"/>
<path d="M2257.5 1289A758.3 758.3 0 0 1 2255.9 1308.1" stroke="#498ab9"/>
<path d="M2255.9 1308.1A758.3 758.3 0 0 1 2253.9 1327.2" stroke="#498ab9"/>
<path d="M2253.9 1327.2A758.3 758.3 0 0 1 2251.3 1346.2" stroke="#95c3c0"/>
<path d="M2251.3 1346.2A758.3 758.3 0 0 1 2248.3 1365.2" stroke="#6aa3c6"/>
<path d="M2248.3 1365.2A758.3 758.3 0 0 1 2244.8 1384" stroke="#6aa3c6"/>
<path d="M2244.8 1384A758.3 758.3 0 0 1 2240.8 1402.8" stroke="#6aa3c6"/>
<path d="M2240.8 1402.8A758.3 758.3 0 0 1 2236.4 1421.5" stroke="#5294be"/>
<path d="M2236.4 1421.5A758.3 758.3 0 0 1 2231.5 1440" stroke="#4080b4"/>
<path d="M2231.5 1440A758.3 758.3 0 0 1 2226.1 1458.5" stroke="#6aa3c6"/>
<path d="M2226.1 1458.5A758.3 758.3 0 0 1 2220.2 1476.7" stroke="#498ab9"/>
<path d="M2220.2 1476.7A758.3 758.3 0 0 1 2213.9 1494.9" stroke="#4080b4"/>
<path d="M2213.9 1494.9A758.3 758.3 0 0 1 2207.2 1512.8" stroke="#5294be"/>
<path d="M2207.2 1512.8A758.3 758.3 0 0 1 2199.9 1530.6" stroke="#5294be"/>
<path d="M2199.9 1530.6A758.3 758.3 0 0 1 2192.3 1548.2" stroke="#498ab9"/>
<path d="M2192.3 1548.2A758.3 758.3 0 0 1 2184.2 1565.6" stroke="#5294be"/>
<path d="M2184.2 1565.6A758.3 758.3 0 0 1 2175.6 1582.8" stroke="#498ab9"/>
<path d="M2175.6 1582.8A758.3 758.3 0 0 1 2166.6 1599.7" stroke="#498ab9"/>
<path d="M2166.6 1599.7A758.3 758.3 0 0 1 2157.2 1616.5" stroke="#5294be"/>
<path d="M2157.2 1616.5A758.3 758.3 0 0 1 2147.4 1633" stroke="#5294be"/>
<path d="M2147.4 1633A758.3 758.3 0 0 1 2137.2 1649.2" stroke="#498ab9"/>
<path d="M2137.2 1649.2A758.3 758.3 0 0 1 2126.5 1665.2" stroke="#4080b4"/>
<path d="M2126.5 1665.2A758.3 758.3 0 0 1 2115.5 1680.8" stroke="#3a70ac"/>
<path d="M2115.5 1680.8A758.3 758.3 0 0 1 2104 1696.3" stroke="#4080b4"/>
<path d="M2104 1696.3A758.3 758.3 0 0 1 2092.2 1711.4" stroke="#498ab9"/>
<path d="M2092.2 1711.4A758.3 758.3 0 0 1 2080 1726.2" stroke="#498ab9"/>
<path d="M2080 1726.2A758.3 758.3 0 0 1 2067.4 1740.7" stroke="#4080b4"/>
<path d="M2067.4 1740.7A758.3 758.3 0 0 1 2054.5 1754.8" stroke="#4080b4"/>
<path d="M2054.5 1754.8A758.3 758.3 0 0 1 2041.2 1768.7" stroke="#3a70ac"/>
<path d="M2041.2 1768.7A758.3 758.3 0 0 1 2027.5 1782.2" stroke="#3a70ac"/>
<path d="M2027.5 1782.2A758.3 758.3 0 0 1 2013.6 1795.3" stroke="#4080b4"/>
<path d="M2013.6 1795.3A758.3 758.3 0 0 1 1999.3 1808.1" stroke="#4080b4"/>
<path d="M1999.3 1808.1A758.3 758.3 0 0 1 1984.6 1820.6" stroke="#4080b4"/>
<path d="M1984.6 1820.6A758.3 758.3 0 0 1 1969.7 1832.6" stroke="#4080b4"/>
<path d="M1969.7 1832.6A758.3 758.3 0 0 1 1954.5 1844.3" stroke="#4080b4"/>
<path d="M1954.5 1844.3A758.3 758.3 0 0 1 1938.9 1855.6" stroke="#4080b4"/>
<path d="M1938.9 1855.6A758.3 758.3 0 0 1 1923.1 1866.4" stroke="#4080b4"/>
<path d="M1923.1 1866.4A758.3 758.3 0 0 1 1907 1876.9" stroke="#4080b4"/>
<path d="M1907 1876.9A758.3 758.3 0 0 1 1890.7 1887" stroke="#3a70ac"/>
<path d="M1890.7 1887A758.3 758.3 0 0 1 1874.1 1896.7" stroke="#3a70ac"/>
<path d="M1874.1 1896.7A758.3 758.3 0 0 1 1857.3 1905.9" stroke="#4080b4"/>
<path d="M1857.3 1905.9A758.3 758.3 0 0 1 1840.2 1914.7" stroke="#4080b4"/>
<path d="M1840.2 1914.7A758.3 758.3 0 0 1 1823 1923.1" stroke="#4080b4"/>
<path d="M1823 1923.1A758.3 758.3 0 0 1 1805.5 1931" stroke="#4080b4"/>
<path d="M1805.5 1931A758.3 758.3 0 0 1 1787.8 1938.5" stroke="#4080b4"/>
<path d="M1787.8 1938.5A758.3 758.3 0 0 1 1770 1945.5" stroke="#3a70ac"/>
<path d="M1770 1945.5A758.3 758.3 0 0 1 1751.9 1952.1" stroke="#4080b4"/>
<path d="M1751.9 1952.1A758.3 758.3 0 0 1 1733.7 1958.2" stroke="#4080b4"/>
<path d="M1733.7 1958.2A758.3 758.3 0 0 1 1715.4 1963.9" stroke="#3a70ac"/>
<path d="M1715.4 1963.9A758.3 758.3 0 0 1 1696.9 1969.1" stroke="#4080b4"/>
<path d="M1696.9 1969.1A758.3 758.3 0 0 1 1678.3 1973.8" stroke="#4080b4"/>
<path d="M1678.3 1973.8A758.3 758.3 0 0 1 1659.6 1978" stroke="#4080b4"/>
<path d="M1659.6 1978A758.3 758.3 0 0 1 1640.8 1981.8" stroke="#4080b4"/>
<path d="M1640.8 1981.8A758.3 758.3 0 0 1 1621.9 1985.1" stroke="#4080b4"/>
<path d="M1621.9 1985.1A758.3 758.3 0 0 1 1602.9 1987.9" stroke="#4080b4"/>
<path d="M1602.9 1987.9A758.3 758.3 0 0 1 1583.8 1990.3" stroke="#4080b4"/>
<path d="M1583.8 1990.3A758.3 758.3 0 0 1 1564.7 1992.1" stroke="#4080b4"/>
<path d="M1564.7 1992.1A758.3 758.3 0 0 1 1545.6 1993.5" stroke="#498ab9"/>
<path d="M1545.6 1993.5A758.3 758.3 0 0 1 1526.4 1994.4" stroke="#4080b4"/>
<path d="M1526.4 1994.4A758.3 758.3 0 0 1 1507.2 1994.8" stroke="#4080b4"/>
<path d="M1507.2 1994.8A758.3 758.3 0 0 1 1488 1994.7" stroke="#4080b4"/>
<path d="M1488 1994.7A758.3 758.3 0 0 1 1468.9 1994.1" stroke="#3a70ac"/>
<path d="M1468.9 1994.1A758.3 758.3 0 0 1 1449.7 1993.1" stroke="#4080b4"/>
<path d="M1449.7 1993.1A758.3 758.3 0 0 1 1430.6 1991.5" stroke="#4080b4"/>
<path d="M1430.6 1991.5A758.3 758.3 0 0 1 1411.5 1989.5" stroke="#4080b4"/>
<path d="M1411.5 1989.5A758.3 758.3 0 0 1 1392.5 1987" stroke="#4080b4"/>
<path d="M1392.5 1987A758.3 758.3 0 0 1 1373.5 1984" stroke="#4080b4"/>
<path d="M1373.5 1984A758.3 758.3 0 0 1 1354.6 1980.5" stroke="#4080b4"/>
<path d="M1354.6 1980.5A758.3 758.3 0 0 1 1335.8 1976.6" stroke="#4080b4"/>
<path d="M1335.8 1976.6A758.3 758.3 0 0 1 1317.2 1972.2" stroke="#4080b4"/>
<path d="M1317.2 1972.2A758.3 758.3 0 0 1 1298.6 1967.3" stroke="#4080b4"/>
<path d="M1298.6 1967.3A758.3 758.3 0 0 1 1280.2 1961.9" stroke="#4080b4"/>
<path d="M1280.2 1961.9A758.3 758.3 0 0 1 1261.9 1956.1" stroke="#4080b4"/>
<path d="M1261.9 1956.1A758.3 758.3 0 0 1 1243.7 1949.8" stroke="#95c3c0"/>
<path d="M1243.7 1949.8A758.3 758.3 0 0 1 1225.8 1943.1" stroke="#95c3c0"/>
<path d="M1225.8 1943.1A758.3 758.3 0 0 1 1208 1935.9" stroke="#b3d5b7"/>
<path d="M1208 1935.9A758.3 758.3 0 0 1 1190.4 1928.3" stroke="#b3d5b7"/>
<path d="M1190.4 1928.3A758.3 758.3 0 0 1 1173 1920.2" stroke="#efefa8"/>
<path d="M1173 1920.2A758.3 758.3 0 0 1 1155.8 1911.7" stroke="#6aa3c6"/>
<path d="M1155.8 1911.7A758.3 758.3 0 0 1 1138.8 1902.7" stroke="#6aa3c6"/>
<path d="M1138.8 1902.7A758.3 758.3 0 0 1 1122.1 1893.3" stroke="#5294be"/>
<path d="M1122.1 1893.3A758.3 758.3 0 0 1 1105.5 1883.5" stroke="#498ab9"/>
<path d="M1105.5 1883.5A758.3 758.3 0 0 1 1089.3 1873.3" stroke="#498ab9"/>
<path d="M1089.3 1873.3A758.3 758.3 0 0 1 1073.3 1862.7" stroke="#498ab9"/>
<path d="M1073.3 1862.7A758.3 758.3 0 0 1 1057.6 1851.7" stroke="#4080b4"/>
<path d="M1057.6 1851.7A758.3 758.3 0 0 1 1042.2 1840.2" stroke="#4080b4"/>
<path d="M1042.2 1840.2A758.3 758.3 0 0 1 1027 1828.4" stroke="#4080b4"/>
<path d="M1027 1828.4A758.3 758.3 0 0 1 1012.2 1816.3" stroke="#4080b4"/>
<path d="M1012.2 1816.3A758.3 758.3 0 0 1 997.7 1803.7" stroke="#4080b4"/>
<path d="M997.7 1803.7A758.3 758.3 0 0 1 983.5 1790.8" stroke="#4080b4"/>
<path d="M983.5 1790.8A758.3 758.3 0 0 1 969.6 1777.5" stroke="#4080b4"/>
<path d="M969.6 1777.5A758.3 758.3 0 0 1 956.1 1763.9" stroke="#4080b4"/>
<path d="M956.1 1763.9A758.3 758.3 0 0 1 943 1749.9" stroke="#4080b4"/>
<path d="M943 1749.9A758.3 758.3 0 0 1 930.1 1735.6" stroke="#4080b4"/>
<path d="M930.1 1735.6A758.3 758.3 0 0 1 917.7 1721" stroke="#4080b4"/>
<path d="M917.7 1721A758.3 758.3 0 0 1 905.6 1706.1" stroke="#4080b4"/>
<path d="M905.6 1706.1A758.3 758.3 0 0 1 893.9 1690.9" stroke="#4080b4"/>
<path d="M893.9 1690.9A758.3 758.3 0 0 1 882.6 1675.4" stroke="#4080b4"/>
<path d="M882.6 1675.4A758.3 758.3 0 0 1 871.7 1659.6" stroke="#4080b4"/>
<path d="M871.7 1659.6A758.3 758.3 0 0 1 861.2 1643.5" stroke="#4080b4"/>
<path d="M861.2 1643.5A758.3 758.3 0 0 1 851.1 1627.2" stroke="#4080b4"/>
<path d="M851.1 1627.2A758.3 758.3 0 0 1 841.4 1610.6" stroke="#4080b4"/>
<path d="M841.4 1610.6A758.3 758.3 0 0 1 832.2 1593.8" stroke="#4080b4"/>
<path d="M832.2 1593.8A758.3 758.3 0 0 1 823.3 1576.8" stroke="#4080b4"/>
<path d="M823.3 1576.8A758.3 758.3 0 0 1 814.9 1559.5" stroke="#4080b4"/>
<path d="M814.9 1559.5A758.3 758.3 0 0 1 807 1542.1" stroke="#4080b4"/>
<path d="M807 1542.1A758.3 758.3 0 0 1 799.5 1524.4" stroke="#4080b4"/>
<path d="M799.5 1524.4A758.3 758.3 0 0 1 792.4 1506.6" stroke="#4080b4"/>
<path d="M792.4 1506.6A758.3 758.3 0 0 1 785.8 1488.5" stroke="#4080b4"/>
<path d="M785.8 1488.5A758.3 758.3 0 0 1 779.7 1470.4" stroke="#4080b4"/>
<path d="M779.7 1470.4A758.3 758.3 0 0 1 774 1452" stroke="#4080b4"/>
<path d="M774 1452A758.3 758.3 0 0 1 768.8 1433.6" stroke="#4080b4"/>
<path d="M768.8 1433.6A758.3 758.3 0 0 1 764 1415" stroke="#3a70ac"/>
<path d="M764 1415A758.3 758.3 0 0 1 759.7 1396.2" stroke="#4080b4"/>
<path d="M759.7 1396.2A758.3 758.3 0 0 1 755.9 1377.4" stroke="#4080b4"/>
<path d="M755.9 1377.4A758.3 758.3 0 0 1 752.6 1358.5" stroke="#498ab9"/>
<path d="M752.6 1358.5A758.3 758.3 0 0 1 749.7 1339.6" stroke="#498ab9"/>
<path d="M749.7 1339.6A758.3 758.3 0 0 1 747.4 1320.5" stroke="#5294be"/>
<path d="M747.4 1320.5A758.3 758.3 0 0 1 745.5 1301.4" stroke="#498ab9"/>
<path d="M745.5 1301.4A758.3 758.3 0 0 1 744.1 1282.3" stroke="#498ab9"/>
<path d="M744.1 1282.3A758.3 758.3 0 0 1 743.2 1263.1" stroke="#498ab9"/>
<path d="M743.2 1263.1A758.3 758.3 0 0 1 742.7 1243.9" stroke="#498ab9"/>
<path d="M742.7 1243.9A758.3 758.3 0 0 1 742.8 1224.7" stroke="#498ab9"/>
<path d="M742.8 1224.7A758.3 758.3 0 0 1 743.3 1205.5" stroke="#4080b4"/>
<path d="M743.3 1205.5A758.3 758.3 0 0 1 744.4 1186.4" stroke="#4080b4"/>
<path d="M744.4 1186.4A758.3 758.3 0 0 1 745.9 1167.2" stroke="#4080b4"/>
<path d="M745.9 1167.2A758.3 758.3 0 0 1 747.9 1148.1" stroke="#4080b4"/>
<path d="M747.9 1148.1A758.3 758.3 0 0 1 750.3 1129.1" stroke="#4080b4"/>
<path d="M750.3 1129.1A758.3 758.3 0 0 1 753.3 1110.2" stroke="#3a70ac"/>
<path d="M753.3 1110.2A758.3 758.3 0 0 1 756.7 1091.3" stroke="#4080b4"/>
<path d="M756.7 1091.3A758.3 758.3 0 0 1 760.7 1072.5" stroke="#498ab9"/>
<path d="M760.7 1072.5A758.3 758.3 0 0 1 765 1053.8" stroke="#498ab9"/>
<path d="M765 1053.8A758.3 758.3 0 0 1 769.9 1035.2" stroke="#4080b4"/>
<path d="M769.9 1035.2A758.3 758.3 0 0 1 775.2 1016.8" stroke="#4080b4"/>
<path d="M775.2 1016.8A758.3 758.3 0 0 1 781 998.5" stroke="#4080b4"/>
<path d="M781 998.5A758.3 758.3 0 0 1 787.3 980.4" stroke="#4080b4"/>
<path d="M787.3 980.4A758.3 758.3 0 0 1 794 962.4" stroke="#4080b4"/>
<path d="M794 962.4A758.3 758.3 0 0 1 801.1 944.6" stroke="#4080b4"/>
<path d="M801.1 944.6A758.3 758.3 0 0 1 808.8 926.9" stroke="#4080b4"/>
<path d="M808.8 926.9A758.3 758.3 0 0 1 816.8 909.5" stroke="#498ab9"/>
<path d="M816.8 909.5A758.3 758.3 0 0 1 825.3 892.3" stroke="#498ab9"/>
<path d="M825.3 892.3A758.3 758.3 0 0 1 834.2 875.3" stroke="#498ab9"/>
<path d="M834.2 875.3A758.3 758.3 0 0 1 843.6 858.6" stroke="#498ab9"/>
<path d="M843.6 858.6A758.3 758.3 0 0 1 853.4 842.1" stroke="#4080b4"/>
<path d="M853.4 842.1A758.3 758.3 0 0 1 863.6 825.8" stroke="#4080b4"/>
<path d="M863.6 825.8A758.3 758.3 0 0 1 874.2 809.8" stroke="#4080b4"/>
<path d="M874.2 809.8A758.3 758.3 0 0 1 885.2 794.1" stroke="#4080b4"/>
<path d="M885.2 794.1A758.3 758.3 0 0 1 896.5 778.6" stroke="#498ab9"/>
<path d="M896.5 778.6A758.3 758.3 0 0 1 908.3 763.5" stroke="#498ab9"/>
<path d="M908.3 763.5A758.3 758.3 0 0 1 920.5 748.6" stroke="#4080b4"/>
<path d="M920.5 748.6A758.3 758.3 0 0 1 933 734.1" stroke="#3a70ac"/>
<path d="M933 734.1A758.3 758.3 0 0 1 945.9 719.9" stroke="#3a70ac"/>
<path d="M945.9 719.9A758.3 758.3 0 0 1 959.2 706" stroke="#4080b4"/>
<path d="M959.2 706A758.3 758.3 0 0 1 972.8 692.4" stroke="#4080b4"/>
<path d="M972.8 692.4A758.3 758.3 0 0 1 986.7 679.3" stroke="#4080b4"/>
<path d="M986.7 679.3A758.3 758.3 0 0 1 1001 666.4" stroke="#4080b4"/>
<path d="M1001 666.4A758.3 758.3 0 0 1 1015.6 653.9" stroke="#4080b4"/>
<path d="M1015.6 653.9A758.3 758.3 0 0 1 1030.5 641.8" stroke="#4080b4"/>
<path d="M1030.5 641.8A758.3 758.3 0 0 1 1045.7 630.1" stroke="#4080b4"/>
<path d="M1045.7 630.1A758.3 758.3 0 0 1 1061.2 618.8" stroke="#4080b4"/>
<path d="M1061.2 618.8A758.3 758.3 0 0 1 1076.9 607.9" stroke="#4080b4"/>
<path d="M1076.9 607.9A758.3 758.3 0 0 1 1093 597.3" stroke="#4080b4"/>
<path d="M1093 597.3A758.3 758.3 0 0 1 1109.3 587.2" stroke="#498ab9"/>
<path d="M1109.3 587.2A758.3 758.3 0 0 1 1125.8 577.5" stroke="#498ab9"/>
<path d="M1125.8 577.5A758.3 758.3 0 0 1 1142.6 568.2" stroke="#498ab9"/>
<path d="M1142.6 568.2A758.3 758.3 0 0 1 1159.7 559.4" stroke="#498ab9"/>
<path d="M1159.7 559.4A758.3 758.3 0 0 1 1176.9 550.9" stroke="#4080b4"/>
<path d="M1176.9 550.9A758.3 758.3 0 0 1 1194.4 543" stroke="#4080b4"/>
<path d="M1194.4 543A758.3 758.3 0 0 1 1212 535.4" stroke="#4080b4"/>
<path d="M1212 535.4A758.3 758.3 0 0 1 1229.9 528.3" stroke="#4080b4"/>
<path d="M1229.9 528.3A758.3 758.3 0 0 1 1247.9 521.7" stroke="#4080b4"/>
<path d="M1247.9 521.7A758.3 758.3 0 0 1 1266 515.5" stroke="#498ab9"/>
<path d="M1266 515.5A758.3 758.3 0 0 1 1284.4 509.8" stroke="#4080b4"/>
<path d="M1284.4 509.8A758.3 758.3 0 0 1 1302.8 504.6" stroke="#498ab9"/>
<path d="M1302.8 504.6A758.3 758.3 0 0 1 1321.4 499.8" stroke="#5294be"/>
<path d="M1321.4 499.8A758.3 758.3 0 0 1 1340.1 495.5" stroke="#5294be"/>
<path d="M1340.1 495.5A758.3 758.3 0 0 1 1358.9 491.6" stroke="#5294be"/>
<path d="M1847.4 640.3A689.5 689.5 0 0 1 1862.4 649.3" stroke="#5294be"/>
<path d="M1862.4 649.3A689.5 689.5 0 0 1 1877.1 658.6" stroke="#5294be"/>
<path d="M1877.1 658.6A689.5 689.5 0 0 1 1891.6 668.3" stroke="#5294be"/>
<path d="M1891.6 668.3A689.5 689.5 0 0 1 1905.9 678.4" stroke="#6aa3c6"/>
<path d="M1905.9 678.4A689.5 689.5 0 0 1 1919.9 688.8" stroke="#6aa3c6"/>
<path d="M1919.9 688.8A689.5 689.5 0 0 1 1933.6 699.6" stroke="#6aa3c6"/>
<path d="M1933.6 699.6A689.5 689.5 0 0 1 1947.1 710.7" stroke="#6aa3c6"/>
<path d="M1947.1 710.7A689.5 689.5 0 0 1 1960.2 722.2" stroke="#6aa3c6"/>
<path d="M1960.2 722.2A689.5 689.5 0 0 1 1973.1 734" stroke="#6aa3c6"/>
<path d="M1973.1 734A689.5 689.5 0 0 1 1985.7 746.1" stroke="#6aa3c6"/>
<path d="M1985.7 746.1A689.5 689.5 0 0 1 1997.9 758.5" stroke="#80b4c6"/>
<path d="M1997.9 758.5A689.5 689.5 0 0 1 2009.9 771.2" stroke="#80b4c6"/>
<path d="M2009.9 771.2A689.5 689.5 0 0 1 2021.5 784.3" stroke="#80b4c6"/>
<path d="M2021.5 784.3A689.5 689.5 0 0 1 2032.7 797.6" stroke="#80b4c6"/>
<path d="M2032.7 797.6A689.5 689.5 0 0 1 2043.7 811.2" stroke="#80b4c6"/>
<path d="M2043.7 811.2A689.5 689.5 0 0 1 2054.3 825" stroke="#6aa3c6"/>
<path d="M2054.3 825A689.5 689.5 0 0 1 2064.5 839.2" stroke="#5294be"/>
<path d="M2064.5 839.2A689.5 689.5 0 0 1 2074.4 853.6" stroke="#5294be"/>
<path d="M2074.4 853.6A689.5 689.5 0 0 1 2083.9 868.2" stroke="#5294be"/>
<path d="M2083.9 868.2A689.5 689.5 0 0 1 2093 883.1" stroke="#498ab9"/>
<path d="M2093 883.1A689.5 689.5 0 0 1 2101.8 898.2" stroke="#4080b4"/>
<path d="M2101.8 898.2A689.5 689.5 0 0 1 2110.2 913.5" stroke="#5294be"/>
<path d="M2110.2 913.5A689.5 689.5 0 0 1 2118.1 929" stroke="#498ab9"/>
<path d="M2118.1 929A689.5 689.5 0 0 1 2125.7 944.7" stroke="#5294be"/>
<path d="M2125.7 944.7A689.5 689.5 0 0 1 2132.9 960.6" stroke="#498ab9"/>
<path d="M2132.9 960.6A689.5 689.5 0 0 1 2139.7 976.7" stroke="#498ab9"/>
<path d="M2139.7 976.7A689.5 689.5 0 0 1 2146.1 992.9" stroke="#498ab9"/>
<path d="M2146.1 992.9A689.5 689.5 0 0 1 2152 1009.3" stroke="#498ab9"/>
<path d="M2152 1009.3A689.5 689.5 0 0 1 2157.5 1025.9" stroke="#498ab9"/>
<path d="M2157.5 1025.9A689.5 689.5 0 0 1 2162.7 1042.6" stroke="#4080b4"/>
<path d="M2162.7 1042.6A689.5 689.5 0 0 1 2167.4 1059.4" stroke="#498ab9"/>
<path d="M2167.4 1059.4A689.5 689.5 0 0 1 2171.6 1076.3" stroke="#498ab9"/>
<path d="M2171.6 1076.3A689.5 689.5 0 0 1 2175.5 1093.3" stroke="#6aa3c6"/>
<path d="M2175.5 1093.3A689.5 689.5 0 0 1 2178.9 1110.4" stroke="#6aa3c6"/>
<path d="M2178.9 1110.4A689.5 689.5 0 0 1 2181.9 1127.6" stroke="#6aa3c6"/>
<path d="M2181.9 1127.6A689.5 689.5 0 0 1 2184.4 1144.9" stroke="#6aa3c6"/>
<path d="M2184.4 1144.9A689.5 689.5 0 0 1 2186.5 1162.2" stroke="#6aa3c6"/>
<path d="M2186.5 1162.2A689.5 689.5 0 0 1 2188.1 1179.6" stroke="#6aa3c6"/>
<path d="M2188.1 1179.6A689.5 689.5 0 0 1 2189.4 1197" stroke="#6aa3c6"/>
<path d="M2189.4 1197A689.5 689.5 0 0 1 2190.1 1214.4" stroke="#6aa3c6"/>
<path d="M2190.1 1214.4A689.5 689.5 0 0 1 2190.5 1231.9" stroke="#5294be"/>
<path d="M2190.5 1231.9A689.5 689.5 0 0 1 2190.4 1249.3" stroke="#5294be"/>
<path d="M2190.4 1249.3A689.5 689.5 0 0 1 2189.8 1266.8" stroke="#6aa3c6"/>
<path d="M2189.8 1266.8A689.5 689.5 0 0 1 2188.8 1284.2" stroke="#6aa3c6"/>
<path d="M2188.8 1284.2A689.5 689.5 0 0 1 2187.4 1301.6" stroke="#6aa3c6"/>
<path d="M2187.4 1301.6A689.5 689.5 0 0 1 2185.6 1319" stroke="#6aa3c6"/>
<path d="M2185.6 1319A689.5 689.5 0 0 1 2183.2 1336.3" stroke="#6aa3c6"/>
<path d="M2183.2 1336.3A689.5 689.5 0 0 1 2180.5 1353.5" stroke="#80b4c6"/>
<path d="M2180.5 1353.5A689.5 689.5 0 0 1 2177.3 1370.6" stroke="#80b4c6"/>
<path d="M2177.3 1370.6A689.5 689.5 0 0 1 2173.7 1387.7" stroke="#80b4c6"/>
<path d="M2173.7 1387.7A689.5 689.5 0 0 1 2169.7 1404.7" stroke="#6aa3c6"/>
<path d="M2169.7 1404.7A689.5 689.5 0 0 1 2165.2 1421.6" stroke="#6aa3c6"/>
<path d="M2165.2 1421.6A689.5 689.5 0 0 1 2160.3 1438.3" stroke="#80b4c6"/>
<path d="M2160.3 1438.3A689.5 689.5 0 0 1 2155 1454.9" stroke="#6aa3c6"/>
<path d="M2155 1454.9A689.5 689.5 0 0 1 2149.2 1471.4" stroke="#80b4c6"/>
<path d="M2149.2 1471.4A689.5 689.5 0 0 1 2143.1 1487.7" stroke="#80b4c6"/>
<path d="M2143.1 1487.7A689.5 689.5 0 0 1 2136.5 1503.9" stroke="#80b4c6"/>
<path d="M2136.5 1503.9A689.5 689.5 0 0 1 2129.6 1519.9" stroke="#80b4c6"/>
<path d="M2129.6 1519.9A689.5 689.5 0 0 1 2122.2 1535.7" stroke="#80b4c6"/>
<path d="M2122.2 1535.7A689.5 689.5 0 0 1 2114.4 1551.4" stroke="#6aa3c6"/>
<path d="M2114.4 1551.4A689.5 689.5 0 0 1 2106.2 1566.8" stroke="#6aa3c6"/>
<path d="M2106.2 1566.8A689.5 689.5 0 0 1 2097.7 1582" stroke="#6aa3c6"/>
<path d="M2097.7 1582A689.5 689.5 0 0 1 2088.8 1597" stroke="#6aa3c6"/>
<path d="M2088.8 1597A689.5 689.5 0 0 1 2079.4 1611.7" stroke="#6aa3c6"/>
<path d="M2079.4 1611.7A689.5 689.5 0 0 1 2069.8 1626.3" stroke="#6aa3c6"/>
<path d="M2069.8 1626.3A689.5 689.5 0 0 1 2059.7 1640.5" stroke="#6aa3c6"/>
<path d="M2059.7 1640.5A689.5 689.5 0 0 1 2049.3 1654.5" stroke="#6aa3c6"/>
<path d="M2049.3 1654.5A689.5 689.5 0 0 1 2038.6 1668.3" stroke="#80b4c6"/>
<path d="M2038.6 1668.3A689.5 689.5 0 0 1 2027.5 1681.8" stroke="#80b4c6"/>
<path d="M2027.5 1681.8A689.5 689.5 0 0 1 2016 1694.9" stroke="#80b4c6"/>
<path d="M2016 1694.9A689.5 689.5 0 0 1 2004.3 1707.8" stroke="#80b4c6"/>
<path d="M2004.3 1707.8A689.5 689.5 0 0 1 1992.2 1720.4" stroke="#80b4c6"/>
<path d="M1992.2 1720.4A689.5 689.5 0 0 1 1979.8 1732.7" stroke="#80b4c6"/>
<path d="M1979.8 1732.7A689.5 689.5 0 0 1 1967.1 1744.6" stroke="#80b4c6"/>
<path d="M1967.1 1744.6A689.5 689.5 0 0 1 1954 1756.3" stroke="#80b4c6"/>
<path d="M1954 1756.3A689.5 689.5 0 0 1 1940.7 1767.6" stroke="#80b4c6"/>
<path d="M1940.7 1767.6A689.5 689.5 0 0 1 1927.2 1778.5" stroke="#80b4c6"/>
<path d="M1927.2 1778.5A689.5 689.5 0 0 1 1913.3 1789.1" stroke="#80b4c6"/>
<path d="M1913.3 1789.1A689.5 689.5 0 0 1 1899.2 1799.4" stroke="#80b4c6"/>
<path d="M1899.2 1799.4A689.5 689.5 0 0 1 1884.8 1809.3" stroke="#80b4c6"/>
<path d="M1884.8 1809.3A689.5 689.5 0 0 1 1870.2 1818.8" stroke="#6aa3c6"/>
<path d="M1870.2 1818.8A689.5 689.5 0 0 1 1855.3 1828" stroke="#6aa3c6"/>
<path d="M1855.3 1828A689.5 689.5 0 0 1 1840.3 1836.8" stroke="#6aa3c6"/>
<path d="M1840.3 1836.8A689.5 689.5 0 0 1 1825 1845.2" stroke="#6aa3c6"/>
<path d="M1825 1845.2A689.5 689.5 0 0 1 1809.5 1853.2" stroke="#6aa3c6"/>
<path d="M1809.5 1853.2A689.5 689.5 0 0 1 1793.8 1860.8" stroke="#6aa3c6"/>
<path d="M1793.8 1860.8A689.5 689.5 0 0 1 1777.9 1868" stroke="#6aa3c6"/>
<path d="M1777.9 1868A689.5 689.5 0 0 1 1761.8 1874.8" stroke="#6aa3c6"/>
<path d="M1761.8 1874.8A689.5 689.5 0 0 1 1745.6 1881.2" stroke="#6aa3c6"/>
<path d="M1745.6 1881.2A689.5 689.5 0 0 1 1729.2 1887.2" stroke="#80b4c6"/>
<path d="M1729.2 1887.2A689.5 689.5 0 0 1 1712.6 1892.7" stroke="#6aa3c6"/>
<path d="M1712.6 1892.7A689.5 689.5 0 0 1 1695.9 1897.9" stroke="#80b4c6"/>
<path d="M1695.9 1897.9A689.5 689.5 0 0 1 1679.1 1902.6" stroke="#80b4c6"/>
<path d="M1679.1 1902.6A689.5 689.5 0 0 1 1662.2 1906.9" stroke="#80b4c6"/>
<path d="M1662.2 1906.9A689.5 689.5 0 0 1 1645.2 1910.8" stroke="#6aa3c6"/>
<path d="M1645.2 1910.8A689.5 689.5 0 0 1 1628.1 1914.2" stroke="#80b4c6"/>
<path d="M1628.1 1914.2A689.5 689.5 0 0 1 1610.9 1917.2" stroke="#80b4c6"/>
<path d="M1610.9 1917.2A689.5 689.5 0 0 1 1593.6 1919.7" stroke="#80b4c6"/>
<path d="M1593.6 1919.7A689.5 689.5 0 0 1 1576.3 1921.9" stroke="#80b4c6"/>
<path d="M1576.3 1921.9A689.5 689.5 0 0 1 1559 1923.6" stroke="#5294be"/>
<path d="M1559 1923.6A689.5 689.5 0 0 1 1541.6 1924.8" stroke="#5294be"/>
<path d="M1541.6 1924.8A689.5 689.5 0 0 1 1524.1 1925.6" stroke="#5294be"/>
<path d="M1524.1 1925.6A689.5 689.5 0 0 1 1506.7 1926" stroke="#5294be"/>
<path d="M1506.7 1926A689.5 689.5 0 0 1 1489.2 1925.9" stroke="#5294be"/>
<path d="M1489.2 1925.9A689.5 689.5 0 0 1 1471.8 1925.4" stroke="#6aa3c6"/>
<path d="M1471.8 1925.4A689.5 689.5 0 0 1 1454.4 1924.4" stroke="#6aa3c6"/>
<path d="M1454.4 1924.4A689.5 689.5 0 0 1 1437 1923" stroke="#6aa3c6"/>
<path d="M1437 1923A689.5 689.5 0 0 1 1419.6 1921.2" stroke="#6aa3c6"/>
<path d="M1419.6 1921.2A689.5 689.5 0 0 1 1402.3 1918.9" stroke="#6aa3c6"/>
<path d="M1402.3 1918.9A689.5 689.5 0 0 1 1385.1 1916.2" stroke="#6aa3c6"/>
<path d="M1385.1 1916.2A689.5 689.5 0 0 1 1367.9 1913" stroke="#6aa3c6"/>
<path d="M1367.9 1913A689.5 689.5 0 0 1 1350.8 1909.4" stroke="#6aa3c6"/>
<path d="M1350.8 1909.4A689.5 689.5 0 0 1 1333.8 1905.4" stroke="#6aa3c6"/>
<path d="M1333.8 1905.4A689.5 689.5 0 0 1 1317 1901" stroke="#6aa3c6"/>
<path d="M1317 1901A689.5 689.5 0 0 1 1300.2 1896.1" stroke="#6aa3c6"/>
<path d="M1300.2 1896.1A689.5 689.5 0 0 1 1283.6 1890.8" stroke="#6aa3c6"/>
<path d="M1283.6 1890.8A689.5 689.5 0 0 1 1267.1 1885.1" stroke="#80b4c6"/>
<path d="M1267.1 1885.1A689.5 689.5 0 0 1 1250.7 1879" stroke="#80b4c6"/>
<path d="M1250.7 1879A689.5 689.5 0 0 1 1234.6 1872.4" stroke="#6aa3c6"/>
<path d="M1234.6 1872.4A689.5 689.5 0 0 1 1218.6 1865.5" stroke="#6aa3c6"/>
<path d="M1218.6 1865.5A689.5 689.5 0 0 1 1202.7 1858.1" stroke="#6aa3c6"/>
<path d="M1202.7 1858.1A689.5 689.5 0 0 1 1187.1 1850.4" stroke="#d5e6b0"/>
<path d="M1187.1 1850.4A689.5 689.5 0 0 1 1171.7 1842.3" stroke="#b3d5b7"/>
<path d="M1171.7 1842.3A689.5 689.5 0 0 1 1156.4 1833.7" stroke="#b3d5b7"/>
<path d="M1156.4 1833.7A689.5 689.5 0 0 1 1141.4 1824.8" stroke="#b3d5b7"/>
<path d="M1141.4 1824.8A689.5 689.5 0 0 1 1126.7 1815.5" stroke="#b3d5b7"/>
<path d="M1126.7 1815.5A689.5 689.5 0 0 1 1112.1 1805.9" stroke="#b3d5b7"/>
<path d="M1112.1 1805.9A689.5 689.5 0 0 1 1097.8 1795.8" stroke="#95c3c0"/>
<path d="M1097.8 1795.8A689.5 689.5 0 0 1 1083.8 1785.5" stroke="#95c3c0"/>
<path d="M1083.8 1785.5A689.5 689.5 0 0 1 1070 1774.7" stroke="#95c3c0"/>
<path d="M1070 1774.7A689.5 689.5 0 0 1 1056.6 1763.7" stroke="#95c3c0"/>
<path d="M1056.6 1763.7A689.5 689.5 0 0 1 1043.4 1752.2" stroke="#95c3c0"/>
<path d="M1043.4 1752.2A689.5 689.5 0 0 1 1030.5 1740.5" stroke="#95c3c0"/>
<path d="M1030.5 1740.5A689.5 689.5 0 0 1 1017.9 1728.4" stroke="#95c3c0"/>
<path d="M1017.9 1728.4A689.5 689.5 0 0 1 1005.6 1716" stroke="#95c3c0"/>
<path d="M1005.6 1716A689.5 689.5 0 0 1 993.6 1703.3" stroke="#95c3c0"/>
<path d="M993.6 1703.3A689.5 689.5 0 0 1 981.9 1690.4" stroke="#95c3c0"/>
<path d="M981.9 1690.4A689.5 689.5 0 0 1 970.6 1677.1" stroke="#95c3c0"/>
<path d="M970.6 1677.1A689.5 689.5 0 0 1 959.6 1663.5" stroke="#95c3c0"/>
<path d="M959.6 1663.5A689.5 689.5 0 0 1 949 1649.7" stroke="#95c3c0"/>
<path d="M949 1649.7A689.5 689.5 0 0 1 938.7 1635.6" stroke="#d5e6b0"/>
<path d="M938.7 1635.6A689.5 689.5 0 0 1 928.8 1621.2" stroke="#d5e6b0"/>
<path d="M928.8 1621.2A689.5 689.5 0 0 1 919.2 1606.6" stroke="#d5e6b0"/>
<path d="M919.2 1606.6A689.5 689.5 0 0 1 910.1 1591.8" stroke="#b3d5b7"/>
<path d="M910.1 1591.8A689.5 689.5 0 0 1 901.3 1576.7" stroke="#b3d5b7"/>
<path d="M901.3 1576.7A689.5 689.5 0 0 1 892.8 1561.4" stroke="#95c3c0"/>
<path d="M892.8 1561.4A689.5 689.5 0 0 1 884.8 1545.9" stroke="#95c3c0"/>
<path d="M884.8 1545.9A689.5 689.5 0 0 1 877.2 1530.2" stroke="#95c3c0"/>
<path d="M877.2 1530.2A689.5 689.5 0 0 1 870 1514.3" stroke="#95c3c0"/>
<path d="M870 1514.3A689.5 689.5 0 0 1 863.1 1498.3" stroke="#95c3c0"/>
<path d="M863.1 1498.3A689.5 689.5 0 0 1 856.7 1482" stroke="#95c3c0"/>
<path d="M856.7 1482A689.5 689.5 0 0 1 850.7 1465.7" stroke="#95c3c0"/>
<path d="M850.7 1465.7A689.5 689.5 0 0 1 845.1 1449.1" stroke="#95c3c0"/>
<path d="M845.1 1449.1A689.5 689.5 0 0 1 839.9 1432.5" stroke="#95c3c0"/>
<path d="M839.9 1432.5A689.5 689.5 0 0 1 835.2 1415.7" stroke="#b3d5b7"/>
<path d="M835.2 1415.7A689.5 689.5 0 0 1 830.9 1398.8" stroke="#95c3c0"/>
<path d="M830.9 1398.8A689.5 689.5 0 0 1 827 1381.8" stroke="#95c3c0"/>
<path d="M827 1381.8A689.5 689.5 0 0 1 823.5 1364.7" stroke="#95c3c0"/>
<path d="M823.5 1364.7A689.5 689.5 0 0 1 820.5 1347.5" stroke="#95c3c0"/>
<path d="M820.5 1347.5A689.5 689.5 0 0 1 817.9 1330.2" stroke="#80b4c6"/>
<path d="M817.9 1330.2A689.5 689.5 0 0 1 815.7 1312.9" stroke="#6aa3c6"/>
<path d="M815.7 1312.9A689.5 689.5 0 0 1 814 1295.5" stroke="#80b4c6"/>
<path d="M814 1295.5A689.5 689.5 0 0 1 812.8 1278.1" stroke="#95c3c0"/>
<path d="M812.8 1278.1A689.5 689.5 0 0 1 811.9 1260.7" stroke="#80b4c6"/>
<path d="M811.9 1260.7A689.5 689.5 0 0 1 811.5 1243.2" stroke="#80b4c6"/>
<path d="M811.5 1243.2A689.5 689.5 0 0 1 811.6 1225.8" stroke="#95c3c0"/>
<path d="M811.6 1225.8A689.5 689.5 0 0 1 812.1 1208.3" stroke="#95c3c0"/>
<path d="M812.1 1208.3A689.5 689.5 0 0 1 813 1190.9" stroke="#95c3c0"/>
<path d="M813 1190.9A689.5 689.5 0 0 1 814.4 1173.5" stroke="#95c3c0"/>
<path d="M814.4 1173.5A689.5 689.5 0 0 1 816.2 1156.2" stroke="#95c3c0"/>
<path d="M816.2 1156.2A689.5 689.5 0 0 1 818.4 1138.9" stroke="#95c3c0"/>
<path d="M818.4 1138.9A689.5 689.5 0 0 1 821.1 1121.6" stroke="#95c3c0"/>
<path d="M821.1 1121.6A689.5 689.5 0 0 1 824.3 1104.4" stroke="#efefa8"/>
<path d="M824.3 1104.4A689.5 689.5 0 0 1 827.8 1087.4" stroke="#b3d5b7"/>
<path d="M827.8 1087.4A689.5 689.5 0 0 1 831.8 1070.4" stroke="#95c3c0"/>
<path d="M831.8 1070.4A689.5 689.5 0 0 1 836.2 1053.5" stroke="#b3d5b7"/>
<path d="M836.2 1053.5A689.5 689.5 0 0 1 841.1 1036.7" stroke="#b3d5b7"/>
<path d="M841.1 1036.7A689.5 689.5 0 0 1 846.3 1020.1" stroke="#b3d5b7"/>
<path d="M846.3 1020.1A689.5 689.5 0 0 1 852 1003.6" stroke="#b3d5b7"/>
<path d="M852 1003.6A689.5 689.5 0 0 1 858.1 987.2" stroke="#95c3c0"/>
<path d="M858.1 987.2A689.5 689.5 0 0 1 864.6 971.1" stroke="#95c3c0"/>
<path d="M864.6 971.1A689.5 689.5 0 0 1 871.6 955" stroke="#b3d5b7"/>
<path d="M871.6 955A689.5 689.5 0 0 1 878.9 939.2" stroke="#b3d5b7"/>
<path d="M878.9 939.2A689.5 689.5 0 0 1 886.6 923.5" stroke="#b3d5b7"/>
<path d="M886.6 923.5A689.5 689.5 0 0 1 894.7 908.1" stroke="#b3d5b7"/>
<path d="M894.7 908.1A689.5 689.5 0 0 1 903.2 892.9" stroke="#b3d5b7"/>
<path d="M903.2 892.9A689.5 689.5 0 0 1 912.1 877.8" stroke="#b3d5b7"/>
<path d="M912.1 877.8A689.5 689.5 0 0 1 921.4 863.1" stroke="#b3d5b7"/>
<path d="M921.4 863.1A689.5 689.5 0 0 1 931 848.5" stroke="#b3d5b7"/>
<path d="M931 848.5A689.5 689.5 0 0 1 941 834.2" stroke="#b3d5b7"/>
<path d="M941 834.2A689.5 689.5 0 0 1 951.4 820.2" stroke="#95c3c0"/>
<path d="M951.4 820.2A689.5 689.5 0 0 1 962.1 806.4" stroke="#95c3c0"/>
<path d="M962.1 806.4A689.5 689.5 0 0 1 973.2 792.9" stroke="#95c3c0"/>
<path d="M973.2 792.9A689.5 689.5 0 0 1 984.6 779.7" stroke="#95c3c0"/>
<path d="M984.6 779.7A689.5 689.5 0 0 1 996.3 766.7" stroke="#95c3c0"/>
<path d="M996.3 766.7A689.5 689.5 0 0 1 1008.3 754.1" stroke="#95c3c0"/>
<path d="M1008.3 754.1A689.5 689.5 0 0 1 1020.7 741.8" stroke="#95c3c0"/>
<path d="M1020.7 741.8A689.5 689.5 0 0 1 1033.4 729.8" stroke="#95c3c0"/>
<path d="M1033.4 729.8A689.5 689.5 0 0 1 1046.3 718.1" stroke="#95c3c0"/>
<path d="M1046.3 718.1A689.5 689.5 0 0 1 1059.6 706.8" stroke="#95c3c0"/>
<path d="M1059.6 706.8A689.5 689.5 0 0 1 1073.2 695.8" stroke="#95c3c0"/>
<path d="M1073.2 695.8A689.5 689.5 0 0 1 1087 685.1" stroke="#95c3c0"/>
<path d="M1087 685.1A689.5 689.5 0 0 1 1101.1 674.8" stroke="#b3d5b7"/>
<path d="M1101.1 674.8A689.5 689.5 0 0 1 1115.4 664.9" stroke="#95c3c0"/>
<path d="M1115.4 664.9A689.5 689.5 0 0 1 1130 655.3" stroke="#95c3c0"/>
<path d="M1130 655.3A689.5 689.5 0 0 1 1144.8 646.1" stroke="#80b4c6"/>
<path d="M1144.8 646.1A689.5 689.5 0 0 1 1159.9 637.3" stroke="#80b4c6"/>
<path d="M1159.9 637.3A689.5 689.5 0 0 1 1175.2 628.9" stroke="#80b4c6"/>
<path d="M1175.2 628.9A689.5 689.5 0 0 1 1190.6 620.8" stroke="#80b4c6"/>
<path d="M1190.6 620.8A689.5 689.5 0 0 1 1206.3 613.1" stroke="#80b4c6"/>
<path d="M1206.3 613.1A689.5 689.5 0 0 1 1222.2 605.9" stroke="#80b4c6"/>
<path d="M1222.2 605.9A689.5 689.5 0 0 1 1238.2 599" stroke="#95c3c0"/>
<path d="M1238.2 599A689.5 689.5 0 0 1 1254.5 592.6" stroke="#95c3c0"/>
<path d="M1254.5 592.6A689.5 689.5 0 0 1 1270.8 586.6" stroke="#b3d5b7"/>
<path d="M1270.8 586.6A689.5 689.5 0 0 1 1287.4 580.9" stroke="#b3d5b7"/>
<path d="M1287.4 580.9A689.5 689.5 0 0 1 1304 575.7" stroke="#95c3c0"/>
<path d="M1304 575.7A689.5 689.5 0 0 1 1320.8 571" stroke="#95c3c0"/>
<path d="M1320.8 571A689.5 689.5 0 0 1 1337.7 566.6" stroke="#95c3c0"/>
<path d="M1337.7 566.6A689.5 689.5 0 0 1 1354.7 562.7" stroke="#95c3c0"/>
<path d="M1354.7 562.7A689.5 689.5 0 0 1 1371.8 559.2" stroke="#95c3c0"/>
<path d="M1812.8 699.8A620.7 620.7 0 0 1 1826.3 707.9" stroke="#5294be"/>
<path d="M1826.3 707.9A620.7 620.7 0 0 1 1839.6 716.3" stroke="#5294be"/>
<path d="M1839.6 716.3A620.7 620.7 0 0 1 1852.7 725" stroke="#6aa3c6"/>
<path d="M1852.7 725A620.7 620.7 0 0 1 1865.5 734.1" stroke="#5294be"/>
<path d="M1865.5 734.1A620.7 620.7 0 0 1 1878.1 743.5" stroke="#5294be"/>
<path d="M1878.1 743.5A620.7 620.7 0 0 1 1890.4 753.2" stroke="#5294be"/>
<path d="M1890.4 753.2A620.7 620.7 0 0 1 1902.6 763.2" stroke="#6aa3c6"/>
<path d="M1902.6 763.2A620.7 620.7 0 0 1 1914.4 773.5" stroke="#6aa3c6"/>
<path d="M1914.4 773.5A620.7 620.7 0 0 1 1926 784.1" stroke="#6aa3c6"/>
<path d="M1926 784.1A620.7 620.7 0 0 1 1937.3 795" stroke="#6aa3c6"/>
<path d="M1937.3 795A620.7 620.7 0 0 1 1948.3 806.2" stroke="#6aa3c6"/>
<path d="M1948.3 806.2A620.7 620.7 0 0 1 1959.1 817.7" stroke="#6aa3c6"/>
<path d="M1959.1 817.7A620.7 620.7 0 0 1 1969.5 829.4" stroke="#6aa3c6"/>
<path d="M1969.5 829.4A620.7 620.7 0 0 1 1979.7 841.4" stroke="#6aa3c6"/>
<path d="M1979.7 841.4A620.7 620.7 0 0 1 1989.5 853.6" stroke="#5294be"/>
<path d="M1989.5 853.6A620.7 620.7 0 0 1 1999.1 866.1" stroke="#5294be"/>
<path d="M1999.1 866.1A620.7 620.7 0 0 1 2008.3 878.8" stroke="#5294be"/>
<path d="M2008.3 878.8A620.7 620.7 0 0 1 2017.2 891.8" stroke="#5294be"/>
<path d="M2017.2 891.8A620.7 620.7 0 0 1 2025.7 905" stroke="#4080b4"/>
<path d="M2025.7 905A620.7 620.7 0 0 1 2034 918.3" stroke="#5294be"/>
<path d="M2034 918.3A620.7 620.7 0 0 1 2041.8 931.9" stroke="#4080b4"/>
<path d="M2041.8 931.9A620.7 620.7 0 0 1 2049.4 945.7" stroke="#5294be"/>
<path d="M2049.4 945.7A620.7 620.7 0 0 1 2056.6 959.7" stroke="#5294be"/>
<path d="M2056.6 959.7A620.7 620.7 0 0 1 2063.4 973.8" stroke="#5294be"/>
<path d="M2063.4 973.8A620.7 620.7 0 0 1 2069.8 988.1" stroke="#4080b4"/>
<path d="M2069.8 988.1A620.7 620.7 0 0 1 2076 1002.6" stroke="#498ab9"/>
<path d="M2076 1002.6A620.7 620.7 0 0 1 2081.7 1017.2" stroke="#5294be"/>
<path d="M2081.7 1017.2A620.7 620.7 0 0 1 2087 1032" stroke="#498ab9"/>
<path d="M2087 1032A620.7 620.7 0 0 1 2092 1046.9" stroke="#498ab9"/>
<path d="M2092 1046.9A620.7 620.7 0 0 1 2096.6 1061.9" stroke="#498ab9"/>
<path d="M2096.6 1061.9A620.7 620.7 0 0 1 2100.9 1077.1" stroke="#498ab9"/>
<path d="M2100.9 1077.1A620.7 620.7 0 0 1 2104.7 1092.3" stroke="#498ab9"/>
<path d="M2104.7 1092.3A620.7 620.7 0 0 1 2108.2 1107.6" stroke="#5294be"/>
<path d="M2108.2 1107.6A620.7 620.7 0 0 1 2111.2 1123" stroke="#5294be"/>
<path d="M2111.2 1123A620.7 620.7 0 0 1 2113.9 1138.5" stroke="#498ab9"/>
<path d="M2113.9 1138.5A620.7 620.7 0 0 1 2116.2 1154" stroke="#5294be"/>
<path d="M2116.2 1154A620.7 620.7 0 0 1 2118.1 1169.6" stroke="#5294be"/>
<path d="M2118.1 1169.6A620.7 620.7 0 0 1 2119.6 1185.3" stroke="#5294be"/>
<path d="M2119.6 1185.3A620.7 620.7 0 0 1 2120.7 1201" stroke="#5294be"/>
<path d="M2120.7 1201A620.7 620.7 0 0 1 2121.4 1216.6" stroke="#5294be"/>
<path d="M2121.4 1216.6A620.7 620.7 0 0 1 2121.7 1232.4" stroke="#498ab9"/>
<path d="M2121.7 1232.4A620.7 620.7 0 0 1 2121.6 1248.1" stroke="#5294be"/>
<path d="M2121.6 1248.1A620.7 620.7 0 0 1 2121.1 1263.8" stroke="#498ab9"/>
<path d="M2121.1 1263.8A620.7 620.7 0 0 1 2120.2 1279.5" stroke="#5294be"/>
<path d="M2120.2 1279.5A620.7 620.7 0 0 1 2118.9 1295.1" stroke="#6aa3c6"/>
<path d="M2118.9 1295.1A620.7 620.7 0 0 1 2117.2 1310.7" stroke="#5294be"/>
<path d="M2117.2 1310.7A620.7 620.7 0 0 1 2115.2 1326.3" stroke="#80b4c6"/>
<path d="M2115.2 1326.3A620.7 620.7 0 0 1 2112.7 1341.8" stroke="#80b4c6"/>
<path d="M2112.7 1341.8A620.7 620.7 0 0 1 2109.8 1357.3" stroke="#80b4c6"/>
<path d="M2109.8 1357.3A620.7 620.7 0 0 1 2106.6 1372.6" stroke="#80b4c6"/>
<path d="M2106.6 1372.6A620.7 620.7 0 0 1 2102.9 1387.9" stroke="#6aa3c6"/>
<path d="M2102.9 1387.9A620.7 620.7 0 0 1 2098.9 1403.1" stroke="#6aa3c6"/>
<path d="M2098.9 1403.1A620.7 620.7 0 0 1 2094.5 1418.2" stroke="#80b4c6"/>
<path d="M2094.5 1418.2A620.7 620.7 0 0 1 2089.7 1433.1" stroke="#80b4c6"/>
<path d="M2089.7 1433.1A620.7 620.7 0 0 1 2084.6 1448" stroke="#80b4c6"/>
<path d="M2084.6 1448A620.7 620.7 0 0 1 2079 1462.7" stroke="#80b4c6"/>
<path d="M2079 1462.7A620.7 620.7 0 0 1 2073.1 1477.2" stroke="#6aa3c6"/>
<path d="M2073.1 1477.2A620.7 620.7 0 0 1 2066.8 1491.6" stroke="#6aa3c6"/>
<path d="M2066.8 1491.6A620.7 620.7 0 0 1 2060.2 1505.9" stroke="#6aa3c6"/>
<path d="M2060.2 1505.9A620.7 620.7 0 0 1 2053.2 1519.9" stroke="#6aa3c6"/>
<path d="M2053.2 1519.9A620.7 620.7 0 0 1 2045.9 1533.8" stroke="#5294be"/>
<path d="M2045.9 1533.8A620.7 620.7 0 0 1 2038.2 1547.5" stroke="#5294be"/>
<path d="M2038.2 1547.5A620.7 620.7 0 0 1 2030.1 1561" stroke="#5294be"/>
<path d="M2030.1 1561A620.7 620.7 0 0 1 2021.7 1574.3" stroke="#498ab9"/>
<path d="M2021.7 1574.3A620.7 620.7 0 0 1 2013 1587.4" stroke="#498ab9"/>
<path d="M2013 1587.4A620.7 620.7 0 0 1 2004 1600.2" stroke="#5294be"/>
<path d="M2004 1600.2A620.7 620.7 0 0 1 1994.6 1612.8" stroke="#5294be"/>
<path d="M1994.6 1612.8A620.7 620.7 0 0 1 1984.9 1625.2" stroke="#5294be"/>
<path d="M1984.9 1625.2A620.7 620.7 0 0 1 1974.9 1637.3" stroke="#5294be"/>
<path d="M1974.9 1637.3A620.7 620.7 0 0 1 1964.6 1649.2" stroke="#5294be"/>
<path d="M1964.6 1649.2A620.7 620.7 0 0 1 1954 1660.8" stroke="#5294be"/>
<path d="M1954 1660.8A620.7 620.7 0 0 1 1943.2 1672.1" stroke="#5294be"/>
<path d="M1943.2 1672.1A620.7 620.7 0 0 1 1932 1683.2" stroke="#5294be"/>
<path d="M1932 1683.2A620.7 620.7 0 0 1 1920.6 1693.9" stroke="#5294be"/>
<path d="M1920.6 1693.9A620.7 620.7 0 0 1 1908.8 1704.4" stroke="#5294be"/>
<path d="M1908.8 1704.4A620.7 620.7 0 0 1 1896.9 1714.6" stroke="#5294be"/>
<path d="M1896.9 1714.6A620.7 620.7 0 0 1 1884.6 1724.4" stroke="#6aa3c6"/>
<path d="M1884.6 1724.4A620.7 620.7 0 0 1 1872.2 1734" stroke="#5294be"/>
<path d="M1872.2 1734A620.7 620.7 0 0 1 1859.5 1743.2" stroke="#498ab9"/>
<path d="M1859.5 1743.2A620.7 620.7 0 0 1 1846.5 1752.1" stroke="#498ab9"/>
<path d="M1846.5 1752.1A620.7 620.7 0 0 1 1833.4 1760.7" stroke="#5294be"/>
<path d="M1833.4 1760.7A620.7 620.7 0 0 1 1820 1769" stroke="#5294be"/>
<path d="M1820 1769A620.7 620.7 0 0 1 1806.4 1776.9" stroke="#5294be"/>
<path d="M1806.4 1776.9A620.7 620.7 0 0 1 1792.6 1784.4" stroke="#5294be"/>
<path d="M1792.6 1784.4A620.7 620.7 0 0 1 1778.7 1791.6" stroke="#5294be"/>
<path d="M1778.7 1791.6A620.7 620.7 0 0 1 1764.5 1798.5" stroke="#5294be"/>
<path d="M1764.5 1798.5A620.7 620.7 0 0 1 1750.2 1805" stroke="#498ab9"/>
<path d="M1750.2 1805A620.7 620.7 0 0 1 1735.8 1811.1" stroke="#498ab9"/>
<path d="M1735.8 1811.1A620.7 620.7 0 0 1 1721.1 1816.8" stroke="#498ab9"/>
<path d="M1721.1 1816.8A620.7 620.7 0 0 1 1706.4 1822.2" stroke="#498ab9"/>
<path d="M1706.4 1822.2A620.7 620.7 0 0 1 1691.5 1827.2" stroke="#5294be"/>
<path d="M1691.5 1827.2A620.7 620.7 0 0 1 1676.5 1831.9" stroke="#5294be"/>
<path d="M1676.5 1831.9A620.7 620.7 0 0 1 1661.4 1836.1" stroke="#5294be"/>
<path d="M1661.4 1836.1A620.7 620.7 0 0 1 1646.1 1840" stroke="#5294be"/>
<path d="M1646.1 1840A620.7 620.7 0 0 1 1630.8 1843.5" stroke="#5294be"/>
<path d="M1630.8 1843.5A620.7 620.7 0 0 1 1615.4 1846.6" stroke="#5294be"/>
<path d="M1615.4 1846.6A620.7 620.7 0 0 1 1599.9 1849.3" stroke="#5294be"/>
<path d="M1599.9 1849.3A620.7 620.7 0 0 1 1584.4 1851.6" stroke="#5294be"/>
<path d="M1584.4 1851.6A620.7 620.7 0 0 1 1568.8 1853.5" stroke="#5294be"/>
<path d="M1568.8 1853.5A620.7 620.7 0 0 1 1553.2 1855" stroke="#4080b4"/>
<path d="M1553.2 1855A620.7 620.7 0 0 1 1537.5 1856.1" stroke="#498ab9"/>
<path d="M1537.5 1856.1A620.7 620.7 0 0 1 1521.8 1856.9" stroke="#4080b4"/>
<path d="M1521.8 1856.9A620.7 620.7 0 0 1 1506.1 1857.2" stroke="#498ab9"/>
<path d="M1506.1 1857.2A620.7 620.7 0 0 1 1490.4 1857.1" stroke="#498ab9"/>
<path d="M1490.4 1857.1A620.7 620.7 0 0 1 1474.7 1856.6" stroke="#4080b4"/>
<path d="M1474.7 1856.6A620.7 620.7 0 0 1 1459 1855.8" stroke="#498ab9"/>
<path d="M1459 1855.8A620.7 620.7 0 0 1 1443.3 1854.5" stroke="#498ab9"/>
<path d="M1443.3 1854.5A620.7 620.7 0 0 1 1427.7 1852.9" stroke="#498ab9"/>
<path d="M1427.7 1852.9A620.7 620.7 0 0 1 1412.2 1850.8" stroke="#498ab9"/>
<path d="M1412.2 1850.8A620.7 620.7 0 0 1 1396.6 1848.4" stroke="#5294be"/>
<path d="M1396.6 1848.4A620.7 620.7 0 0 1 1381.2 1845.5" stroke="#5294be"/>
<path d="M1381.2 1845.5A620.7 620.7 0 0 1 1365.8 1842.3" stroke="#498ab9"/>
<path d="M1365.8 1842.3A620.7 620.7 0 0 1 1350.5 1838.7" stroke="#5294be"/>
<path d="M1350.5 1838.7A620.7 620.7 0 0 1 1335.3 1834.7" stroke="#5294be"/>
<path d="M1335.3 1834.7A620.7 620.7 0 0 1 1320.2 1830.3" stroke="#5294be"/>
<path d="M1320.2 1830.3A620.7 620.7 0 0 1 1305.3 1825.5" stroke="#498ab9"/>
<path d="M1305.3 1825.5A620.7 620.7 0 0 1 1290.4 1820.4" stroke="#95c3c0"/>
<path d="M1290.4 1820.4A620.7 620.7 0 0 1 1275.7 1814.9" stroke="#6aa3c6"/>
<path d="M1275.7 1814.9A620.7 620.7 0 0 1 1261.2 1809" stroke="#80b4c6"/>
<path d="M1261.2 1809A620.7 620.7 0 0 1 1246.7 1802.7" stroke="#95c3c0"/>
<path d="M1246.7 1802.7A620.7 620.7 0 0 1 1232.5 1796.1" stroke="#efefa8"/>
<path d="M1232.5 1796.1A620.7 620.7 0 0 1 1218.4 1789.1" stroke="#d5e6b0"/>
<path d="M1218.4 1789.1A620.7 620.7 0 0 1 1204.5 1781.8" stroke="#b3d5b7"/>
<path d="M1204.5 1781.8A620.7 620.7 0 0 1 1190.8 1774.1" stroke="#b3d5b7"/>
<path d="M1190.8 1774.1A620.7 620.7 0 0 1 1177.3 1766.1" stroke="#95c3c0"/>
<path d="M1177.3 1766.1A620.7 620.7 0 0 1 1164 1757.8" stroke="#80b4c6"/>
<path d="M1164 1757.8A620.7 620.7 0 0 1 1150.9 1749.1" stroke="#80b4c6"/>
<path d="M1150.9 1749.1A620.7 620.7 0 0 1 1138.1 1740" stroke="#95c3c0"/>
<path d="M1138.1 1740A620.7 620.7 0 0 1 1125.4 1730.7" stroke="#95c3c0"/>
<path d="M1125.4 1730.7A620.7 620.7 0 0 1 1113.1 1721" stroke="#95c3c0"/>
<path d="M1113.1 1721A620.7 620.7 0 0 1 1100.9 1711.1" stroke="#95c3c0"/>
<path d="M1100.9 1711.1A620.7 620.7 0 0 1 1089 1700.8" stroke="#80b4c6"/>
<path d="M1089 1700.8A620.7 620.7 0 0 1 1077.4 1690.2" stroke="#80b4c6"/>
<path d="M1077.4 1690.2A620.7 620.7 0 0 1 1066.1 1679.3" stroke="#80b4c6"/>
<path d="M1066.1 1679.3A620.7 620.7 0 0 1 1055 1668.2" stroke="#95c3c0"/>
<path d="M1055 1668.2A620.7 620.7 0 0 1 1044.2 1656.8" stroke="#95c3c0"/>
<path d="M1044.2 1656.8A620.7 620.7 0 0 1 1033.7 1645.1" stroke="#95c3c0"/>
<path d="M1033.7 1645.1A620.7 620.7 0 0 1 1023.5 1633.1" stroke="#80b4c6"/>
<path d="M1023.5 1633.1A620.7 620.7 0 0 1 1013.7 1620.9" stroke="#80b4c6"/>
<path d="M1013.7 1620.9A620.7 620.7 0 0 1 1004.1 1608.4" stroke="#80b4c6"/>
<path d="M1004.1 1608.4A620.7 620.7 0 0 1 994.8 1595.7" stroke="#95c3c0"/>
<path d="M994.8 1595.7A620.7 620.7 0 0 1 985.9 1582.8" stroke="#b3d5b7"/>
<path d="M985.9 1582.8A620.7 620.7 0 0 1 977.3 1569.7" stroke="#b3d5b7"/>
<path d="M977.3 1569.7A620.7 620.7 0 0 1 969 1556.3" stroke="#b3d5b7"/>
<path d="M969 1556.3A620.7 620.7 0 0 1 961.1 1542.7" stroke="#b3d5b7"/>
<path d="M961.1 1542.7A620.7 620.7 0 0 1 953.5 1529" stroke="#95c3c0"/>
<path d="M953.5 1529A620.7 620.7 0 0 1 946.3 1515" stroke="#95c3c0"/>
<path d="M946.3 1515A620.7 620.7 0 0 1 939.4 1500.9" stroke="#95c3c0"/>
<path d="M939.4 1500.9A620.7 620.7 0 0 1 932.9 1486.6" stroke="#95c3c0"/>
<path d="M932.9 1486.6A620.7 620.7 0 0 1 926.8 1472.2" stroke="#95c3c0"/>
<path d="M926.8 1472.2A620.7 620.7 0 0 1 921 1457.5" stroke="#80b4c6"/>
<path d="M921 1457.5A620.7 620.7 0 0 1 915.6 1442.8" stroke="#80b4c6"/>
<path d="M915.6 1442.8A620.7 620.7 0 0 1 910.6 1427.9" stroke="#80b4c6"/>
<path d="M910.6 1427.9A620.7 620.7 0 0 1 905.9 1412.9" stroke="#80b4c6"/>
<path d="M905.9 1412.9A620.7 620.7 0 0 1 901.6 1397.8" stroke="#80b4c6"/>
<path d="M901.6 1397.8A620.7 620.7 0 0 1 897.7 1382.6" stroke="#95c3c0"/>
<path d="M897.7 1382.6A620.7 620.7 0 0 1 894.2 1367.3" stroke="#80b4c6"/>
<path d="M894.2 1367.3A620.7 620.7 0 0 1 891.1 1351.9" stroke="#6aa3c6"/>
<path d="M891.1 1351.9A620.7 620.7 0 0 1 888.4 1336.4" stroke="#80b4c6"/>
<path d="M888.4 1336.4A620.7 620.7 0 0 1 886.1 1320.9" stroke="#6aa3c6"/>
<path d="M886.1 1320.9A620.7 620.7 0 0 1 884.1 1305.3" stroke="#6aa3c6"/>
<path d="M884.1 1305.3A620.7 620.7 0 0 1 882.6 1289.6" stroke="#95c3c0"/>
<path d="M882.6 1289.6A620.7 620.7 0 0 1 881.4 1274" stroke="#80b4c6"/>
<path d="M881.4 1274A620.7 620.7 0 0 1 880.7 1258.3" stroke="#80b4c6"/>
<path d="M880.7 1258.3A620.7 620.7 0 0 1 880.3 1242.6" stroke="#80b4c6"/>
<path d="M880.3 1242.6A620.7 620.7 0 0 1 880.4 1226.9" stroke="#80b4c6"/>
<path d="M880.4 1226.9A620.7 620.7 0 0 1 880.8 1211.2" stroke="#6aa3c6"/>
<path d="M880.8 1211.2A620.7 620.7 0 0 1 881.7 1195.5" stroke="#6aa3c6"/>
<path d="M881.7 1195.5A620.7 620.7 0 0 1 882.9 1179.8" stroke="#6aa3c6"/>
<path d="M882.9 1179.8A620.7 620.7 0 0 1 884.5 1164.2" stroke="#6aa3c6"/>
<path d="M884.5 1164.2A620.7 620.7 0 0 1 886.6 1148.6" stroke="#6aa3c6"/>
<path d="M886.6 1148.6A620.7 620.7 0 0 1 889 1133.1" stroke="#6aa3c6"/>
<path d="M889 1133.1A620.7 620.7 0 0 1 891.8 1117.6" stroke="#efefa8"/>
<path d="M891.8 1117.6A620.7 620.7 0 0 1 895 1102.2" stroke="#b3d5b7"/>
<path d="M895 1102.2A620.7 620.7 0 0 1 898.6 1087" stroke="#95c3c0"/>
<path d="M898.6 1087A620.7 620.7 0 0 1 902.6 1071.8" stroke="#d5e6b0"/>
<path d="M902.6 1071.8A620.7 620.7 0 0 1 906.9 1056.7" stroke="#95c3c0"/>
<path d="M906.9 1056.7A620.7 620.7 0 0 1 911.7 1041.7" stroke="#95c3c0"/>
<path d="M911.7 1041.7A620.7 620.7 0 0 1 916.8 1026.8" stroke="#95c3c0"/>
<path d="M916.8 1026.8A620.7 620.7 0 0 1 922.3 1012.1" stroke="#95c3c0"/>
<path d="M922.3 1012.1A620.7 620.7 0 0 1 928.1 997.5" stroke="#80b4c6"/>
<path d="M928.1 997.5A620.7 620.7 0 0 1 934.4 983.1" stroke="#95c3c0"/>
<path d="M934.4 983.1A620.7 620.7 0 0 1 941 968.9" stroke="#95c3c0"/>
<path d="M941 968.9A620.7 620.7 0 0 1 947.9 954.8" stroke="#95c3c0"/>
<path d="M947.9 954.8A620.7 620.7 0 0 1 955.2 940.9" stroke="#95c3c0"/>
<path d="M955.2 940.9A620.7 620.7 0 0 1 962.9 927.1" stroke="#95c3c0"/>
<path d="M962.9 927.1A620.7 620.7 0 0 1 970.9 913.6" stroke="#b3d5b7"/>
<path d="M970.9 913.6A620.7 620.7 0 0 1 979.2 900.3" stroke="#b3d5b7"/>
<path d="M979.2 900.3A620.7 620.7 0 0 1 987.9 887.2" stroke="#95c3c0"/>
<path d="M987.9 887.2A620.7 620.7 0 0 1 996.9 874.3" stroke="#95c3c0"/>
<path d="M996.9 874.3A620.7 620.7 0 0 1 1006.2 861.7" stroke="#95c3c0"/>
<path d="M1006.2 861.7A620.7 620.7 0 0 1 1015.9 849.3" stroke="#80b4c6"/>
<path d="M1015.9 849.3A620.7 620.7 0 0 1 1025.8 837.1" stroke="#80b4c6"/>
<path d="M1025.8 837.1A620.7 620.7 0 0 1 1036.1 825.3" stroke="#80b4c6"/>
<path d="M1036.1 825.3A620.7 620.7 0 0 1 1046.6 813.6" stroke="#6aa3c6"/>
<path d="M1046.6 813.6A620.7 620.7 0 0 1 1057.5 802.3" stroke="#6aa3c6"/>
<path d="M1057.5 802.3A620.7 620.7 0 0 1 1068.6 791.2" stroke="#80b4c6"/>
<path d="M1068.6 791.2A620.7 620.7 0 0 1 1080 780.4" stroke="#80b4c6"/>
<path d="M1080 780.4A620.7 620.7 0 0 1 1091.7 769.9" stroke="#80b4c6"/>
<path d="M1091.7 769.9A620.7 620.7 0 0 1 1103.7 759.7" stroke="#80b4c6"/>
<path d="M1103.7 759.7A620.7 620.7 0 0 1 1115.8 749.7" stroke="#80b4c6"/>
<path d="M1115.8 749.7A620.7 620.7 0 0 1 1128.3 740.2" stroke="#6aa3c6"/>
<path d="M1128.3 740.2A620.7 620.7 0 0 1 1141 730.9" stroke="#6aa3c6"/>
<path d="M1141 730.9A620.7 620.7 0 0 1 1153.9 721.9" stroke="#80b4c6"/>
<path d="M1153.9 721.9A620.7 620.7 0 0 1 1167 713.3" stroke="#80b4c6"/>
<path d="M1167 713.3A620.7 620.7 0 0 1 1180.4 705" stroke="#95c3c0"/>
<path d="M1180.4 705A620.7 620.7 0 0 1 1193.9 697.1" stroke="#95c3c0"/>
<path d="M1193.9 697.1A620.7 620.7 0 0 1 1207.7 689.5" stroke="#95c3c0"/>
<path d="M1207.7 689.5A620.7 620.7 0 0 1 1221.6 682.2" stroke="#95c3c0"/>
<path d="M1221.6 682.2A620.7 620.7 0 0 1 1235.7 675.3" stroke="#95c3c0"/>
<path d="M1235.7 675.3A620.7 620.7 0 0 1 1250 668.8" stroke="#b3d5b7"/>
<path d="M1250 668.8A620.7 620.7 0 0 1 1264.5 662.6" stroke="#95c3c0"/>
<path d="M1264.5 662.6A620.7 620.7 0 0 1 1279.1 656.8" stroke="#95c3c0"/>
<path d="M1279.1 656.8A620.7 620.7 0 0 1 1293.8 651.4" stroke="#95c3c0"/>
<path d="M1293.8 651.4A620.7 620.7 0 0 1 1308.7 646.3" stroke="#95c3c0"/>
<path d="M1308.7 646.3A620.7 620.7 0 0 1 1323.7 641.7" stroke="#80b4c6"/>
<path d="M1323.7 641.7A620.7 620.7 0 0 1 1338.8 637.4" stroke="#80b4c6"/>
<path d="M1338.8 637.4A620.7 620.7 0 0 1 1354 633.5" stroke="#95c3c0"/>
<path d="M1354 633.5A620.7 620.7 0 0 1 1369.3 629.9" stroke="#80b4c6"/>
<path d="M1369.3 629.9A620.7 620.7 0 0 1 1384.7 626.8" stroke="#95c3c0"/>
<path d="M1778.3 759.3A551.9 551.9 0 0 1 1790.3 766.5" stroke="#4080b4"/>
<path d="M1790.3 766.5A551.9 551.9 0 0 1 1802.1 774" stroke="#80b4c6"/>
<path d="M1802.1 774A551.9 551.9 0 0 1 1813.7 781.7" stroke="#95c3c0"/>
<path d="M1813.7 781.7A551.9 551.9 0 0 1 1825.1 789.8" stroke="#80b4c6"/>
<path d="M1825.1 789.8A551.9 551.9 0 0 1 1836.3 798.1" stroke="#95c3c0"/>
<path d="M1836.3 798.1A551.9 551.9 0 0 1 1847.3 806.8" stroke="#b3d5b7"/>
<path d="M1847.3 806.8A551.9 551.9 0 0 1 1858 815.7" stroke="#95c3c0"/>
<path d="M1858 815.7A551.9 551.9 0 0 1 1868.6 824.8" stroke="#80b4c6"/>
<path d="M1868.6 824.8A551.9 551.9 0 0 1 1878.9 834.3" stroke="#6aa3c6"/>
<path d="M1878.9 834.3A551.9 551.9 0 0 1 1888.9 844" stroke="#6aa3c6"/>
<path d="M1888.9 844A551.9 551.9 0 0 1 1898.8 853.9" stroke="#6aa3c6"/>
<path d="M1898.8 853.9A551.9 551.9 0 0 1 1908.3 864.1" stroke="#6aa3c6"/>
<path d="M1908.3 864.1A551.9 551.9 0 0 1 1917.6 874.5" stroke="#80b4c6"/>
<path d="M1917.6 874.5A551.9 551.9 0 0 1 1926.6 885.2" stroke="#80b4c6"/>
<path d="M1926.6 885.2A551.9 551.9 0 0 1 1935.4 896.1" stroke="#6aa3c6"/>
<path d="M1935.4 896.1A551.9 551.9 0 0 1 1943.9 907.2" stroke="#6aa3c6"/>
<path d="M1943.9 907.2A551.9 551.9 0 0 1 1952.1 918.5" stroke="#5294be"/>
<path d="M1952.1 918.5A551.9 551.9 0 0 1 1960 930" stroke="#5294be"/>
<path d="M1960 930A551.9 551.9 0 0 1 1967.6 941.7" stroke="#6aa3c6"/>
<path d="M1967.6 941.7A551.9 551.9 0 0 1 1974.9 953.6" stroke="#6aa3c6"/>
<path d="M1974.9 953.6A551.9 551.9 0 0 1 1981.9 965.7" stroke="#6aa3c6"/>
<path d="M1981.9 965.7A551.9 551.9 0 0 1 1988.6 977.9" stroke="#80b4c6"/>
<path d="M1988.6 977.9A551.9 551.9 0 0 1 1995 990.4" stroke="#b3d5b7"/>
<path d="M1995 990.4A551.9 551.9 0 0 1 2001 1002.9" stroke="#d5e6b0"/>
<path d="M2001 1002.9A551.9 551.9 0 0 1 2006.8 1015.7" stroke="#b3d5b7"/>
<path d="M2006.8 1015.7A551.9 551.9 0 0 1 2012.2 1028.5" stroke="#b3d5b7"/>
<path d="M2012.2 1028.5A551.9 551.9 0 0 1 2017.3 1041.6" stroke="#95c3c0"/>
<path d="M2017.3 1041.6A551.9 551.9 0 0 1 2022.1 1054.7" stroke="#95c3c0"/>
<path d="M2022.1 1054.7A551.9 551.9 0 0 1 2026.5 1067.9" stroke="#95c3c0"/>
<path d="M2026.5 1067.9A551.9 551.9 0 0 1 2030.6 1081.3" stroke="#95c3c0"/>
<path d="M2030.6 1081.3A551.9 551.9 0 0 1 2034.4 1094.7" stroke="#95c3c0"/>
<path d="M2034.4 1094.7A551.9 551.9 0 0 1 2037.8 1108.3" stroke="#95c3c0"/>
<path d="M2037.8 1108.3A551.9 551.9 0 0 1 2040.9 1121.9" stroke="#5294be"/>
<path d="M2040.9 1121.9A551.9 551.9 0 0 1 2043.6 1135.6" stroke="#6aa3c6"/>
<path d="M2043.6 1135.6A551.9 551.9 0 0 1 2046 1149.4" stroke="#6aa3c6"/>
<path d="M2046 1149.4A551.9 551.9 0 0 1 2048 1163.2" stroke="#80b4c6"/>
<path d="M2048 1163.2A551.9 551.9 0 0 1 2049.7 1177.1" stroke="#80b4c6"/>
<path d="M2049.7 1177.1A551.9 551.9 0 0 1 2051 1191" stroke="#80b4c6"/>
<path d="M2051 1191A551.9 551.9 0 0 1 2052 1204.9" stroke="#80b4c6"/>
<path d="M2052 1204.9A551.9 551.9 0 0 1 2052.6 1218.8" stroke="#80b4c6"/>
<path d="M2052.6 1218.8A551.9 551.9 0 0 1 2052.9 1232.8" stroke="#6aa3c6"/>
<path d="M2052.9 1232.8A551.9 551.9 0 0 1 2052.8 1246.8" stroke="#95c3c0"/>
<path d="M2052.8 1246.8A551.9 551.9 0 0 1 2052.4 1260.7" stroke="#95c3c0"/>
<path d="M2052.4 1260.7A551.9 551.9 0 0 1 2051.6 1274.7" stroke="#95c3c0"/>
<path d="M2051.6 1274.7A551.9 551.9 0 0 1 2050.4 1288.6" stroke="#95c3c0"/>
<path d="M2050.4 1288.6A551.9 551.9 0 0 1 2048.9 1302.5" stroke="#80b4c6"/>
<path d="M2048.9 1302.5A551.9 551.9 0 0 1 2047.1 1316.3" stroke="#6aa3c6"/>
<path d="M2047.1 1316.3A551.9 551.9 0 0 1 2044.9 1330.1" stroke="#95c3c0"/>
<path d="M2044.9 1330.1A551.9 551.9 0 0 1 2042.4 1343.9" stroke="#95c3c0"/>
<path d="M2042.4 1343.9A551.9 551.9 0 0 1 2039.5 1357.5" stroke="#95c3c0"/>
<path d="M2039.5 1357.5A551.9 551.9 0 0 1 2036.2 1371.1" stroke="#80b4c6"/>
<path d="M2036.2 1371.1A551.9 551.9 0 0 1 2032.6 1384.6" stroke="#80b4c6"/>
<path d="M2032.6 1384.6A551.9 551.9 0 0 1 2028.7 1398" stroke="#95c3c0"/>
<path d="M2028.7 1398A551.9 551.9 0 0 1 2024.5 1411.3" stroke="#95c3c0"/>
<path d="M2024.5 1411.3A551.9 551.9 0 0 1 2019.9 1424.5" stroke="#d5e6b0"/>
<path d="M2019.9 1424.5A551.9 551.9 0 0 1 2015 1437.6" stroke="#d5e6b0"/>
<path d="M2015 1437.6A551.9 551.9 0 0 1 2009.7 1450.6" stroke="#95c3c0"/>
<path d="M2009.7 1450.6A551.9 551.9 0 0 1 2004.1 1463.4" stroke="#95c3c0"/>
<path d="M2004.1 1463.4A551.9 551.9 0 0 1 1998.2 1476" stroke="#b3d5b7"/>
<path d="M1998.2 1476A551.9 551.9 0 0 1 1992 1488.5" stroke="#b3d5b7"/>
<path d="M1992 1488.5A551.9 551.9 0 0 1 1985.5 1500.9" stroke="#b3d5b7"/>
<path d="M1985.5 1500.9A551.9 551.9 0 0 1 1978.6 1513" stroke="#b3d5b7"/>
<path d="M1978.6 1513A551.9 551.9 0 0 1 1971.5 1525" stroke="#95c3c0"/>
<path d="M1971.5 1525A551.9 551.9 0 0 1 1964 1536.9" stroke="#95c3c0"/>
<path d="M1964 1536.9A551.9 551.9 0 0 1 1956.3 1548.5" stroke="#b3d5b7"/>
<path d="M1956.3 1548.5A551.9 551.9 0 0 1 1948.2 1559.9" stroke="#b3d5b7"/>
<path d="M1948.2 1559.9A551.9 551.9 0 0 1 1939.9 1571.1" stroke="#b3d5b7"/>
<path d="M1939.9 1571.1A551.9 551.9 0 0 1 1931.3 1582.1" stroke="#95c3c0"/>
<path d="M1931.3 1582.1A551.9 551.9 0 0 1 1922.4 1592.9" stroke="#95c3c0"/>
<path d="M1922.4 1592.9A551.9 551.9 0 0 1 1913.2 1603.4" stroke="#95c3c0"/>
<path d="M1913.2 1603.4A551.9 551.9 0 0 1 1903.8 1613.8" stroke="#95c3c0"/>
<path d="M1903.8 1613.8A551.9 551.9 0 0 1 1894.1 1623.8" stroke="#95c3c0"/>
<path d="M1894.1 1623.8A551.9 551.9 0 0 1 1884.2 1633.7" stroke="#95c3c0"/>
<path d="M1884.2 1633.7A551.9 551.9 0 0 1 1874 1643.2" stroke="#95c3c0"/>
<path d="M1874 1643.2A551.9 551.9 0 0 1 1863.6 1652.5" stroke="#95c3c0"/>
<path d="M1863.6 1652.5A551.9 551.9 0 0 1 1853 1661.6" stroke="#95c3c0"/>
<path d="M1853 1661.6A551.9 551.9 0 0 1 1842.1 1670.4" stroke="#95c3c0"/>
<path d="M1842.1 1670.4A551.9 551.9 0 0 1 1831 1678.9" stroke="#95c3c0"/>
<path d="M1831 1678.9A551.9 551.9 0 0 1 1819.7 1687.1" stroke="#95c3c0"/>
<path d="M1819.7 1687.1A551.9 551.9 0 0 1 1808.2 1695" stroke="#95c3c0"/>
<path d="M1808.2 1695A551.9 551.9 0 0 1 1796.5 1702.6" stroke="#95c3c0"/>
<path d="M1796.5 1702.6A551.9 551.9 0 0 1 1784.6 1709.9" stroke="#95c3c0"/>
<path d="M1784.6 1709.9A551.9 551.9 0 0 1 1772.6 1717" stroke="#95c3c0"/>
<path d="M1772.6 1717A551.9 551.9 0 0 1 1760.3 1723.7" stroke="#95c3c0"/>
<path d="M1760.3 1723.7A551.9 551.9 0 0 1 1747.9 1730.1" stroke="#95c3c0"/>
<path d="M1747.9 1730.1A551.9 551.9 0 0 1 1735.3 1736.2" stroke="#95c3c0"/>
<path d="M1735.3 1736.2A551.9 551.9 0 0 1 1722.6 1742" stroke="#95c3c0"/>
<path d="M1722.6 1742A551.9 551.9 0 0 1 1709.7 1747.4" stroke="#d5e6b0"/>
<path d="M1709.7 1747.4A551.9 551.9 0 0 1 1696.7 1752.5" stroke="#b3d5b7"/>
<path d="M1696.7 1752.5A551.9 551.9 0 0 1 1683.6 1757.3" stroke="#b3d5b7"/>
<path d="M1683.6 1757.3A551.9 551.9 0 0 1 1670.4 1761.8" stroke="#d5e6b0"/>
<path d="M1670.4 1761.8A551.9 551.9 0 0 1 1657 1765.9" stroke="#d5e6b0"/>
<path d="M1657 1765.9A551.9 551.9 0 0 1 1643.6 1769.7" stroke="#d5e6b0"/>
<path d="M1643.6 1769.7A551.9 551.9 0 0 1 1630.1 1773.1" stroke="#b3d5b7"/>
<path d="M1630.1 1773.1A551.9 551.9 0 0 1 1616.4 1776.2" stroke="#b3d5b7"/>
<path d="M1616.4 1776.2A551.9 551.9 0 0 1 1602.7 1778.9" stroke="#b3d5b7"/>
<path d="M1602.7 1778.9A551.9 551.9 0 0 1 1589 1781.3" stroke="#b3d5b7"/>
<path d="M1589 1781.3A551.9 551.9 0 0 1 1575.2 1783.4" stroke="#d5e6b0"/>
<path d="M1575.2 1783.4A551.9 551.9 0 0 1 1561.3 1785.1" stroke="#95c3c0"/>
<path d="M1561.3 1785.1A551.9 551.9 0 0 1 1547.4 1786.4" stroke="#80b4c6"/>
<path d="M1547.4 1786.4A551.9 551.9 0 0 1 1533.5 1787.4" stroke="#80b4c6"/>
<path d="M1533.5 1787.4A551.9 551.9 0 0 1 1519.5 1788.1" stroke="#80b4c6"/>
<path d="M1519.5 1788.1A551.9 551.9 0 0 1 1505.5 1788.4" stroke="#80b4c6"/>
<path d="M1505.5 1788.4A551.9 551.9 0 0 1 1491.6 1788.3" stroke="#80b4c6"/>
<path d="M1491.6 1788.3A551.9 551.9 0 0 1 1477.6 1787.9" stroke="#80b4c6"/>
<path d="M1477.6 1787.9A551.9 551.9 0 0 1 1463.7 1787.1" stroke="#80b4c6"/>
<path d="M1463.7 1787.1A551.9 551.9 0 0 1 1449.7 1786" stroke="#6aa3c6"/>
<path d="M1449.7 1786A551.9 551.9 0 0 1 1435.8 1784.5" stroke="#80b4c6"/>
<path d="M1435.8 1784.5A551.9 551.9 0 0 1 1422 1782.7" stroke="#80b4c6"/>
<path d="M1422 1782.7A551.9 551.9 0 0 1 1408.2 1780.5" stroke="#95c3c0"/>
<path d="M1408.2 1780.5A551.9 551.9 0 0 1 1394.5 1778" stroke="#80b4c6"/>
<path d="M1394.5 1778A551.9 551.9 0 0 1 1380.8 1775.1" stroke="#80b4c6"/>
<path d="M1380.8 1775.1A551.9 551.9 0 0 1 1367.2 1771.9" stroke="#80b4c6"/>
<path d="M1367.2 1771.9A551.9 551.9 0 0 1 1353.7 1768.4" stroke="#80b4c6"/>
<path d="M1353.7 1768.4A551.9 551.9 0 0 1 1340.3 1764.5" stroke="#80b4c6"/>
<path d="M1340.3 1764.5A551.9 551.9 0 0 1 1327 1760.2" stroke="#80b4c6"/>
<path d="M1327 1760.2A551.9 551.9 0 0 1 1313.8 1755.7" stroke="#b3d5b7"/>
<path d="M1313.8 1755.7A551.9 551.9 0 0 1 1300.7 1750.8" stroke="#d5e6b0"/>
<path d="M1300.7 1750.8A551.9 551.9 0 0 1 1287.7 1745.5" stroke="#b3d5b7"/>
<path d="M1287.7 1745.5A551.9 551.9 0 0 1 1274.9 1740" stroke="#d5e6b0"/>
<path d="M1274.9 1740A551.9 551.9 0 0 1 1262.3 1734.1" stroke="#b3d5b7"/>
<path d="M1262.3 1734.1A551.9 551.9 0 0 1 1249.7 1727.9" stroke="#5294be"/>
<path d="M1249.7 1727.9A551.9 551.9 0 0 1 1237.4 1721.4" stroke="#b3d5b7"/>
<path d="M1237.4 1721.4A551.9 551.9 0 0 1 1225.2 1714.5" stroke="#b3d5b7"/>
<path d="M1225.2 1714.5A551.9 551.9 0 0 1 1213.2 1707.4" stroke="#b3d5b7"/>
<path d="M1213.2 1707.4A551.9 551.9 0 0 1 1201.4 1700" stroke="#b3d5b7"/>
<path d="M1201.4 1700A551.9 551.9 0 0 1 1189.7 1692.2" stroke="#95c3c0"/>
<path d="M1189.7 1692.2A551.9 551.9 0 0 1 1178.3 1684.2" stroke="#95c3c0"/>
<path d="M1178.3 1684.2A551.9 551.9 0 0 1 1167.1 1675.9" stroke="#95c3c0"/>
<path d="M1167.1 1675.9A551.9 551.9 0 0 1 1156.1 1667.3" stroke="#95c3c0"/>
<path d="M1156.1 1667.3A551.9 551.9 0 0 1 1145.3 1658.5" stroke="#95c3c0"/>
<path d="M1145.3 1658.5A551.9 551.9 0 0 1 1134.7 1649.3" stroke="#498ab9"/>
<path d="M1134.7 1649.3A551.9 551.9 0 0 1 1124.4 1639.9" stroke="#498ab9"/>
<path d="M1124.4 1639.9A551.9 551.9 0 0 1 1114.3 1630.2" stroke="#5294be"/>
<path d="M1114.3 1630.2A551.9 551.9 0 0 1 1104.4 1620.3" stroke="#6aa3c6"/>
<path d="M1104.4 1620.3A551.9 551.9 0 0 1 1094.8 1610.2" stroke="#6aa3c6"/>
<path d="M1094.8 1610.2A551.9 551.9 0 0 1 1085.5 1599.8" stroke="#6aa3c6"/>
<path d="M1085.5 1599.8A551.9 551.9 0 0 1 1076.5 1589.1" stroke="#6aa3c6"/>
<path d="M1076.5 1589.1A551.9 551.9 0 0 1 1067.7 1578.3" stroke="#6aa3c6"/>
<path d="M1067.7 1578.3A551.9 551.9 0 0 1 1059.2 1567.2" stroke="#6aa3c6"/>
<path d="M1059.2 1567.2A551.9 551.9 0 0 1 1050.9 1555.9" stroke="#5294be"/>
<path d="M1050.9 1555.9A551.9 551.9 0 0 1 1043 1544.4" stroke="#6aa3c6"/>
<path d="M1043 1544.4A551.9 551.9 0 0 1 1035.3 1532.7" stroke="#6aa3c6"/>
<path d="M1035.3 1532.7A551.9 551.9 0 0 1 1028 1520.9" stroke="#6aa3c6"/>
<path d="M1028 1520.9A551.9 551.9 0 0 1 1021 1508.8" stroke="#80b4c6"/>
<path d="M1021 1508.8A551.9 551.9 0 0 1 1014.2 1496.6" stroke="#80b4c6"/>
<path d="M1014.2 1496.6A551.9 551.9 0 0 1 1007.8 1484.2" stroke="#80b4c6"/>
<path d="M1007.8 1484.2A551.9 551.9 0 0 1 1001.7 1471.6" stroke="#80b4c6"/>
<path d="M1001.7 1471.6A551.9 551.9 0 0 1 995.9 1458.9" stroke="#80b4c6"/>
<path d="M995.9 1458.9A551.9 551.9 0 0 1 990.4 1446" stroke="#80b4c6"/>
<path d="M990.4 1446A551.9 551.9 0 0 1 985.3 1433" stroke="#80b4c6"/>
<path d="M985.3 1433A551.9 551.9 0 0 1 980.5 1419.9" stroke="#6aa3c6"/>
<path d="M980.5 1419.9A551.9 551.9 0 0 1 976 1406.7" stroke="#6aa3c6"/>
<path d="M976 1406.7A551.9 551.9 0 0 1 971.9 1393.4" stroke="#6aa3c6"/>
<path d="M971.9 1393.4A551.9 551.9 0 0 1 968.1 1379.9" stroke="#6aa3c6"/>
<path d="M968.1 1379.9A551.9 551.9 0 0 1 964.6 1366.4" stroke="#5294be"/>
<path d="M964.6 1366.4A551.9 551.9 0 0 1 961.5 1352.8" stroke="#6aa3c6"/>
<path d="M961.5 1352.8A551.9 551.9 0 0 1 958.7 1339.1" stroke="#80b4c6"/>
<path d="M958.7 1339.1A551.9 551.9 0 0 1 956.3 1325.3" stroke="#80b4c6"/>
<path d="M956.3 1325.3A551.9 551.9 0 0 1 954.2 1311.5" stroke="#95c3c0"/>
<path d="M954.2 1311.5A551.9 551.9 0 0 1 952.5 1297.6" stroke="#95c3c0"/>
<path d="M952.5 1297.6A551.9 551.9 0 0 1 951.1 1283.7" stroke="#b3d5b7"/>
<path d="M951.1 1283.7A551.9 551.9 0 0 1 950.1 1269.8" stroke="#b3d5b7"/>
<path d="M950.1 1269.8A551.9 551.9 0 0 1 949.4 1255.9" stroke="#95c3c0"/>
<path d="M949.4 1255.9A551.9 551.9 0 0 1 949.1 1241.9" stroke="#5294be"/>
<path d="M949.1 1241.9A551.9 551.9 0 0 1 949.2 1227.9" stroke="#6aa3c6"/>
<path d="M949.2 1227.9A551.9 551.9 0 0 1 949.6 1214" stroke="#6aa3c6"/>
<path d="M949.6 1214A551.9 551.9 0 0 1 950.3 1200" stroke="#6aa3c6"/>
<path d="M950.3 1200A551.9 551.9 0 0 1 951.4 1186.1" stroke="#6aa3c6"/>
<path d="M951.4 1186.1A551.9 551.9 0 0 1 952.9 1172.2" stroke="#6aa3c6"/>
<path d="M952.9 1172.2A551.9 551.9 0 0 1 954.7 1158.3" stroke="#6aa3c6"/>
<path d="M954.7 1158.3A551.9 551.9 0 0 1 956.8 1144.5" stroke="#6aa3c6"/>
<path d="M956.8 1144.5A551.9 551.9 0 0 1 959.3 1130.8" stroke="#6aa3c6"/>
<path d="M959.3 1130.8A551.9 551.9 0 0 1 962.2 1117.1" stroke="#4080b4"/>
<path d="M962.2 1117.1A551.9 551.9 0 0 1 965.4 1103.5" stroke="#5294be"/>
<path d="M965.4 1103.5A551.9 551.9 0 0 1 968.9 1090" stroke="#95c3c0"/>
<path d="M968.9 1090A551.9 551.9 0 0 1 972.8 1076.6" stroke="#95c3c0"/>
<path d="M972.8 1076.6A551.9 551.9 0 0 1 977 1063.3" stroke="#95c3c0"/>
<path d="M977 1063.3A551.9 551.9 0 0 1 981.5 1050.1" stroke="#95c3c0"/>
<path d="M981.5 1050.1A551.9 551.9 0 0 1 986.4 1037" stroke="#95c3c0"/>
<path d="M986.4 1037A551.9 551.9 0 0 1 991.6 1024" stroke="#80b4c6"/>
<path d="M991.6 1024A551.9 551.9 0 0 1 997.2 1011.2" stroke="#80b4c6"/>
<path d="M997.2 1011.2A551.9 551.9 0 0 1 1003 998.5" stroke="#80b4c6"/>
<path d="M1003 998.5A551.9 551.9 0 0 1 1009.2 986" stroke="#80b4c6"/>
<path d="M1009.2 986A551.9 551.9 0 0 1 1015.7 973.6" stroke="#95c3c0"/>
<path d="M1015.7 973.6A551.9 551.9 0 0 1 1022.5 961.4" stroke="#b3d5b7"/>
<path d="M1022.5 961.4A551.9 551.9 0 0 1 1029.6 949.4" stroke="#d5e6b0"/>
<path d="M1029.6 949.4A551.9 551.9 0 0 1 1037.1 937.6" stroke="#b3d5b7"/>
<path d="M1037.1 937.6A551.9 551.9 0 0 1 1044.8 925.9" stroke="#95c3c0"/>
<path d="M1044.8 925.9A551.9 551.9 0 0 1 1052.8 914.5" stroke="#95c3c0"/>
<path d="M1052.8 914.5A551.9 551.9 0 0 1 1061.1 903.2" stroke="#95c3c0"/>
<path d="M1061.1 903.2A551.9 551.9 0 0 1 1069.6 892.2" stroke="#b3d5b7"/>
<path d="M1069.6 892.2A551.9 551.9 0 0 1 1078.5 881.4" stroke="#d5e6b0"/>
<path d="M1078.5 881.4A551.9 551.9 0 0 1 1087.6 870.8" stroke="#b3d5b7"/>
<path d="M1087.6 870.8A551.9 551.9 0 0 1 1097 860.5" stroke="#b3d5b7"/>
<path d="M1097 860.5A551.9 551.9 0 0 1 1106.7 850.4" stroke="#b3d5b7"/>
<path d="M1106.7 850.4A551.9 551.9 0 0 1 1116.6 840.5" stroke="#b3d5b7"/>
<path d="M1116.6 840.5A551.9 551.9 0 0 1 1126.7 830.9" stroke="#b3d5b7"/>
<path d="M1126.7 830.9A551.9 551.9 0 0 1 1137.1 821.6" stroke="#d5e6b0"/>
<path d="M1137.1 821.6A551.9 551.9 0 0 1 1147.7 812.5" stroke="#efefa8"/>
<path d="M1147.7 812.5A551.9 551.9 0 0 1 1158.5 803.7" stroke="#d5e6b0"/>
<path d="M1158.5 803.7A551.9 551.9 0 0 1 1169.6 795.2" stroke="#b3d5b7"/>
<path d="M1169.6 795.2A551.9 551.9 0 0 1 1180.9 786.9" stroke="#b3d5b7"/>
<path d="M1180.9 786.9A551.9 551.9 0 0 1 1192.4 779" stroke="#d5e6b0"/>
<path d="M1192.4 779A551.9 551.9 0 0 1 1204 771.3" stroke="#d5e6b0"/>
<path d="M1204 771.3A551.9 551.9 0 0 1 1215.9 763.9" stroke="#d5e6b0"/>
<path d="M1215.9 763.9A551.9 551.9 0 0 1 1228 756.9" stroke="#d5e6b0"/>
<path d="M1228 756.9A551.9 551.9 0 0 1 1240.2 750.1" stroke="#95c3c0"/>
<path d="M1240.2 750.1A551.9 551.9 0 0 1 1252.6 743.7" stroke="#95c3c0"/>
<path d="M1252.6 743.7A551.9 551.9 0 0 1 1265.1 737.5" stroke="#95c3c0"/>
<path d="M1265.1 737.5A551.9 551.9 0 0 1 1277.8 731.7" stroke="#95c3c0"/>
<path d="M1277.8 731.7A551.9 551.9 0 0 1 1290.7 726.2" stroke="#95c3c0"/>
<path d="M1290.7 726.2A551.9 551.9 0 0 1 1303.7 721.1" stroke="#95c3c0"/>
<path d="M1303.7 721.1A551.9 551.9 0 0 1 1316.8 716.3" stroke="#5294be"/>
<path d="M1316.8 716.3A551.9 551.9 0 0 1 1330 711.8" stroke="#95c3c0"/>
<path d="M1330 711.8A551.9 551.9 0 0 1 1343.3 707.6" stroke="#95c3c0"/>
<path d="M1343.3 707.6A551.9 551.9 0 0 1 1356.8 703.8" stroke="#95c3c0"/>
<path d="M1356.8 703.8A551.9 551.9 0 0 1 1370.3 700.3" stroke="#95c3c0"/>
<path d="M1370.3 700.3A551.9 551.9 0 0 1 1383.9 697.2" stroke="#80b4c6"/>
<path d="M1383.9 697.2A551.9 551.9 0 0 1 1397.6 694.4" stroke="#95c3c0"/>
</g>
<g fill="none" stroke="#fff" stroke-width="1.7">
<path d="M1760.5 789.9L2107.2 193.3M1771.7 796.6L2133.4 209M1782.8 803.6L2159.2 225.3M1793.6 810.9L2184.6 242.3M1804.3 818.4L2209.5 259.9M1814.8 826.2L2234 278.2M1825.1 834.3L2258 297M1835.1 842.6L2281.5 316.5M1845 851.2L2304.6 336.5M1854.6 860.1L2327.1 357.2M1864.1 869.1L2349.1 378.4M1873.2 878.4L2370.5 400.1M1882.2 888L2391.4 422.4M1890.9 897.7L2411.7 445.2M1899.3 907.7L2431.5 468.5M1907.5 917.9L2450.6 492.3M1915.5 928.3L2469.1 516.5M1923.1 938.9L2487 541.3M1930.5 949.6L2504.3 566.4M1937.6 960.6L2521 592M1944.5 971.7L2536.9 618.1M1951 983.1L2552.3 644.5M1957.3 994.5L2566.9 671.3M1963.3 1006.2L2580.9 698.4M1969 1017.9L2594.1 725.9M1974.4 1029.8L2606.7 753.8M1979.4 1041.9L2618.6 781.9M1984.2 1054.1L2629.7 810.3M1988.7 1066.3L2640.1 839M1992.8 1078.7L2649.8 868M1996.7 1091.2L2658.8 897.2M2000.2 1103.8L2667 926.6M2003.4 1116.5L2674.5 956.2M2006.2 1129.3L2681.2 986M2008.8 1142.1L2687.2 1015.9M2011 1155L2692.4 1046M2012.9 1167.9L2696.8 1076.2M2014.5 1180.9L2700.5 1106.5M2015.7 1193.9L2703.4 1136.9M2016.7 1206.9L2705.5 1167.4M2017.2 1220L2706.9 1197.9M2017.5 1233.1L2707.5 1228.4M2017.4 1246.1L2707.3 1259M2017 1259.2L2706.3 1289.5M2016.3 1272.2L2704.6 1320M2015.2 1285.3L2702.1 1350.4M2013.8 1298.3L2698.8 1380.8M2012.1 1311.2L2694.8 1411.1M2010 1324.1L2690 1441.2M2007.6 1337L2684.4 1471.2M2004.9 1349.8L2678.1 1501.1M2001.9 1362.5L2671.1 1530.8M1998.5 1375.1L2663.2 1560.3M1994.9 1387.7L2654.7 1589.6M1990.9 1400.1L2645.4 1618.7M1986.6 1412.5L2635.3 1647.6M1982 1424.7L2624.5 1676.1M1977.1 1436.8L2613.1 1704.4M1971.8 1448.8L2600.9 1732.4M1966.3 1460.7L2588 1760.1M1960.5 1472.4L2574.4 1787.4M1954.4 1483.9L2560.1 1814.4M1948 1495.3L2545.1 1841M1941.3 1506.5L2529.5 1867.3M1934.3 1517.6L2513.2 1893.1M1927.1 1528.5L2496.2 1918.5M1919.5 1539.2L2478.7 1943.5M1911.7 1549.7L2460.5 1968M1903.7 1559.9L2441.6 1992M1895.4 1570L2422.2 2015.6M1886.8 1579.9L2402.2 2038.7M1878 1589.6L2381.6 2061.2M1868.9 1599L2360.5 2083.2M1859.6 1608.2L2338.8 2104.7M1850.1 1617.1L2316.5 2125.6M1840.4 1625.9L2293.7 2146M1830.4 1634.3L2270.5 2165.8M1820.2 1642.5L2246.7 2184.9M1809.9 1650.5L2222.5 2203.5M1799.3 1658.2L2197.8 2221.5M1788.5 1665.6L2172.6 2238.8M1777.6 1672.7L2147 2255.5M1766.4 1679.6L2121 2271.5M1755.1 1686.2L2094.6 2286.8M1743.7 1692.4L2067.9 2301.5M1732.1 1698.4L2040.7 2315.5M1720.3 1704.1L2013.3 2328.9M1708.4 1709.5L1985.5 2341.5M1696.4 1714.6L1957.3 2353.4M1684.2 1719.4L1928.9 2364.6M1671.9 1723.9L1900.2 2375M1659.5 1728.1L1871.3 2384.8M1647 1731.9L1842.1 2393.8M1634.4 1735.5L1812.7 2402M1621.8 1738.7L1783.1 2409.6M1609 1741.6L1753.3 2416.3M1596.2 1744.1L1723.4 2422.3M1583.3 1746.4L1693.3 2427.6M1570.4 1748.3L1663.1 2432.1M1557.4 1749.9L1632.8 2435.8M1544.4 1751.2L1602.4 2438.7M1531.4 1752.1L1572 2440.9M1518.3 1752.7L1541.5 2442.3M1505.2 1753L1510.9 2443M1492.2 1752.9L1480.4 2442.8M1479.1 1752.5L1449.9 2441.9M1466.1 1751.8L1419.4 2440.2M1453 1750.8L1388.9 2437.8M1440 1749.4L1358.6 2434.6M1427.1 1747.7L1328.3 2430.6M1414.2 1745.6L1298.1 2425.8M1401.3 1743.3L1268.1 2420.3M1388.5 1740.6L1238.2 2414M1375.8 1737.6L1208.5 2407M1363.1 1734.3L1179 2399.2M1350.6 1730.6L1149.6 2390.7M1338.1 1726.6L1120.5 2381.4M1325.8 1722.4L1091.7 2371.4M1313.5 1717.8L1063.1 2360.7M1301.4 1712.9L1034.8 2349.3M1289.4 1707.7L1006.8 2337.1M1277.6 1702.2L979.1 2324.3M1265.9 1696.4L951.7 2310.7M1254.3 1690.3L924.7 2296.5M1242.9 1683.9L898.1 2281.5M1231.6 1677.2L871.8 2265.9M1220.6 1670.2L846 2249.7M1209.7 1663L820.5 2232.8M1199 1655.5L795.5 2215.3M1188.5 1647.7L771 2197.1M1178.2 1639.7L746.9 2178.3M1168.1 1631.4L723.3 2158.9M1158.2 1622.8L700.2 2138.9M1148.5 1614L677.6 2118.4M1139.1 1605L655.6 2097.3M1129.9 1595.7L634.1 2075.6M1120.9 1586.2L613.1 2053.4M1112.2 1576.5L592.7 2030.7M1103.7 1566.5L572.9 2007.4M1095.5 1556.4L553.7 1983.7M1087.5 1546L535.1 1959.5M1079.8 1535.4L517.1 1934.8M1072.4 1524.7L499.8 1909.7M1065.2 1513.7L483 1884.1M1058.3 1502.6L467 1858.1M1051.7 1491.3L451.6 1831.8M1045.4 1479.9L436.8 1805M1039.4 1468.3L422.8 1777.9M1033.7 1456.5L409.4 1750.5M1028.3 1444.6L396.8 1722.7M1023.2 1432.6L384.8 1694.6M1018.4 1420.4L373.6 1666.2M1013.9 1408.2L363.1 1637.5M1009.7 1395.8L353.3 1608.6M1005.8 1383.3L344.3 1579.4M1002.2 1370.7L335.9 1550M999 1358.1L328.4 1520.4M996.1 1345.3L321.6 1490.7M993.5 1332.5L315.5 1460.7M991.2 1319.6L310.2 1430.7M989.3 1306.7L305.7 1400.5M987.7 1293.7L301.9 1370.2M986.4 1280.7L298.9 1339.8M985.4 1267.7L296.7 1309.3M984.8 1254.6L295.2 1278.8M984.5 1241.5L294.6 1248.3M984.6 1228.5L294.6 1217.8M984.9 1215.4L295.5 1187.2M985.6 1202.4L297.1 1156.7M986.7 1189.3L299.5 1126.3M988 1176.3L302.7 1095.9M989.7 1163.4L306.7 1065.6M991.7 1150.4L311.4 1035.5M994.1 1137.6L316.8 1005.4M996.7 1124.8L323.1 975.5M999.7 1112.1L330 945.8M1003 1099.4L337.8 916.3M1006.7 1086.9L346.3 886.9M1010.6 1074.4L355.5 857.8M1014.9 1062L365.4 829M1019.4 1049.8L376.1 800.3M1024.3 1037.7L387.5 772M1029.5 1025.7L399.6 744M1035 1013.8L412.4 716.3M1040.8 1002.1L425.9 688.9M1046.8 990.5L440.1 661.9M1053.2 979.1L455 635.2M1059.9 967.8L470.6 608.9M1066.8 956.8L486.8 583M1074 945.9L503.7 557.6M1081.5 935.1L521.2 532.6M1089.3 924.6L539.3 508M1097.3 914.3L558 483.9M1105.6 904.2L577.4 460.2M1114.1 894.3L597.3 437.1M1122.9 884.6L617.8 414.5M1131.9 875.2L638.9 392.4M1141.2 865.9L660.6 370.9M1150.7 856.9L682.7 349.9M1160.4 848.2L705.4 329.5M1170.4 839.7L728.6 309.6M1180.5 831.5L752.4 290.4M1190.9 823.5L776.5 271.7M1201.4 815.8L801.2 253.7M1212.2 808.3L826.3 236.3M1223.1 801.1L851.8 219.5M1234.2 794.2L877.8 203.4M1245.5 787.6L904.1 188M1256.9 781.3L930.8 173.2M1268.5 775.3L957.9 159.1M1280.3 769.5L985.4 145.7M1292.1 764.1L1013.1 133M1304.2 759L1041.2 121M1316.3 754.1L1069.6 109.8M1328.6 749.6L1098.2 99.2M1341 745.4L1127.2 89.4M1353.4 741.5L1156.3 80.3M1366 738L1185.7 71.9M1378.7 734.7L1215.2 64.3M1391.4 731.8L1245 57.5M1404.2 729.1L1274.9 51.4"/>
<path stroke-width="2.2" d="M2072.1 253.7A1136.7 1136.7 0 1 1 1288 119.9M2037.5 313.2A1067.9 1067.9 0 1 1 1300.9 187.5M2003 372.7A999.1 999.1 0 1 1 1313.8 255.1M1968.4 432.1A930.3 930.3 0 1 1 1326.7 322.7M1933.8 491.6A861.5 861.5 0 1 1 1339.6 390.3M1899.3 551.1A792.7 792.7 0 1 1 1352.5 457.8M1864.7 610.6A723.9 723.9 0 1 1 1365.4 525.4M1830.1 670.1A655.1 655.1 0 1 1 1378.2 593M1795.6 729.6A586.3 586.3 0 1 1 1391.1 660.6"/>
</g>
<g class="s">
<text transform="translate(2122.1 198.1) rotate(-59.1)" dy="10">8</text>
<text transform="translate(2148.2 214.1) rotate(-57.7)" dy="10">3</text>
<text transform="translate(2173.9 230.8) rotate(-56.2)" dy="10">22</text>
<text transform="translate(2199.1 248.2) rotate(-54.8)" dy="10">240</text>
<text transform="translate(2223.9 266.2) rotate(-53.3)" dy="10">247</text>
<text transform="translate(2248.2 284.8) rotate(-51.9)" dy="10">96</text>
<text transform="translate(2272.1 304) rotate(-50.4)" dy="10">276</text>
<text transform="translate(2295.4 323.8) rotate(-49)" dy="10">30</text>
<text transform="translate(2318.3 344.2) rotate(-47.5)" dy="10">27</text>
<text transform="translate(2340.6 365.2) rotate(-46.1)" dy="10">154</text>
<text transform="translate(2362.4 386.7) rotate(-44.6)" dy="10">239</text>
<text transform="translate(2383.6 408.8) rotate(-43.2)" dy="10">56</text>
<text transform="translate(2404.3 431.4) rotate(-41.7)" dy="10">17</text>
<text transform="translate(2424.3 454.5) rotate(-40.3)" dy="10">60</text>
<text transform="translate(2443.8 478.1) rotate(-38.8)" dy="10">10</text>
<text transform="translate(2462.7 502.2) rotate(-37.4)" dy="10">36</text>
<text transform="translate(2481 526.8) rotate(-35.9)" dy="10">238</text>
<text transform="translate(2498.6 551.8) rotate(-34.5)" dy="10">1</text>
<text transform="translate(2515.7 577.3) rotate(-33)" dy="10">313</text>
<text transform="translate(2532 603.2) rotate(-31.6)" dy="10">2</text>
<text transform="translate(2547.7 629.5) rotate(-30.1)" dy="10">66</text>
<text transform="translate(2562.7 656.2) rotate(-28.7)" dy="10">41</text>
<text transform="translate(2577.1 683.2) rotate(-27.2)" dy="10">306</text>
<text transform="translate(2590.7 710.6) rotate(-25.8)" dy="10">112</text>
<text transform="translate(2603.7 738.4) rotate(-24.3)" dy="10">70</text>
<text transform="translate(2616 766.4) rotate(-22.9)" dy="10">243</text>
<text transform="translate(2627.5 794.8) rotate(-21.4)" dy="10">97</text>
<text transform="translate(2638.3 823.4) rotate(-20)" dy="10">225</text>
<text transform="translate(2648.4 852.4) rotate(-18.5)" dy="10">106</text>
<text transform="translate(2657.8 881.5) rotate(-17.1)" dy="10">166</text>
<text transform="translate(2666.4 910.9) rotate(-15.6)" dy="10">167</text>
<text transform="translate(2674.2 940.5) rotate(-14.2)" dy="10">184</text>
<text transform="translate(2681.4 970.3) rotate(-12.7)" dy="10">6</text>
<text transform="translate(2687.7 1000.3) rotate(-11.3)" dy="10">31</text>
<text transform="translate(2693.3 1030.4) rotate(-9.8)" dy="10">54</text>
<text transform="translate(2698.1 1060.6) rotate(-8.4)" dy="10">130</text>
<text transform="translate(2702.2 1091) rotate(-6.9)" dy="10">12</text>
<text transform="translate(2705.5 1121.4) rotate(-5.5)" dy="10">300</text>
<text transform="translate(2708 1151.9) rotate(-4)" dy="10">303</text>
<text transform="translate(2709.8 1182.5) rotate(-2.6)" dy="10">13</text>
<text transform="translate(2710.8 1213.1) rotate(-1.1)" dy="10">28</text>
<text transform="translate(2711 1243.7) rotate(0.3)" dy="10">141</text>
<text transform="translate(2710.4 1274.4) rotate(1.8)" dy="10">227</text>
<text transform="translate(2709.1 1304.9) rotate(3.2)" dy="10">16</text>
<text transform="translate(2706.9 1335.5) rotate(4.7)" dy="10">133</text>
<text transform="translate(2704.1 1366) rotate(6.1)" dy="10">201</text>
<text transform="translate(2700.4 1396.4) rotate(7.6)" dy="10">91</text>
<text transform="translate(2696 1426.7) rotate(9)" dy="10">248</text>
<text transform="translate(2690.8 1456.9) rotate(10.5)" dy="10">283</text>
<text transform="translate(2684.8 1486.9) rotate(11.9)" dy="10">25</text>
<text transform="translate(2678.1 1516.8) rotate(13.4)" dy="10">120</text>
<text transform="translate(2670.6 1546.5) rotate(14.8)" dy="10">285</text>
<text transform="translate(2662.4 1576) rotate(16.3)" dy="10">305</text>
<text transform="translate(2653.4 1605.3) rotate(17.7)" dy="10">158</text>
<text transform="translate(2643.7 1634.3) rotate(19.2)" dy="10">222</text>
<text transform="translate(2633.3 1663.1) rotate(20.6)" dy="10">199</text>
<text transform="translate(2622.1 1691.6) rotate(22.1)" dy="10">224</text>
<text transform="translate(2610.3 1719.9) rotate(23.5)" dy="10">159</text>
<text transform="translate(2597.7 1747.8) rotate(25)" dy="10">165</text>
<text transform="translate(2584.4 1775.4) rotate(26.4)" dy="10">117</text>
<text transform="translate(2570.4 1802.6) rotate(27.9)" dy="10">157</text>
<text transform="translate(2555.7 1829.5) rotate(29.3)" dy="10">169</text>
<text transform="translate(2540.4 1856) rotate(30.8)" dy="10">51</text>
<text transform="translate(2524.4 1882.1) rotate(32.2)" dy="10">61</text>
<text transform="translate(2507.7 1907.8) rotate(33.7)" dy="10">182</text>
<text transform="translate(2490.4 1933.1) rotate(35.1)" dy="10">219</text>
<text transform="translate(2472.4 1957.9) rotate(36.6)" dy="10">187</text>
<text transform="translate(2453.9 1982.2) rotate(38)" dy="10">92</text>
<text transform="translate(2434.7 2006.1) rotate(39.5)" dy="10">19</text>
<text transform="translate(2414.9 2029.5) rotate(40.9)" dy="10">93</text>
<text transform="translate(2394.6 2052.4) rotate(42.4)" dy="10">62</text>
<text transform="translate(2373.6 2074.7) rotate(43.8)" dy="10">118</text>
<text transform="translate(2352.1 2096.5) rotate(45.3)" dy="10">223</text>
<text transform="translate(2330.1 2117.8) rotate(46.7)" dy="10">72</text>
<text transform="translate(2307.5 2138.5) rotate(48.2)" dy="10">203</text>
<text transform="translate(2284.4 2158.6) rotate(49.6)" dy="10">29</text>
<text transform="translate(2260.9 2178.2) rotate(51.1)" dy="10">144</text>
<text transform="translate(2236.8 2197.1) rotate(52.5)" dy="10">286</text>
<text transform="translate(2212.2 2215.4) rotate(54)" dy="10">252</text>
<text transform="translate(2187.2 2233.1) rotate(55.4)" dy="10">32</text>
<text transform="translate(2161.8 2250.1) rotate(56.9)" dy="10">192</text>
<text transform="translate(2135.9 2266.5) rotate(58.3)" dy="10">39</text>
<text transform="translate(2109.7 2282.3) rotate(59.8)" dy="10">204</text>
<text transform="translate(2083 2297.3) rotate(61.3)" dy="10">311</text>
<text transform="translate(2056 2311.7) rotate(62.7)" dy="10">57</text>
<text transform="translate(2028.6 2325.4) rotate(64.2)" dy="10">119</text>
<text transform="translate(2000.8 2338.4) rotate(65.6)" dy="10">4</text>
<text transform="translate(1972.8 2350.7) rotate(67.1)" dy="10">185</text>
<text transform="translate(1944.4 2362.3) rotate(68.5)" dy="10">145</text>
<text transform="translate(1915.8 2373.2) rotate(70)" dy="10">216</text>
<text transform="translate(1886.9 2383.3) rotate(71.4)" dy="10">208</text>
<text transform="translate(1857.8 2392.7) rotate(72.9)" dy="10">221</text>
<text transform="translate(1828.4 2401.4) rotate(74.3)" dy="10">171</text>
<text transform="translate(1798.8 2409.3) rotate(75.8)" dy="10">278</text>
<text transform="translate(1769 2416.4) rotate(77.2)" dy="10">254</text>
<text transform="translate(1739.1 2422.8) rotate(78.7)" dy="10">280</text>
<text transform="translate(1709 2428.5) rotate(80.1)" dy="10">76</text>
<text transform="translate(1678.7 2433.4) rotate(81.6)" dy="10">105</text>
<text transform="translate(1648.4 2437.5) rotate(83)" dy="10">189</text>
<text transform="translate(1618 2440.8) rotate(84.5)" dy="10">299</text>
<text transform="translate(1587.4 2443.4) rotate(85.9)" dy="10">68</text>
<text transform="translate(1556.9 2445.2) rotate(87.4)" dy="10">220</text>
<text transform="translate(1526.3 2446.2) rotate(88.8)" dy="10">164</text>
<text transform="translate(1495.6 2446.5) rotate(-89.7)" dy="10" text-anchor="end">186</text>
<text transform="translate(1465 2446) rotate(-88.3)" dy="10" text-anchor="end">206</text>
<text transform="translate(1434.4 2444.7) rotate(-86.8)" dy="10" text-anchor="end">307</text>
<text transform="translate(1403.9 2442.6) rotate(-85.4)" dy="10" text-anchor="end">297</text>
<text transform="translate(1373.4 2439.8) rotate(-83.9)" dy="10" text-anchor="end">108</text>
<text transform="translate(1343 2436.1) rotate(-82.5)" dy="10" text-anchor="end">294</text>
<text transform="translate(1312.7 2431.8) rotate(-81)" dy="10" text-anchor="end">78</text>
<text transform="translate(1282.5 2426.6) rotate(-79.6)" dy="10" text-anchor="end">296</text>
<text transform="translate(1252.4 2420.7) rotate(-78.1)" dy="10" text-anchor="end">86</text>
<text transform="translate(1222.5 2414) rotate(-76.7)" dy="10" text-anchor="end">281</text>
<text transform="translate(1192.8 2406.6) rotate(-75.2)" dy="10" text-anchor="end">312</text>
<text transform="translate(1163.3 2398.4) rotate(-73.8)" dy="10" text-anchor="end">284</text>
<text transform="translate(1134 2389.5) rotate(-72.3)" dy="10" text-anchor="end">304</text>
<text transform="translate(1104.9 2379.8) rotate(-70.9)" dy="10" text-anchor="end">273</text>
<text transform="translate(1076.1 2369.5) rotate(-69.4)" dy="10" text-anchor="end">228</text>
<text transform="translate(1047.6 2358.3) rotate(-68)" dy="10" text-anchor="end">236</text>
<text transform="translate(1019.4 2346.5) rotate(-66.5)" dy="10" text-anchor="end">42</text>
<text transform="translate(991.4 2334) rotate(-65.1)" dy="10" text-anchor="end">230</text>
<text transform="translate(963.8 2320.7) rotate(-63.6)" dy="10" text-anchor="end">151</text>
<text transform="translate(936.5 2306.8) rotate(-62.2)" dy="10" text-anchor="end">15</text>
<text transform="translate(909.6 2292.1) rotate(-60.7)" dy="10" text-anchor="end">132</text>
<text transform="translate(883.1 2276.8) rotate(-59.3)" dy="10" text-anchor="end">246</text>
<text transform="translate(857 2260.9) rotate(-57.8)" dy="10" text-anchor="end">126</text>
<text transform="translate(831.3 2244.2) rotate(-56.4)" dy="10" text-anchor="end">235</text>
<text transform="translate(806 2227) rotate(-54.9)" dy="10" text-anchor="end">69</text>
<text transform="translate(781.1 2209.1) rotate(-53.5)" dy="10" text-anchor="end">74</text>
<text transform="translate(756.7 2190.5) rotate(-52)" dy="10" text-anchor="end">89</text>
<text transform="translate(732.8 2171.4) rotate(-50.6)" dy="10" text-anchor="end">292</text>
<text transform="translate(709.4 2151.7) rotate(-49.1)" dy="10" text-anchor="end">178</text>
<text transform="translate(686.5 2131.3) rotate(-47.7)" dy="10" text-anchor="end">94</text>
<text transform="translate(664.1 2110.4) rotate(-46.2)" dy="10" text-anchor="end">98</text>
<text transform="translate(642.3 2089) rotate(-44.8)" dy="10" text-anchor="end">48</text>
<text transform="translate(621 2067) rotate(-43.3)" dy="10" text-anchor="end">249</text>
<text transform="translate(600.2 2044.4) rotate(-41.9)" dy="10" text-anchor="end">136</text>
<text transform="translate(580.1 2021.4) rotate(-40.4)" dy="10" text-anchor="end">196</text>
<text transform="translate(560.5 1997.8) rotate(-39)" dy="10" text-anchor="end">197</text>
<text transform="translate(541.6 1973.8) rotate(-37.5)" dy="10" text-anchor="end">146</text>
<text transform="translate(523.2 1949.2) rotate(-36.1)" dy="10" text-anchor="end">147</text>
<text transform="translate(505.5 1924.3) rotate(-34.6)" dy="10" text-anchor="end">135</text>
<text transform="translate(488.4 1898.9) rotate(-33.2)" dy="10" text-anchor="end">261</text>
<text transform="translate(472 1873) rotate(-31.7)" dy="10" text-anchor="end">262</text>
<text transform="translate(456.2 1846.8) rotate(-30.3)" dy="10" text-anchor="end">181</text>
<text transform="translate(441.1 1820.1) rotate(-28.8)" dy="10" text-anchor="end">287</text>
<text transform="translate(426.6 1793.1) rotate(-27.4)" dy="10" text-anchor="end">172</text>
<text transform="translate(412.9 1765.8) rotate(-25.9)" dy="10" text-anchor="end">137</text>
<text transform="translate(399.8 1738) rotate(-24.5)" dy="10" text-anchor="end">176</text>
<text transform="translate(387.5 1710) rotate(-23)" dy="10" text-anchor="end">291</text>
<text transform="translate(375.9 1681.7) rotate(-21.6)" dy="10" text-anchor="end">128</text>
<text transform="translate(365 1653.1) rotate(-20.1)" dy="10" text-anchor="end">191</text>
<text transform="translate(354.8 1624.2) rotate(-18.7)" dy="10" text-anchor="end">65</text>
<text transform="translate(345.3 1595.1) rotate(-17.2)" dy="10" text-anchor="end">134</text>
<text transform="translate(336.6 1565.7) rotate(-15.8)" dy="10" text-anchor="end">237</text>
<text transform="translate(328.7 1536.1) rotate(-14.3)" dy="10" text-anchor="end">104</text>
<text transform="translate(321.5 1506.4) rotate(-12.9)" dy="10" text-anchor="end">289</text>
<text transform="translate(315 1476.4) rotate(-11.4)" dy="10" text-anchor="end">302</text>
<text transform="translate(309.3 1446.3) rotate(-10)" dy="10" text-anchor="end">77</text>
<text transform="translate(304.4 1416.1) rotate(-8.5)" dy="10" text-anchor="end">298</text>
<text transform="translate(300.2 1385.8) rotate(-7.1)" dy="10" text-anchor="end">275</text>
<text transform="translate(296.8 1355.3) rotate(-5.6)" dy="10" text-anchor="end">279</text>
<text transform="translate(294.2 1324.8) rotate(-4.2)" dy="10" text-anchor="end">277</text>
<text transform="translate(292.4 1294.2) rotate(-2.7)" dy="10" text-anchor="end">295</text>
<text transform="translate(291.3 1263.6) rotate(-1.3)" dy="10" text-anchor="end">90</text>
<text transform="translate(291 1233) rotate(0.2)" dy="10" text-anchor="end">310</text>
<text transform="translate(291.5 1202.4) rotate(1.6)" dy="10" text-anchor="end">301</text>
<text transform="translate(292.7 1171.8) rotate(3.1)" dy="10" text-anchor="end">290</text>
<text transform="translate(294.8 1141.2) rotate(4.5)" dy="10" text-anchor="end">293</text>
<text transform="translate(297.6 1110.7) rotate(6)" dy="10" text-anchor="end">88</text>
<text transform="translate(301.1 1080.3) rotate(7.4)" dy="10" text-anchor="end">288</text>
<text transform="translate(305.5 1050) rotate(8.9)" dy="10" text-anchor="end">308</text>
<text transform="translate(310.6 1019.8) rotate(10.3)" dy="10" text-anchor="end">143</text>
<text transform="translate(316.4 989.8) rotate(11.8)" dy="10" text-anchor="end">95</text>
<text transform="translate(323.1 959.9) rotate(13.2)" dy="10" text-anchor="end">266</text>
<text transform="translate(330.4 930.1) rotate(14.7)" dy="10" text-anchor="end">102</text>
<text transform="translate(338.6 900.6) rotate(16.1)" dy="10" text-anchor="end">123</text>
<text transform="translate(347.4 871.3) rotate(17.6)" dy="10" text-anchor="end">282</text>
<text transform="translate(357 842.2) rotate(19)" dy="10" text-anchor="end">156</text>
<text transform="translate(367.4 813.4) rotate(20.5)" dy="10" text-anchor="end">9</text>
<text transform="translate(378.5 784.8) rotate(21.9)" dy="10" text-anchor="end">50</text>
<text transform="translate(390.2 756.6) rotate(23.4)" dy="10" text-anchor="end">124</text>
<text transform="translate(402.8 728.6) rotate(24.8)" dy="10" text-anchor="end">35</text>
<text transform="translate(416 701) rotate(26.3)" dy="10" text-anchor="end">100</text>
<text transform="translate(429.9 673.7) rotate(27.7)" dy="10" text-anchor="end">155</text>
<text transform="translate(444.4 646.8) rotate(29.2)" dy="10" text-anchor="end">190</text>
<text transform="translate(459.7 620.2) rotate(30.6)" dy="10" text-anchor="end">194</text>
<text transform="translate(475.6 594.1) rotate(32.1)" dy="10" text-anchor="end">138</text>
<text transform="translate(492.2 568.3) rotate(33.5)" dy="10" text-anchor="end">193</text>
<text transform="translate(509.5 543) rotate(35)" dy="10" text-anchor="end">195</text>
<text transform="translate(527.3 518.1) rotate(36.4)" dy="10" text-anchor="end">168</text>
<text transform="translate(545.8 493.7) rotate(37.9)" dy="10" text-anchor="end">200</text>
<text transform="translate(564.9 469.8) rotate(39.3)" dy="10" text-anchor="end">173</text>
<text transform="translate(584.6 446.3) rotate(40.8)" dy="10" text-anchor="end">170</text>
<text transform="translate(604.9 423.4) rotate(42.2)" dy="10" text-anchor="end">309</text>
<text transform="translate(625.8 401) rotate(43.7)" dy="10" text-anchor="end">217</text>
<text transform="translate(647.2 379.1) rotate(45.1)" dy="10" text-anchor="end">234</text>
<text transform="translate(669.2 357.8) rotate(46.6)" dy="10" text-anchor="end">250</text>
<text transform="translate(691.7 337) rotate(48)" dy="10" text-anchor="end">274</text>
<text transform="translate(714.7 316.8) rotate(49.5)" dy="10" text-anchor="end">140</text>
<text transform="translate(738.2 297.2) rotate(50.9)" dy="10" text-anchor="end">229</text>
<text transform="translate(762.2 278.2) rotate(52.4)" dy="10" text-anchor="end">121</text>
<text transform="translate(786.7 259.8) rotate(53.8)" dy="10" text-anchor="end">63</text>
<text transform="translate(811.7 242) rotate(55.3)" dy="10" text-anchor="end">131</text>
<text transform="translate(837.1 224.9) rotate(56.7)" dy="10" text-anchor="end">116</text>
<text transform="translate(862.9 208.4) rotate(58.2)" dy="10" text-anchor="end">114</text>
<text transform="translate(889.1 192.6) rotate(59.6)" dy="10" text-anchor="end">260</text>
<text transform="translate(915.7 177.5) rotate(61.1)" dy="10" text-anchor="end">265</text>
<text transform="translate(942.7 163) rotate(62.5)" dy="10" text-anchor="end">23</text>
<text transform="translate(970.1 149.2) rotate(64)" dy="10" text-anchor="end">129</text>
<text transform="translate(997.7 136.1) rotate(65.4)" dy="10" text-anchor="end">139</text>
<text transform="translate(1025.8 123.7) rotate(66.9)" dy="10" text-anchor="end">99</text>
<text transform="translate(1054.1 112.1) rotate(68.3)" dy="10" text-anchor="end">241</text>
<text transform="translate(1082.7 101.1) rotate(69.8)" dy="10" text-anchor="end">268</text>
<text transform="translate(1111.5 90.9) rotate(71.2)" dy="10" text-anchor="end">259</text>
<text transform="translate(1140.7 81.4) rotate(72.7)" dy="10" text-anchor="end">263</text>
<text transform="translate(1170 72.7) rotate(74.1)" dy="10" text-anchor="end">264</text>
<text transform="translate(1199.6 64.6) rotate(75.6)" dy="10" text-anchor="end">148</text>
<text transform="translate(1229.3 57.4) rotate(77)" dy="10" text-anchor="end">52</text>
<text transform="translate(1259.2 50.9) rotate(78.5)" dy="10" text-anchor="end">111</text>
</g>
<g class="t">
<text transform="translate(1331.5 78.5) rotate(-10.4)" dy="11.2">SPW</text>
<text transform="translate(1341.3 144.7) rotate(-10.4)" dy="11.2">PH</text>
<text transform="translate(1351.2 217) rotate(-10.4)" dy="11.2">NFPB</text>
<text transform="translate(1361 282.3) rotate(-10.4)" dy="11.2">GD</text>
<text transform="translate(1370.8 350.1) rotate(-10.4)" dy="11.2">PL</text>
<text transform="translate(1380.7 422) rotate(-10.4)" dy="11.2">TGW</text>
<text transform="translate(1390.5 489.1) rotate(-10.4)" dy="11.2">SSR</text>
<text transform="translate(1400.3 558.3) rotate(-10.4)" dy="11.2">GNP</text>
<text transform="translate(1410.1 628.6) rotate(-10.4)" dy="11.2">FGNP</text>
<text transform="translate(1420 695) rotate(-10.4)" dy="11.2">PNP</text>
</g>
<g class="g" text-anchor="middle">
<text x="2771" y="782">I</text>
<text x="2460" y="2393">II</text>
<text x="472" y="2264">III</text>
<text x="628" y="261">IV</text>
</g>
<path d="M1556.9 1232.8A56 56 0 0 1 1449.5 1258.4M1556.9 1232.8L1592.8 1230.4M1554 1161.3A92 92 0 0 1 1563.5 1304M1554 1161.3L1572.4 1135.1M1566 1130.9A124 124 0 0 1 1578.5 1139.7M1566 1130.9L1715.2 888.5M1710.8 885.8A408.6 408.6 0 0 1 1719.6 891.2M1710.8 885.8L1764.8 795.4M1719.6 891.2L1775.9 802.2M1578.5 1139.7L1587.4 1128.6M1579.3 1122.6A138.2 138.2 0 0 1 1595.1 1135.2M1579.3 1122.6L1739.8 889.1M1735.4 886.1A421.6 421.6 0 0 1 1744.2 892.2M1735.4 886.1L1786.8 809.3M1744.2 892.2L1797.5 816.7M1595.1 1135.2L1604.3 1125.3M1596.2 1118.3A151.8 151.8 0 0 1 1611.9 1132.8M1596.2 1118.3L1742.8 936.5M1735.1 930.4A385.3 385.3 0 0 1 1750.3 942.7M1735.1 930.4L1761.4 896.1M1757 892.8A428.6 428.6 0 0 1 1765.6 899.4M1757 892.8L1808.1 824.3M1765.6 899.4L1818.4 832.2M1750.3 942.7L1763.5 927.1M1759.5 923.8A405.7 405.7 0 0 1 1767.4 930.5M1759.5 923.8L1828.5 840.4M1767.4 930.5L1838.5 848.8M1611.9 1132.8L1626.1 1119.6M1619 1112.4A171.2 171.2 0 0 1 1632.7 1127.1M1619 1112.4L1747.2 977.8M1742.2 973.2A357.1 357.1 0 0 1 1752 982.5M1742.2 973.2L1848.2 857.5M1752 982.5L1779.8 954.4M1776.2 950.9A396.6 396.6 0 0 1 1783.3 958M1776.2 950.9L1857.6 866.4M1783.3 958L1866.9 875.5M1632.7 1127.1L1643.9 1117.7M1638.2 1111.1A185.8 185.8 0 0 1 1649.4 1124.6M1638.2 1111.1L1752.5 1006.5M1749.6 1003.4A340.8 340.8 0 0 1 1755.4 1009.8M1749.6 1003.4L1875.9 884.9M1755.4 1009.8L1884.7 894.5M1649.4 1124.6L1666.4 1111.8M1660.7 1104.6A207.1 207.1 0 0 1 1671.7 1119.2M1660.7 1104.6L1810.5 981M1807.2 977.1A401.3 401.3 0 0 1 1813.7 985M1807.2 977.1L1893.2 904.3M1813.7 985L1901.5 914.3M1671.7 1119.2L1692.7 1104.7M1687.6 1097.7A232.6 232.6 0 0 1 1697.4 1112M1687.6 1097.7L1857.7 971.2M1854.3 966.8A444.5 444.5 0 0 1 1861 975.8M1854.3 966.8L1909.5 924.6M1861 975.8L1917.3 935M1697.4 1112L1717 1099.6M1711.9 1091.8A255.8 255.8 0 0 1 1721.9 1107.5M1711.9 1091.8L1924.8 945.6M1721.9 1107.5L1738.7 1097.7M1731.8 1086.5A275.3 275.3 0 0 1 1745.1 1109.2M1731.8 1086.5L1932 956.5M1745.1 1109.2L1762.3 1100.2M1752.2 1082.2A294.8 294.8 0 0 1 1771.2 1118.8M1752.2 1082.2L1939 967.5M1771.2 1118.8L1782.3 1114M1773.4 1095.3A306.8 306.8 0 0 1 1789.9 1133.1M1773.4 1095.3L1787.9 1087.8M1782.6 1077.9A323.2 323.2 0 0 1 1792.9 1097.9M1782.6 1077.9L1892.6 1016M1889.8 1011A449.4 449.4 0 0 1 1895.4 1020.9M1889.8 1011L1945.6 978.6M1895.4 1020.9L1952 990M1792.9 1097.9L1810.6 1089.5M1807.7 1083.7A342.7 342.7 0 0 1 1813.3 1095.4M1807.7 1083.7L1817.2 1079M1815.2 1075A353.3 353.3 0 0 1 1819.2 1083M1815.2 1075L1958.1 1001.5M1819.2 1083L1963.9 1013.1M1813.3 1095.4L1969.4 1024.9M1789.9 1133.1L1809.7 1126.1M1804.7 1113A327.8 327.8 0 0 1 1814.1 1139.3M1804.7 1113L1887.9 1079.1M1885.9 1074.2A417.7 417.7 0 0 1 1889.9 1084M1885.9 1074.2L1974.6 1036.8M1889.9 1084L1979.5 1048.9M1814.1 1139.3L1836.5 1132.4M1832.7 1120.8A351.3 351.3 0 0 1 1840 1144.1M1832.7 1120.8L1843.3 1117.1M1841.8 1112.7A362.6 362.6 0 0 1 1844.8 1121.4M1841.8 1112.7L1984.1 1061M1844.8 1121.4L1988.4 1073.3M1840 1144.1L1887.9 1131M1885.9 1123.7A401 401 0 0 1 1889.9 1138.4M1885.9 1123.7L1933.7 1109.7M1932 1104.2A450.8 450.8 0 0 1 1935.2 1115.2M1932 1104.2L1992.4 1085.7M1935.2 1115.2L1996 1098.2M1889.9 1138.4L1999.4 1110.8M1563.5 1304L1588 1330.4M1623.1 1274.9A128 128 0 0 1 1530 1361.2M1623.1 1274.9L1691.8 1296.5M1700.5 1250.8A200 200 0 0 1 1672.8 1338.9M1700.5 1250.8L1750.4 1254.4M1749.7 1210.7A250 250 0 0 1 1743.4 1297.5M1749.7 1210.7L1781.1 1207.5M1776.8 1179.8A281.6 281.6 0 0 1 1782.6 1235.5M1776.8 1179.8L1908.5 1152.7M1906.9 1145A416 416 0 0 1 1910 1160.4M1906.9 1145L2002.4 1123.4M1910 1160.4L1926.4 1157.4M1925.4 1152A432.7 432.7 0 0 1 1927.4 1162.8M1925.4 1152L2005.1 1136.1M1927.4 1162.8L2007.5 1148.9M1782.6 1235.5L1799 1235.4M1795.8 1193.2A298 298 0 0 1 1796.1 1277.6M1795.8 1193.2L2009.5 1161.8M1796.1 1277.6L1814.9 1280.2M1816.9 1262.2A316.9 316.9 0 0 1 1811.9 1298.2M1816.9 1262.2L1833.3 1263.5M1834.3 1242.2A333.4 333.4 0 0 1 1830.8 1284.7M1834.3 1242.2L1845 1242.4M1844.4 1215.7A344 344 0 0 1 1843.5 1269M1844.4 1215.7L1864.4 1214.5M1862.9 1197.3A364 364 0 0 1 1865 1231.8M1862.9 1197.3L1949.1 1188M1948.5 1182.3A450.7 450.7 0 0 1 1949.7 1193.6M1948.5 1182.3L2011.3 1174.7M1949.7 1193.6L2012.7 1187.6M1865 1231.8L1884.7 1231.5M1884.2 1216.9A383.7 383.7 0 0 1 1884.6 1246.1M1884.2 1216.9L1928.1 1214.7M1927.6 1206.6A427.7 427.7 0 0 1 1928.4 1222.8M1927.6 1206.6L2013.7 1200.6M1928.4 1222.8L1944.9 1222.3M1944.7 1216.7A444.1 444.1 0 0 1 1945 1227.9M1944.7 1216.7L2014.5 1213.6M1945 1227.9L2014.9 1226.6M1884.6 1246.1L1903.6 1246.6M1903.7 1238.9A402.7 402.7 0 0 1 1903.3 1254.2M1903.7 1238.9L2015 1239.6M1903.3 1254.2L1920.5 1254.9M1920.7 1249.6A419.9 419.9 0 0 1 1920.2 1260.3M1920.7 1249.6L2014.7 1252.6M1920.2 1260.3L2014.2 1265.6M1843.5 1269L1966.4 1280.6M1966.9 1274.7A467.5 467.5 0 0 1 1965.8 1286.5M1966.9 1274.7L2013.3 1278.6M1965.8 1286.5L2012 1291.5M1830.8 1284.7L1906.8 1295.8M1907.5 1290.7A410.1 410.1 0 0 1 1906 1301M1907.5 1290.7L2010.5 1304.4M1906 1301L2008.6 1317.3M1811.9 1298.2L1927.1 1321M1928.1 1315.6A434.4 434.4 0 0 1 1926 1326.4M1928.1 1315.6L2006.4 1330.1M1926 1326.4L2003.9 1342.9M1743.4 1297.5L1833.1 1320M1834.1 1315.8A342.5 342.5 0 0 1 1832 1324.2M1834.1 1315.8L2001 1355.6M1832 1324.2L1997.8 1368.2M1672.8 1338.9L1726 1370.7M1742.4 1338.3A262 262 0 0 1 1705.3 1400.5M1742.4 1338.3L1800.4 1362.7M1807.5 1344.3A324.9 324.9 0 0 1 1792.1 1380.7M1807.5 1344.3L1872.3 1367.1M1875.1 1358.8A393.6 393.6 0 0 1 1869.4 1375.3M1875.1 1358.8L1897.1 1366M1899.5 1358.5A416.7 416.7 0 0 1 1894.6 1373.5M1899.5 1358.5L1920.6 1365M1922.2 1359.6A438.9 438.9 0 0 1 1919 1370.3M1922.2 1359.6L1994.4 1380.7M1919 1370.3L1990.5 1393.2M1894.6 1373.5L1986.4 1405.5M1869.4 1375.3L1982 1417.7M1792.1 1380.7L1816.4 1392.7M1820.5 1384.2A352 352 0 0 1 1812.1 1401.2M1820.5 1384.2L1844.7 1395.4M1849.1 1385.6A378.6 378.6 0 0 1 1840 1405.1M1849.1 1385.6L1872.6 1395.6M1875.6 1388.6A404.2 404.2 0 0 1 1869.5 1402.7M1875.6 1388.6L1977.3 1429.8M1869.5 1402.7L1890.5 1412.1M1892.7 1407.2A427.3 427.3 0 0 1 1888.3 1417.1M1892.7 1407.2L1972.2 1441.8M1888.3 1417.1L1966.9 1453.7M1840 1405.1L1961.2 1465.4M1812.1 1401.2L1955.3 1477M1705.3 1400.5L1757.6 1442.4M1774.8 1418.8A329 329 0 0 1 1738.2 1464.4M1774.8 1418.8L1795 1432.2M1805.5 1415.4A353.2 353.2 0 0 1 1783.5 1448.4M1805.5 1415.4L1832.8 1431.5M1836.5 1425.1A384.9 384.9 0 0 1 1829.1 1437.7M1836.5 1425.1L1949 1488.4M1829.1 1437.7L1850.4 1450.8M1853.1 1446.3A409.9 409.9 0 0 1 1847.6 1455.2M1853.1 1446.3L1942.5 1499.7M1847.6 1455.2L1935.7 1510.8M1783.5 1448.4L1796.4 1458.1M1805.6 1445.2A369.3 369.3 0 0 1 1786.7 1470.5M1805.6 1445.2L1883.4 1498.6M1886.7 1493.7A463.6 463.6 0 0 1 1880.1 1503.4M1886.7 1493.7L1928.6 1521.7M1880.1 1503.4L1921.3 1532.4M1786.7 1470.5L1806.5 1486.7M1815 1475.9A394.8 394.8 0 0 1 1797.6 1497.1M1815 1475.9L1851.2 1503.5M1854.5 1499A440.3 440.3 0 0 1 1847.8 1507.9M1854.5 1499L1913.7 1542.9M1847.8 1507.9L1905.8 1553.3M1797.6 1497.1L1808.6 1506.8M1813.7 1500.9A409.5 409.5 0 0 1 1803.4 1512.6M1813.7 1500.9L1831.8 1516.3M1835.3 1512.1A433.2 433.2 0 0 1 1828.2 1520.4M1835.3 1512.1L1897.6 1563.4M1828.2 1520.4L1889.2 1573.4M1803.4 1512.6L1880.6 1583.1M1738.2 1464.4L1871.7 1592.6M1530 1361.2L1545.2 1426.4M1598 1405.7A195 195 0 0 1 1488.6 1431.1M1598 1405.7L1642.8 1483.7M1675.7 1461.7A285 285 0 0 1 1607.1 1501M1675.7 1461.7L1737.3 1541M1760.6 1521.4A385.5 385.5 0 0 1 1712.5 1558.7M1760.6 1521.4L1791.7 1555.5M1800.7 1547.1A431.6 431.6 0 0 1 1782.5 1563.6M1800.7 1547.1L1819 1566M1823.1 1562A457.9 457.9 0 0 1 1814.8 1570M1823.1 1562L1862.6 1601.8M1814.8 1570L1853.2 1610.9M1782.5 1563.6L1800.4 1584.4M1806.9 1578.7A459 459 0 0 1 1793.7 1590M1806.9 1578.7L1843.6 1619.7M1793.7 1590L1804.6 1603.2M1809.2 1599.3A476.1 476.1 0 0 1 1800 1607M1809.2 1599.3L1833.8 1628.2M1800 1607L1823.8 1636.5M1712.5 1558.7L1726.8 1580.5M1740.8 1571A411.5 411.5 0 0 1 1712.5 1589.5M1740.8 1571L1752.6 1587.5M1759.2 1582.6A431.8 431.8 0 0 1 1745.9 1592.2M1759.2 1582.6L1774 1602.4M1778.6 1598.9A456.5 456.5 0 0 1 1769.3 1605.8M1778.6 1598.9L1813.6 1644.6M1769.3 1605.8L1803.1 1652.3M1745.9 1592.2L1792.5 1659.8M1712.5 1589.5L1725.1 1610.5M1734.4 1604.7A436 436 0 0 1 1715.5 1616M1734.4 1604.7L1750.6 1630.2M1755.6 1627A466.2 466.2 0 0 1 1745.6 1633.4M1755.6 1627L1781.7 1667.1M1745.6 1633.4L1770.7 1674.1M1715.5 1616L1724.1 1631.2M1729.1 1628.4A453.4 453.4 0 0 1 1719.1 1634M1729.1 1628.4L1759.6 1680.7M1719.1 1634L1748.2 1687.1M1607.1 1501L1644 1592.9M1664.1 1584.2A384.1 384.1 0 0 1 1623.5 1600.5M1664.1 1584.2L1686.1 1631.3M1696.1 1626.5A436 436 0 0 1 1676.1 1635.8M1696.1 1626.5L1706.6 1647.5M1711.8 1644.9A459.6 459.6 0 0 1 1701.4 1650.1M1711.8 1644.9L1736.7 1693.3M1701.4 1650.1L1725.1 1699.1M1676.1 1635.8L1686.6 1659.7M1691.9 1657.3A462.1 462.1 0 0 1 1681.2 1662M1691.9 1657.3L1713.3 1704.6M1681.2 1662L1701.4 1709.8M1623.5 1600.5L1633.3 1629.5M1648.1 1624.2A414.7 414.7 0 0 1 1618.2 1634.2M1648.1 1624.2L1662.9 1663.2M1668.3 1661.1A456.4 456.4 0 0 1 1657.5 1665.2M1668.3 1661.1L1689.4 1714.7M1657.5 1665.2L1677.2 1719.4M1618.2 1634.2L1626.2 1661.2M1636.9 1657.9A442.7 442.7 0 0 1 1615.4 1664.2M1636.9 1657.9L1643.5 1678.4M1649.1 1676.6A464.3 464.3 0 0 1 1637.9 1680.2M1649.1 1676.6L1664.9 1723.7M1637.9 1680.2L1652.6 1727.6M1615.4 1664.2L1622.8 1691.8M1628.5 1690.2A471.3 471.3 0 0 1 1617 1693.3M1628.5 1690.2L1640.1 1731.3M1617 1693.3L1627.5 1734.7M1488.6 1431.1L1481.9 1535.9M1521 1535.8A300 300 0 0 1 1443.1 1530.9M1521 1535.8L1526.2 1612.8M1557.6 1609.4A377.2 377.2 0 0 1 1494.6 1613.6M1557.6 1609.4L1561.5 1635.3M1577.9 1632.5A403.4 403.4 0 0 1 1545.1 1637.5M1577.9 1632.5L1582.5 1656.3M1590.4 1654.7A427.6 427.6 0 0 1 1574.5 1657.8M1590.4 1654.7L1596.4 1682.6M1602 1681.3A456.2 456.2 0 0 1 1590.8 1683.8M1602 1681.3L1614.9 1737.7M1590.8 1683.8L1602.1 1740.5M1574.5 1657.8L1589.3 1742.9M1545.1 1637.5L1549.1 1674.1M1560.2 1672.7A440.2 440.2 0 0 1 1538 1675.2M1560.2 1672.7L1563.3 1696.2M1569.2 1695.4A464 464 0 0 1 1557.5 1697M1569.2 1695.4L1576.5 1744.9M1557.5 1697L1563.6 1746.7M1538 1675.2L1540.9 1709.2M1546.9 1708.7A474.4 474.4 0 0 1 1534.9 1709.7M1546.9 1708.7L1550.7 1748.1M1534.9 1709.7L1537.7 1749.2M1494.6 1613.6L1493.8 1656.3M1507.1 1656.3A419.9 419.9 0 0 1 1480.6 1655.9M1507.1 1656.3L1507.5 1684.1M1516 1683.9A447.7 447.7 0 0 1 1499 1684.2M1516 1683.9L1516.5 1699.3M1522.4 1699.1A463.1 463.1 0 0 1 1510.7 1699.5M1522.4 1699.1L1524.7 1750M1510.7 1699.5L1511.7 1750.4M1499 1684.2L1498.7 1750.5M1480.6 1655.9L1479.3 1680.9M1487.8 1681.2A444.9 444.9 0 0 1 1470.9 1680.4M1487.8 1681.2L1485.7 1750.3M1470.9 1680.4L1469.5 1701M1475.4 1701.3A465.6 465.6 0 0 1 1463.6 1700.5M1475.4 1701.3L1472.7 1749.7M1463.6 1700.5L1459.7 1748.8M1443.1 1530.9L1425.2 1621.7M1451 1625.9A392.6 392.6 0 0 1 1399.8 1615.8M1451 1625.9L1446.5 1660.2M1455.9 1661.3A427.2 427.2 0 0 1 1437.2 1658.9M1455.9 1661.3L1446.8 1747.6M1437.2 1658.9L1432.9 1687M1441.5 1688.2A455.6 455.6 0 0 1 1424.4 1685.6M1441.5 1688.2L1433.9 1746.1M1424.4 1685.6L1420.6 1707.8M1426.6 1708.8A478.2 478.2 0 0 1 1414.6 1706.8M1426.6 1708.8L1421 1744.2M1414.6 1706.8L1408.2 1742M1399.8 1615.8L1391.9 1645.4M1406.2 1648.9A423.2 423.2 0 0 1 1377.8 1641.3M1406.2 1648.9L1400 1675.9M1408.4 1677.7A450.8 450.8 0 0 1 1391.7 1673.9M1408.4 1677.7L1395.4 1739.5M1391.7 1673.9L1386.5 1694.9M1392.3 1696.3A472.5 472.5 0 0 1 1380.7 1693.4M1392.3 1696.3L1382.7 1736.7M1380.7 1693.4L1370.1 1733.5M1377.8 1641.3L1364.8 1684.1M1370.4 1685.8A467.9 467.9 0 0 1 1359.1 1682.3M1370.4 1685.8L1357.5 1730.1M1359.1 1682.3L1345.1 1726.3M1449.5 1258.4L1383.2 1286.6M1434.5 1345.9A128 128 0 0 1 1376.1 1208.6M1434.5 1345.9L1412.7 1381.8M1420.6 1386.3A170 170 0 0 1 1405.1 1376.9M1420.6 1386.3L1410.6 1404.9M1420.1 1409.6A191.1 191.1 0 0 1 1401.3 1399.6M1420.1 1409.6L1413.7 1423.3M1425.3 1428.3A206.2 206.2 0 0 1 1402.5 1417.6M1425.3 1428.3L1420.1 1441.3M1426.3 1443.6A220.2 220.2 0 0 1 1414 1438.8M1426.3 1443.6L1389.4 1546M1393.3 1547.4A329 329 0 0 1 1385.5 1544.6M1393.3 1547.4L1332.8 1722.2M1385.5 1544.6L1320.5 1717.8M1414 1438.8L1409.4 1449.5M1414.1 1451.5A231.9 231.9 0 0 1 1404.7 1447.5M1414.1 1451.5L1308.4 1713.1M1404.7 1447.5L1399.8 1458.1M1404 1460A243.7 243.7 0 0 1 1395.6 1456.2M1404 1460L1296.4 1708M1395.6 1456.2L1351 1549.1M1355 1551A346.7 346.7 0 0 1 1347.1 1547.2M1355 1551L1284.5 1702.7M1347.1 1547.2L1272.8 1697.1M1402.5 1417.6L1335.6 1540.8M1339.4 1542.8A346.3 346.3 0 0 1 1331.7 1538.7M1339.4 1542.8L1261.2 1691.1M1331.7 1538.7L1249.8 1684.9M1401.3 1399.6L1356.5 1473M1359.5 1474.8A277.1 277.1 0 0 1 1353.5 1471.1M1359.5 1474.8L1238.5 1678.4M1353.5 1471.1L1227.4 1671.6M1405.1 1376.9L1348.1 1460.3M1351 1462.2A271 271 0 0 1 1345.3 1458.4M1351 1462.2L1216.5 1664.6M1345.3 1458.4L1205.8 1657.2M1376.1 1208.6L1344.9 1201.6M1357.3 1306.9A160 160 0 0 1 1401 1111.6M1357.3 1306.9L1316.9 1326.7M1337.6 1360.3A205 205 0 0 1 1303 1289.7M1337.6 1360.3L1292.1 1394.7M1317.3 1423.3A262 262 0 0 1 1271.4 1362.7M1317.3 1423.3L1229.3 1512.6M1243.4 1525.8A387.4 387.4 0 0 1 1215.9 1498.8M1243.4 1525.8L1230.1 1540.8M1245.4 1553.7A407.4 407.4 0 0 1 1215.5 1527.2M1245.4 1553.7L1232.6 1569.6M1242.2 1577.1A427.8 427.8 0 0 1 1223.2 1561.8M1242.2 1577.1L1231.9 1590.6M1236.4 1594A444.8 444.8 0 0 1 1227.4 1587.2M1236.4 1594L1195.2 1649.6M1227.4 1587.2L1184.8 1641.8M1223.2 1561.8L1209.5 1577.9M1216 1583.4A448.9 448.9 0 0 1 1203 1572.3M1216 1583.4L1174.7 1633.6M1203 1572.3L1189.7 1587.4M1194.1 1591.3A469.1 469.1 0 0 1 1185.2 1583.4M1194.1 1591.3L1164.7 1625.2M1185.2 1583.4L1155 1616.6M1215.5 1527.2L1183.7 1559.5M1187.8 1563.5A452.8 452.8 0 0 1 1179.7 1555.5M1187.8 1563.5L1145.5 1607.7M1179.7 1555.5L1136.2 1598.6M1215.9 1498.8L1163.2 1547.3M1167.2 1551.5A459 459 0 0 1 1159.3 1543M1167.2 1551.5L1127.2 1589.3M1159.3 1543L1118.4 1579.7M1271.4 1362.7L1207.3 1398M1225 1426.7A335.2 335.2 0 0 1 1192.5 1367.7M1225 1426.7L1211.8 1435.8M1230.8 1460.9A351.2 351.2 0 0 1 1195.1 1409.1M1230.8 1460.9L1141.3 1535.3M1145.1 1539.8A467.6 467.6 0 0 1 1137.5 1530.7M1145.1 1539.8L1109.8 1569.9M1137.5 1530.7L1101.5 1559.9M1195.1 1409.1L1171.4 1422.4M1182.1 1440.1A378.4 378.4 0 0 1 1161.8 1404.2M1182.1 1440.1L1165.5 1450.7M1172.8 1461.7A398 398 0 0 1 1158.6 1439.4M1172.8 1461.7L1151.7 1476.2M1157.1 1483.8A423.6 423.6 0 0 1 1146.5 1468.4M1157.1 1483.8L1140.6 1495.8M1145.6 1502.6A444 444 0 0 1 1135.7 1488.9M1145.6 1502.6L1128.1 1515.6M1131.6 1520.3A465.8 465.8 0 0 1 1124.6 1510.9M1131.6 1520.3L1093.4 1549.7M1124.6 1510.9L1085.6 1539.3M1135.7 1488.9L1078.1 1528.7M1146.5 1468.4L1070.8 1517.9M1158.6 1439.4L1135.8 1452.9M1140 1459.8A424.5 424.5 0 0 1 1131.7 1446M1140 1459.8L1063.9 1506.9M1131.7 1446L1110 1458.3M1112.8 1463.2A449.5 449.5 0 0 1 1107.2 1453.3M1112.8 1463.2L1057.2 1495.7M1107.2 1453.3L1050.7 1484.4M1161.8 1404.2L1128.1 1420.8M1131.7 1427.8A415.9 415.9 0 0 1 1124.7 1413.7M1131.7 1427.8L1044.6 1473M1124.7 1413.7L1101.5 1424.6M1103.9 1429.6A441.6 441.6 0 0 1 1099.1 1419.5M1103.9 1429.6L1038.8 1461.3M1099.1 1419.5L1033.2 1449.6M1192.5 1367.7L1028 1437.6M1303 1289.7L1269.2 1298.8M1277.8 1324.8A240 240 0 0 1 1263.6 1272M1277.8 1324.8L1023.1 1425.6M1263.6 1272L1233.2 1276.6M1246.8 1329.7A270.8 270.8 0 0 1 1230.6 1221.8M1246.8 1329.7L1018.4 1413.5M1230.6 1221.8L1222.3 1221.3M1224 1270.5A279.1 279.1 0 0 1 1229.3 1172.7M1224 1270.5L1212.1 1271.9M1223.6 1324.5A291.1 291.1 0 0 1 1210.5 1218.2M1223.6 1324.5L1128 1354.8M1130.3 1361.9A391.3 391.3 0 0 1 1125.9 1347.7M1130.3 1361.9L1014.1 1401.2M1125.9 1347.7L1071.8 1363.7M1073.4 1369.2A447.7 447.7 0 0 1 1070.2 1358.3M1073.4 1369.2L1010.1 1388.8M1070.2 1358.3L1006.4 1376.3M1210.5 1218.2L1197.8 1217.4M1197.9 1256.7A303.8 303.8 0 0 1 1202.8 1178.3M1197.9 1256.7L1185.3 1257.5M1194.5 1314.8A316.4 316.4 0 0 1 1186.8 1199.5M1194.5 1314.8L1003 1363.8M1186.8 1199.5L1179.6 1198.7M1178.4 1210.8A323.6 323.6 0 0 1 1181.3 1186.6M1178.4 1210.8L1165.4 1209.8M1164.7 1222.4A336.6 336.6 0 0 1 1166.6 1197.3M1164.7 1222.4L1152.6 1221.8M1152.3 1234.7A348.7 348.7 0 0 1 1153.4 1209M1152.3 1234.7L1144.6 1234.6M1144.8 1247.3A356.4 356.4 0 0 1 1144.9 1221.9M1144.8 1247.3L1128.3 1247.8M1128.9 1260.2A372.9 372.9 0 0 1 1128.1 1235.4M1128.9 1260.2L1120.5 1260.7M1121.8 1276.3A381.3 381.3 0 0 1 1119.8 1245.1M1121.8 1276.3L1108.8 1277.7M1111 1295A394.4 394.4 0 0 1 1107.3 1260.3M1111 1295L1100 1296.7M1102.6 1311.9A405.5 405.5 0 0 1 1098 1281.4M1102.6 1311.9L1087.8 1314.7M1089.9 1325.1A420.5 420.5 0 0 1 1085.9 1304.2M1089.9 1325.1L1075 1328.3M1076.2 1333.7A435.7 435.7 0 0 1 1073.9 1322.9M1076.2 1333.7L999.9 1351.1M1073.9 1322.9L997.2 1338.4M1085.9 1304.2L1055.7 1309.1M1056.6 1314.7A451.2 451.2 0 0 1 1054.8 1303.5M1056.6 1314.7L994.8 1325.6M1054.8 1303.5L992.7 1312.8M1098 1281.4L1083.3 1283.1M1083.9 1288.3A420.3 420.3 0 0 1 1082.7 1277.8M1083.9 1288.3L990.9 1299.9M1082.7 1277.8L989.5 1287M1107.3 1260.3L1053.4 1263.6M1053.7 1269.2A448.5 448.5 0 0 1 1053.1 1257.9M1053.7 1269.2L988.4 1274M1053.1 1257.9L987.6 1261M1119.8 1245.1L987.1 1248M1128.1 1235.4L987 1235M1144.9 1221.9L1127.6 1221.2M1127.5 1226A373.7 373.7 0 0 1 1127.8 1216.5M1127.5 1226L987.2 1222M1127.8 1216.5L987.7 1209M1153.4 1209L988.6 1196M1166.6 1197.3L1115.4 1191.3M1114.8 1196.1A388.3 388.3 0 0 1 1116 1186.4M1114.8 1196.1L989.8 1183.1M1116 1186.4L991.3 1170.2M1181.3 1186.6L993.1 1157.3M1202.8 1178.3L1052.6 1149M1051.5 1154.7A456.9 456.9 0 0 1 1053.7 1143.3M1051.5 1154.7L995.3 1144.5M1053.7 1143.3L997.8 1131.7M1229.3 1172.7L1000.6 1119M1401 1111.6L1358.5 1058.5M1322.6 1094.6A228 228 0 0 1 1401.5 1031.4M1322.6 1094.6L1272.5 1054.7M1251.1 1085.4A292 292 0 0 1 1297.6 1027M1251.1 1085.4L1199.6 1054.2M1176.5 1099.3A352.3 352.3 0 0 1 1228.8 1012.9M1176.5 1099.3L1149.5 1087.9M1140.6 1111A381.6 381.6 0 0 1 1159.9 1065.4M1140.6 1111L1120.6 1104M1115.4 1119.8A402.9 402.9 0 0 1 1126.3 1088.5M1115.4 1119.8L1090.6 1112.3M1087.6 1122.7A428.8 428.8 0 0 1 1093.9 1101.9M1087.6 1122.7L1072.6 1118.6M1071.1 1124A444.3 444.3 0 0 1 1074.1 1113.2M1071.1 1124L1003.7 1106.4M1074.1 1113.2L1007.2 1093.8M1093.9 1101.9L1077.1 1096.4M1075.3 1101.7A446.5 446.5 0 0 1 1078.9 1091M1075.3 1101.7L1011 1081.4M1078.9 1091L1015.1 1069M1126.3 1088.5L1082.9 1071.3M1079.8 1079.3A449.6 449.6 0 0 1 1086.1 1063.4M1079.8 1079.3L1019.4 1056.8M1086.1 1063.4L1061.8 1053.3M1059.5 1058.9A475.9 475.9 0 0 1 1064.1 1047.7M1059.5 1058.9L1024.2 1044.6M1064.1 1047.7L1029.2 1032.6M1159.9 1065.4L1101.1 1036M1097.4 1043.6A447.4 447.4 0 0 1 1105 1028.4M1097.4 1043.6L1079.7 1035.2M1077.2 1040.5A466.9 466.9 0 0 1 1082.3 1029.9M1077.2 1040.5L1034.5 1020.8M1082.3 1029.9L1040.1 1009M1105 1028.4L1046 997.4M1228.8 1012.9L1213.6 1000.3M1199.6 1018.5A372 372 0 0 1 1228.7 983.1M1199.6 1018.5L1182.2 1006M1167.6 1027.6A393.4 393.4 0 0 1 1198.2 985.3M1167.6 1027.6L1152.4 1018.1M1144.4 1031.5A411.3 411.3 0 0 1 1161 1005M1144.4 1031.5L1104.3 1008.5M1101.5 1013.5A457.6 457.6 0 0 1 1107.2 1003.4M1101.5 1013.5L1052.2 986M1107.2 1003.4L1058.7 974.7M1161 1005L1147.1 995.6M1141.1 1004.6A428.1 428.1 0 0 1 1153.3 986.7M1141.1 1004.6L1099.6 977.8M1096.3 982.9A477.5 477.5 0 0 1 1102.9 972.8M1096.3 982.9L1065.4 963.6M1102.9 972.8L1072.5 952.7M1153.3 986.7L1132.2 971.5M1128.8 976.2A454.2 454.2 0 0 1 1135.5 966.9M1128.8 976.2L1079.8 941.9M1135.5 966.9L1087.4 931.3M1198.2 985.3L1163 956M1157.7 962.5A439.2 439.2 0 0 1 1168.4 949.7M1157.7 962.5L1139.5 947.9M1135.8 952.5A462.6 462.6 0 0 1 1143.2 943.4M1135.8 952.5L1095.2 921M1143.2 943.4L1103.4 910.8M1168.4 949.7L1111.7 900.8M1228.7 983.1L1155.2 914.7M1151.2 919.1A472.4 472.4 0 0 1 1159.3 910.3M1151.2 919.1L1120.3 891.1M1159.3 910.3L1129.2 881.6M1297.6 1027L1187 913.1M1182.9 917.1A450.7 450.7 0 0 1 1191.1 909.2M1182.9 917.1L1138.3 872.3M1191.1 909.2L1147.6 863.2M1401.5 1031.4L1383.1 993.6M1337.2 1021.9A270 270 0 0 1 1433.7 975M1337.2 1021.9L1315.2 993M1296.2 1008.8A306.2 306.2 0 0 1 1335.5 978.8M1296.2 1008.8L1157.2 854.4M1335.5 978.8L1322.7 958.9M1302 973.3A330 330 0 0 1 1344.4 946.1M1302 973.3L1256.4 912.9M1247.3 920A405.6 405.6 0 0 1 1265.7 906.1M1247.3 920L1234 903.4M1227.7 908.5A426.9 426.9 0 0 1 1240.3 898.4M1227.7 908.5L1213.7 891.8M1209.4 895.4A448.7 448.7 0 0 1 1218.1 888.2M1209.4 895.4L1167 845.8M1218.1 888.2L1177 837.5M1240.3 898.4L1187.2 829.4M1265.7 906.1L1235.6 863.7M1230.9 867.1A457.6 457.6 0 0 1 1240.3 860.4M1230.9 867.1L1197.6 821.6M1240.3 860.4L1208.2 814.1M1344.4 946.1L1331.4 921.9M1308.7 935.2A357.4 357.4 0 0 1 1354.9 910.3M1308.7 935.2L1261.8 861.8M1257.1 864.8A444.6 444.6 0 0 1 1266.5 858.8M1257.1 864.8L1219 806.8M1266.5 858.8L1229.9 799.8M1354.9 910.3L1345.1 888.4M1328.3 896.5A381.4 381.4 0 0 1 1362.4 881.2M1328.3 896.5L1315.8 872M1305.5 877.4A408.9 408.9 0 0 1 1326.2 866.8M1305.5 877.4L1293.5 855.3M1286.3 859.3A434 434 0 0 1 1300.7 851.4M1286.3 859.3L1278.1 844.9M1273.1 847.7A450.6 450.6 0 0 1 1283 842.1M1273.1 847.7L1241.1 793.1M1283 842.1L1252.4 786.6M1300.7 851.4L1263.8 780.5M1326.2 866.8L1307.5 827.2M1302.4 829.7A452.7 452.7 0 0 1 1312.7 824.8M1302.4 829.7L1275.5 774.6M1312.7 824.8L1287.2 769.1M1362.4 881.2L1344.1 834.4M1336.5 837.4A431.6 431.6 0 0 1 1351.8 831.5M1336.5 837.4L1329.4 820.2M1324.1 822.4A450.3 450.3 0 0 1 1334.7 818M1324.1 822.4L1299.1 763.8M1334.7 818L1311.1 758.8M1351.8 831.5L1323.3 754.2M1433.7 975L1394.8 823.6M1379.2 827.9A426.4 426.4 0 0 1 1410.5 819.9M1379.2 827.9L1373.7 809.5M1362.9 812.9A445.6 445.6 0 0 1 1384.5 806.4M1362.9 812.9L1353.6 784.3M1347.9 786.2A475.6 475.6 0 0 1 1359.4 782.5M1347.9 786.2L1335.6 749.9M1359.4 782.5L1347.9 745.8M1384.5 806.4L1379.1 786.3M1373.4 787.9A466.4 466.4 0 0 1 1384.8 784.8M1373.4 787.9L1360.4 742.1M1384.8 784.8L1373 738.7M1410.5 819.9L1399.7 769.7M1393.8 771.1A477.6 477.6 0 0 1 1405.6 768.5M1393.8 771.1L1385.6 735.6M1405.6 768.5L1398.3 732.9" fill="none" stroke="#6e7178" stroke-width="2.2" stroke-linejoin="miter"/>
<g stroke="#111" stroke-width="5.6" stroke-linecap="butt" fill="none">
<path d="M1505.3 1234.3L2902.4 898.1"/>
<path d="M1497.7 1222.8L249.8 916.2"/>
<path d="M1501.4 1234.3L1087.6 2484.6"/>
</g>
<defs><linearGradient id="lg" x1="0" y1="1" x2="0" y2="0">
<stop offset="0%" stop-color="#efefa8"/>
<stop offset="10%" stop-color="#d5e6b0"/>
<stop offset="20%" stop-color="#b3d5b7"/>
<stop offset="30%" stop-color="#95c3c0"/>
<stop offset="40%" stop-color="#80b4c6"/>
<stop offset="50%" stop-color="#6aa3c6"/>
<stop offset="60%" stop-color="#5294be"/>
<stop offset="80%" stop-color="#4080b4"/>
<stop offset="100%" stop-color="#3a70ac"/>
</linearGradient></defs>
<rect x="2752" y="214" width="40" height="312" fill="url(#lg)"/>
<path d="M2793 214L2793 526M2793 215.5L2800 215.5M2793 277.7L2800 277.7M2793 339.6L2800 339.6M2793 401.4L2800 401.4M2793 463.2L2800 463.2M2793 525.2L2800 525.2" stroke="#111" stroke-width="2.6" fill="none"/>
<g class="l">
<text x="2815" y="229.5">1.0</text>
<text x="2815" y="291.7">0.8</text>
<text x="2815" y="353.6">0.6</text>
<text x="2815" y="415.4">0.4</text>
<text x="2815" y="477.2">0.2</text>
<text x="2815" y="539.2">0</text>
</g>
</svg></body></html>
